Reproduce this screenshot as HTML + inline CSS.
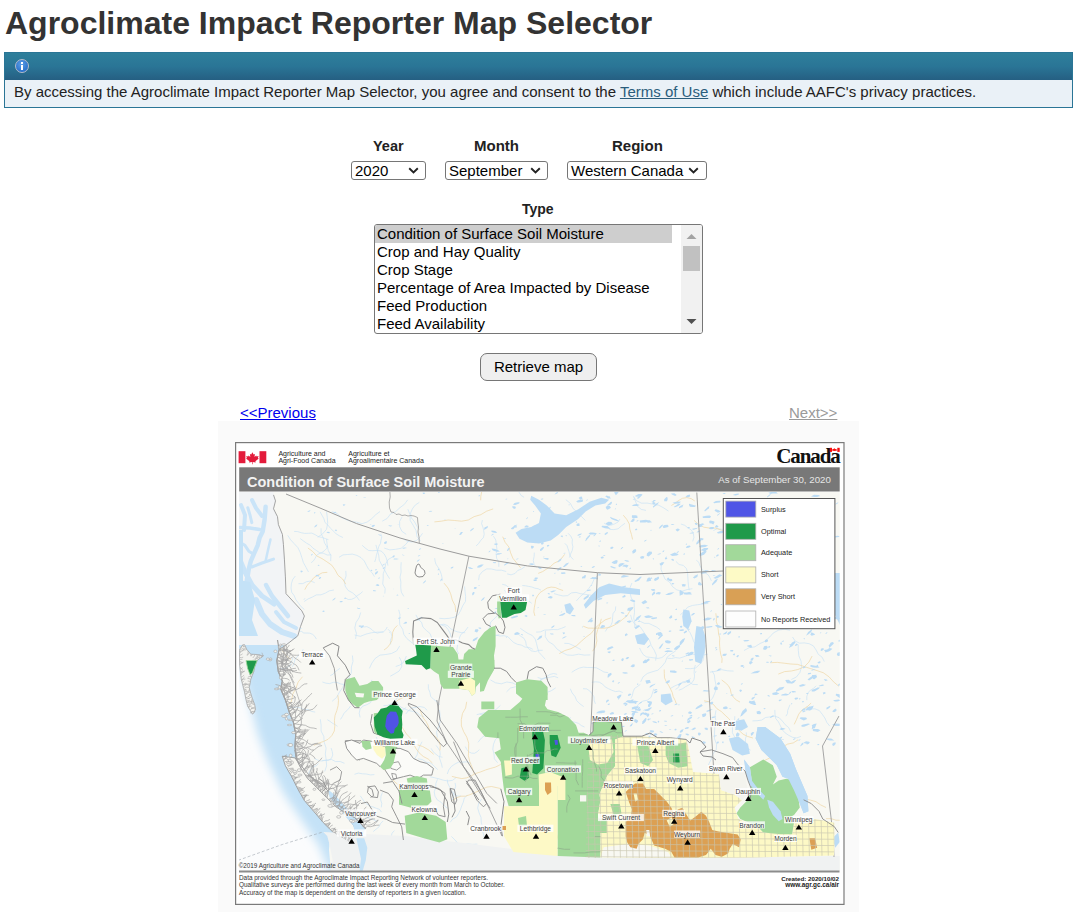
<!DOCTYPE html>
<html lang="en">
<head>
<meta charset="utf-8">
<title>Agroclimate Impact Reporter Map Selector</title>
<style>
*{box-sizing:border-box;margin:0;padding:0}
html,body{width:1079px;height:912px;overflow:hidden;background:#fff}
body{font-family:"Liberation Sans",Arial,sans-serif;color:#333;position:relative}
h1{position:absolute;left:5px;top:4px;font-size:32px;font-weight:bold;color:#333;white-space:nowrap;line-height:38px}
.alert{position:absolute;left:4px;top:52px;width:1069px;height:56px;border:1px solid #2a7596}
.alert .hd{position:absolute;left:0;top:0;right:0;height:27px;background:linear-gradient(#2e7f9b,#2a7596 50%,#255f82)}
.alert .bd{position:absolute;left:0;top:27px;right:0;bottom:0;background:#eaf1f7}
.alert .bd p{position:absolute;left:9px;top:2px;font-size:15px;color:#222;white-space:nowrap;line-height:20px}
.alert a{color:#2a5d7c;text-decoration:underline}
.info{position:absolute;left:10px;top:6px;width:14px;height:14px;border-radius:50%;background:radial-gradient(circle at 45% 35%,#5d9ee6,#2a72cc 70%);border:1px solid #b4bccb}
.info:after{content:"";position:absolute;left:5px;top:5px;width:2px;height:5px;background:#fff}
.info:before{content:"";position:absolute;left:5px;top:2px;width:2px;height:2px;background:#fff}
.lbl{position:absolute;font-size:15px;font-weight:bold;color:#222;white-space:nowrap;line-height:16px}
.sel{position:absolute;height:19px;border:1px solid #767676;border-radius:3px;background:#fff;font-size:15px;color:#000;line-height:17px;padding-left:3px;white-space:nowrap}
.sel svg{position:absolute;top:5px}
.list{position:absolute;left:374px;top:224px;width:329px;height:110px;border:1px solid #767676;border-radius:3px;background:#fff;overflow:hidden}
.list .it{position:absolute;left:0;font-size:15px;color:#000;line-height:18px;white-space:nowrap;padding-left:2px}
.list .it.s{background:#cecece;width:297px}
.sb{position:absolute;right:0;top:0;width:21px;height:108px;background:#f1f1f1}
.btn{position:absolute;left:480px;top:353px;width:117px;height:28px;border:1px solid #767676;border-radius:7px;background:#efefef;font-size:15px;color:#000;text-align:center;line-height:26px}
.lnk{position:absolute;top:404px;font-size:15px;line-height:18px;text-decoration:underline;white-space:nowrap}
.mapwrap{position:absolute;left:218px;top:421px;width:641px;height:491px;background:#fafafa}
#map{position:absolute;left:235px;top:442px;width:610px;height:463px}
</style>
</head>
<body>
<h1>Agroclimate Impact Reporter Map Selector</h1>
<div class="alert">
  <div class="hd"><span class="info"></span></div>
  <div class="bd"><p>By accessing the Agroclimate Impact Reporter Map Selector, you agree and consent to the <a>Terms of Use</a> which include AAFC's privacy practices.</p></div>
</div>

<div class="lbl" style="left:373px;top:138px;font-size:14.5px">Year</div>
<div class="lbl" style="left:474px;top:138px">Month</div>
<div class="lbl" style="left:612px;top:138px">Region</div>

<div class="sel" style="left:351px;top:161px;width:75px">2020<svg style="left:56px" width="11" height="8" viewBox="0 0 11 8"><path d="M1.2 1.3 L5.5 5.4 L9.8 1.3" fill="none" stroke="#222" stroke-width="1.9"/></svg></div>
<div class="sel" style="left:445px;top:161px;width:103px">September<svg style="left:84px" width="11" height="8" viewBox="0 0 11 8"><path d="M1.2 1.3 L5.5 5.4 L9.8 1.3" fill="none" stroke="#222" stroke-width="1.9"/></svg></div>
<div class="sel" style="left:567px;top:161px;width:140px">Western Canada<svg style="left:120px" width="11" height="8" viewBox="0 0 11 8"><path d="M1.2 1.3 L5.5 5.4 L9.8 1.3" fill="none" stroke="#222" stroke-width="1.9"/></svg></div>

<div class="lbl" style="left:522px;top:201px;font-size:14px">Type</div>
<div class="list">
  <div class="it s" style="top:0">Condition of Surface Soil Moisture</div>
  <div class="it" style="top:18px">Crop and Hay Quality</div>
  <div class="it" style="top:36px">Crop Stage</div>
  <div class="it" style="top:54px">Percentage of Area Impacted by Disease</div>
  <div class="it" style="top:72px">Feed Production</div>
  <div class="it" style="top:90px">Feed Availability</div>
  <div class="sb"><svg width="21" height="108" viewBox="0 0 21 108"><path d="M5.5 14 L10.5 9 L15.5 14Z" fill="#a3a3a3"/><rect x="2" y="21" width="17" height="25" fill="#c1c1c1"/><path d="M5.5 94 L10.5 99 L15.5 94Z" fill="#505050"/></svg></div>
</div>
<div class="btn">Retrieve map</div>

<a class="lnk" style="left:240px;color:#0000ee">&lt;&lt;Previous</a>
<a class="lnk" style="left:789px;color:#9a9a9a">Next&gt;&gt;</a>

<div class="mapwrap"></div>
<svg id="map" width="610" height="463" viewBox="235 442 610 463"><defs>
<clipPath id="ocn"><polygon points="239,636 297.8,635.8 286,645 279.1,649.5 276.8,660.5 278.3,671.5 282.3,681 280.7,688.8 285.4,699.9 289.4,712.5 293.3,721.9 295.7,734.5 294.9,747.1 296.4,759.5 301.2,768.9 307.5,778.4 316.9,787.8 326.4,797.3 335.8,806.7 345.3,813 354.7,817.7 361,824 365.8,828.8 362,835 345,838 330,836 329,850 331,872 239,872"/></clipPath>
<clipPath id="mc"><rect x="239" y="492" width="600.7" height="379"/></clipPath>
<clipPath id="skclip"><polygon points="615.1,739.4 623,736.2 641.9,736.2 657.7,737.8 670.3,737.8 686,739.4 688,745.6 690,756 693,772 719,774 721,790 735,795 742,800 734.5,807.5 738.4,819 757.6,826.7 763.3,832.4 792.1,834.3 794,822.8 807.5,822.8 815.1,819 834.3,822.8 834.3,845.8 834,855.5 750,857.5 650,858 600.5,857.5 600.5,830 598,815 600.5,800 599.4,794.5 607.3,775.6 615.1,766.2"/><polygon points="588.6,735.3 593,731.5 593.1,722.1 621.4,722.1 623,736.2 615.1,739.4 615.1,766.2 607.3,775.6 599.4,794.5 600.5,800 598,815 600.5,830 600.5,858 585.5,858"/></clipPath>
<clipPath id="abclip"><polygon points="516.3,683.4 524.1,680.8 534.5,682.1 542.3,684.7 544.9,689.8 547.5,693.7 546.2,698.9 544.9,705.4 547.5,709.3 557.9,711.9 568.2,717.1 576,724.9 578.6,732.7 583.8,732.7 589,735.3 593,731.5 593.1,722.1 621.4,722.1 623,736.2 615.1,739.4 615.1,766.2 607.3,775.6 599.4,794.5 600.5,800 598,815 600.5,830 600.5,857.5 557.5,856 557.5,786 539,786 539,806 508.7,806.2 504,790.3 502.4,777.7 500.8,761.9 494.5,752.5 500.8,749.3 499.3,738.3 485.1,736.7 477.2,727.3 478.8,717.8 488.2,709.9 510.3,709.9 519.7,702.1 526,694.2 516.6,692.6"/></clipPath>
<filter id="blur3" x="-20%" y="-20%" width="140%" height="140%"><feGaussianBlur stdDeviation="5"/></filter>
<filter id="blur6" x="-20%" y="-20%" width="140%" height="140%"><feGaussianBlur stdDeviation="8"/></filter>
</defs><rect x="235" y="442" width="610" height="463" fill="#fff"/><g clip-path="url(#mc)">
<rect x="239" y="492" width="601" height="380" fill="#f8f8f3"/>
<g fill="none" stroke="#c8e2f6" stroke-width="0.65" stroke-linejoin="round">
<polyline points="536.1,632.1 540.4,631.9 544.4,630.1 548.7,629.9 553.1,629.5 557.4,629.7 561.5,628.3 565.6,626.6"/>
<polyline points="363.7,627.0 366.8,626.6 369.6,628.0 372.2,629.8 374.4,632.0 377.3,633.1 380.4,632.4 383.4,631.8 385.8,629.7 387.2,627.0"/>
<polyline points="419.3,502.4 415.3,505.0 412.4,508.8 410.5,513.2 411.4,517.9 414.4,521.6 416.7,525.8 419.4,529.7"/>
<polyline points="591.0,723.3 594.8,724.0 598.8,723.8 602.1,721.7 605.9,720.7 609.6,719.3 613.5,719.5"/>
<polyline points="499.5,729.7 502.8,728.1 504.8,725.1 506.3,721.8 508.6,719.0"/>
<polyline points="518.0,633.7 520.8,636.3 524.0,638.3 525.7,641.7 526.3,645.5 528.5,648.6 531.5,650.9 535.3,651.6 538.8,650.3 542.7,650.3"/>
<polyline points="383.6,632.0 377.7,632.1 371.7,632.7 366.0,634.1 360.4,636.3 354.6,635.0"/>
<polyline points="285.3,706.8 289.0,707.9 292.9,707.7 296.8,707.1 300.5,708.0 304.1,709.6 308.0,709.4 311.4,711.4 315.2,712.1"/>
<polyline points="428.3,684.3 428.4,688.5 429.9,692.4 430.7,696.4 433.7,699.4 437.0,701.8 440.0,704.7"/>
<polyline points="355.6,638.9 356.4,633.3 354.8,628.0 356.0,622.5 359.1,617.8 360.7,612.5"/>
<polyline points="390.3,676.2 394.8,673.7 399.1,671.1 401.7,666.8 401.6,661.7 399.3,657.2"/>
<polyline points="569.4,557.5 570.6,553.9 572.2,550.5 572.9,546.8 572.1,543.1 572.4,539.4 570.7,536.0 568.1,533.3"/>
<polyline points="595.4,703.8 594.2,700.4 594.0,696.8 592.0,693.7 589.7,690.9 586.7,688.9 583.0,688.7"/>
<polyline points="441.5,625.1 445.4,626.3 448.0,629.4 450.0,633.0 451.1,636.9"/>
<polyline points="609.4,529.4 613.8,529.6 618.1,528.8 621.4,525.9 625.0,523.3"/>
<polyline points="326.5,511.5 327.3,517.4 327.7,523.4 326.5,529.3 322.6,533.9 317.7,537.2"/>
<polyline points="675.5,689.4 678.3,687.6 679.8,684.7 682.4,682.8 685.7,682.4 688.2,680.4 690.7,678.3"/>
<polyline points="293.1,657.3 291.6,661.9 289.4,666.2 285.2,668.5 280.4,668.7"/>
<polyline points="689.2,590.2 688.5,585.8 688.1,581.5 687.8,577.1 687.6,572.8 686.4,568.5 683.3,565.4 679.1,564.5 675.9,561.4"/>
<polyline points="347.7,686.1 344.2,684.6 340.5,683.9 337.0,682.4 333.3,682.3 329.7,683.6 326.0,683.2 322.4,682.0"/>
<polyline points="530.3,713.5 528.0,716.5 524.8,718.5 521.2,719.4 518.2,721.6 516.0,724.7 515.0,728.3 512.4,731.0 510.8,734.4 510.8,738.1"/>
<polyline points="479.7,714.4 485.5,714.4 490.9,712.0 496.1,709.4 500.4,705.4"/>
<polyline points="403.8,596.4 401.3,592.1 400.7,587.1 400.9,582.1 400.0,577.1 401.1,572.2 400.9,567.2 401.2,562.2"/>
<polyline points="661.4,563.9 661.0,569.2 662.9,574.3 665.1,579.2 669.6,582.1 672.5,586.6 676.8,589.9 682.0,591.2 687.1,589.6 692.4,588.7"/>
<polyline points="532.8,649.3 529.1,647.5 525.0,647.1 521.4,645.1 517.4,644.3 513.7,642.5 510.7,639.7 507.9,636.7 503.9,635.7 499.8,636.0 495.8,635.0"/>
<polyline points="584.5,727.0 581.4,725.6 578.6,723.4 575.3,722.3 571.9,721.5 569.2,719.3 566.3,717.5 563.2,715.8 559.8,715.4 556.9,713.4 553.4,713.4"/>
<polyline points="590.3,654.9 584.4,655.1 578.7,654.2 572.9,655.3 567.1,655.0 561.9,652.4 557.1,649.1 553.4,644.6 548.4,641.6 545.3,636.7 545.4,630.8"/>
<polyline points="790.0,704.7 788.8,707.5 787.7,710.4 787.5,713.5 785.9,716.2"/>
<polyline points="406.2,707.5 403.3,709.7 400.0,710.7 397.4,713.1 395.9,716.3"/>
<polyline points="571.7,672.3 575.3,670.0 579.2,668.1 583.4,667.1 587.7,667.5 592.1,667.5 596.4,667.8 600.2,669.8 603.9,672.0 608.2,672.7"/>
<polyline points="570.4,717.3 568.6,721.0 565.2,723.5 562.9,726.9 559.4,729.1 555.3,729.1 551.2,729.0 547.0,728.6 543.0,729.6 539.0,730.4"/>
<polyline points="564.3,643.3 568.8,643.5 573.0,645.4 577.0,647.5 581.0,649.6"/>
<polyline points="668.5,511.1 663.7,507.9 658.7,505.2 653.0,504.1 647.3,503.1 641.6,503.2 636.4,500.7 633.2,495.9"/>
<polyline points="345.3,597.8 348.2,599.5 351.6,599.3 354.7,597.9 357.2,595.6 360.1,593.9 362.6,591.6"/>
<polyline points="482.2,646.8 484.5,651.0 486.0,655.5 486.4,660.2 485.7,664.9 482.9,668.8 482.7,673.5 481.8,678.2 479.1,682.1 475.9,685.7"/>
<polyline points="583.7,706.6 580.0,703.9 576.7,700.7 575.0,696.5 572.1,692.9 570.3,688.7"/>
<polyline points="734.8,716.2 734.6,721.8 732.5,727.1 732.4,732.8 735.0,737.8 735.0,743.5 737.4,748.6"/>
<polyline points="333.9,590.0 329.4,590.8 325.3,593.1 321.0,594.8 316.4,594.9 312.3,597.1 308.1,598.9 304.2,601.5"/>
<polyline points="676.1,650.5 671.6,653.7 667.2,657.0 665.3,662.1 661.9,666.4 657.9,670.2 652.6,671.7 647.4,673.4 643.1,676.8 640.7,681.8"/>
<polyline points="380.7,533.7 381.8,536.8 381.0,540.0 380.5,543.3 378.9,546.2 378.0,549.3 377.2,552.5 376.3,555.7 375.7,558.9 374.7,562.0"/>
<polyline points="292.4,666.8 294.1,662.9 295.2,658.8 298.1,655.8 301.4,653.2 303.1,649.3"/>
<polyline points="332.1,701.3 336.5,697.5 339.3,692.4 342.6,687.6 344.9,682.3 348.8,677.9 351.4,672.7 351.4,666.9 353.0,661.3 352.4,655.5"/>
<polyline points="468.1,627.0 464.9,631.3 460.8,634.5 458.8,639.4 457.7,644.6 456.8,649.9 459.0,654.7 462.0,659.1"/>
<polyline points="639.5,647.9 641.2,651.4 643.3,654.7 646.5,656.9 650.3,657.4 654.2,657.9 658.0,658.4 661.9,657.6 664.9,655.2 667.6,652.4"/>
<polyline points="604.1,523.1 607.3,525.1 611.0,525.2 614.6,523.9 617.9,522.1 620.0,519.0"/>
<polyline points="424.2,716.9 420.2,715.5 417.1,712.6 413.0,711.4 408.9,710.6 404.9,709.0 401.1,707.2 397.7,704.6 396.1,700.7"/>
<polyline points="499.5,725.0 495.1,728.4 490.4,731.3 485.9,734.6 481.4,738.0 478.0,742.3"/>
<polyline points="506.2,571.5 501.4,570.2 496.4,570.2 491.6,569.0 486.7,568.9 482.5,571.5 479.3,575.3 478.6,580.2"/>
<polyline points="371.9,679.9 370.2,684.8 366.0,688.0 360.8,688.6 356.5,691.6 351.3,692.4 346.2,693.5"/>
<polyline points="550.1,733.4 549.0,736.5 546.6,738.8 545.3,741.8 542.6,743.7 540.7,746.4 538.1,748.5 537.0,751.5 536.1,754.7"/>
<polyline points="350.5,706.0 348.6,708.8 346.1,711.1 343.8,713.6 342.3,716.6 340.5,719.4"/>
<polyline points="517.8,685.6 512.6,682.9 506.8,682.0 501.3,683.8 495.5,682.8 490.4,679.9"/>
<polyline points="631.9,583.0 630.0,587.8 630.0,593.0 631.3,598.0 634.1,602.3 634.3,607.5 634.5,612.7 633.7,617.8 634.8,622.8 634.8,628.0"/>
<polyline points="633.8,497.3 635.7,501.8 637.5,506.3 641.3,509.4 646.0,510.4"/>
<polyline points="660.3,629.9 656.8,627.2 652.8,625.3 648.8,623.4 644.3,623.3 640.3,621.4 637.2,618.2"/>
<polyline points="533.3,696.4 534.9,693.1 535.5,689.6 537.4,686.4 538.7,683.1 540.7,680.0 544.0,678.5 547.0,676.4 550.0,674.4 553.5,673.5 557.1,674.3"/>
<polyline points="522.3,585.5 525.6,585.8 528.7,586.4 531.9,587.0 534.9,588.2 538.1,588.7 541.0,590.2"/>
<polyline points="327.2,547.2 324.5,542.9 323.3,538.0 321.1,533.4 321.1,528.3"/>
<polyline points="406.4,656.0 404.8,659.7 402.8,663.1 399.5,665.2 395.7,666.5"/>
<polyline points="440.0,624.9 443.9,624.2 447.6,625.6 450.3,628.5 453.7,630.5 457.4,631.8 461.3,632.6 465.2,632.7"/>
<polyline points="504.6,590.0 506.5,593.6 509.6,596.2 512.5,599.1 516.3,600.7 520.4,600.3 524.5,599.7 528.4,600.8 531.7,603.3"/>
<polyline points="407.8,509.1 410.0,514.6 410.2,520.5 413.3,525.5 416.1,530.7 417.0,536.5 420.5,541.2"/>
<polyline points="330.3,675.6 333.1,674.2 334.9,671.8 337.5,670.1 340.0,668.3"/>
<polyline points="680.3,614.8 684.3,611.4 687.6,607.2 692.6,605.4 697.8,604.7 703.0,604.0 708.3,603.4"/>
<polyline points="685.1,668.5 690.4,668.7 695.6,668.0 699.5,664.5 702.9,660.5 704.0,655.3 704.8,650.1 705.9,644.9"/>
<polyline points="298.5,583.7 302.8,583.6 306.6,581.7 310.8,581.0 314.7,582.7"/>
<polyline points="493.4,536.1 495.8,540.0 496.3,544.5 496.9,549.1 496.2,553.6 496.6,558.2 498.8,562.2 498.8,566.8"/>
<polyline points="791.3,679.5 796.4,677.0 799.9,672.5 801.5,667.0 801.1,661.3 798.9,655.9 798.3,650.3 798.2,644.5"/>
<polyline points="409.3,540.3 405.5,544.6 401.1,548.3 395.5,549.3 389.8,549.9 384.3,548.1"/>
<polyline points="554.0,593.6 558.5,594.9 563.0,596.0 567.6,595.6 571.4,592.9 576.0,592.4 580.5,593.7 585.1,594.3 589.7,595.0 594.2,595.9"/>
<polyline points="437.4,737.6 436.6,732.0 438.6,726.7 440.2,721.2 440.1,715.5 439.5,709.9"/>
<polyline points="713.4,530.5 717.6,528.6 722.1,529.4 726.6,528.9 731.1,528.7 735.2,526.6 739.6,525.8 743.0,522.7 747.2,521.1 751.7,521.3 755.9,523.2"/>
<polyline points="330.7,561.1 330.9,555.5 328.2,550.4 327.2,544.9 326.5,539.2"/>
<polyline points="565.8,499.7 570.3,503.3 573.0,508.4 577.2,512.2 581.3,516.3 585.3,520.4"/>
<polyline points="372.4,698.8 370.6,702.6 366.9,704.7 362.9,706.1 360.1,709.2 359.2,713.3 360.1,717.4"/>
<polyline points="655.6,660.6 656.4,655.2 654.2,650.2 651.2,645.5 649.5,640.3 646.2,635.9 643.3,631.3 640.2,626.8 635.1,624.7 632.0,620.2 630.6,614.9"/>
<polyline points="399.7,645.9 396.7,650.9 391.5,653.5 385.8,654.5 380.0,655.1 375.2,658.4 371.9,663.1 369.4,668.4"/>
<polyline points="345.8,570.9 346.1,576.0 344.4,580.9 345.1,586.0 348.0,590.4 352.5,592.8 356.4,596.2 359.4,600.5"/>
<polyline points="384.8,593.6 385.2,588.5 382.7,584.0 383.2,578.9 383.2,573.8 384.9,568.9 385.6,563.9 388.2,559.5 392.6,556.9"/>
<polyline points="362.2,545.3 365.3,548.1 368.7,550.5 372.8,550.7 377.0,550.4 381.1,551.0 384.1,553.8 386.1,557.5 387.3,561.5 387.9,565.6"/>
<polyline points="295.3,576.1 292.7,579.5 291.4,583.7 291.0,588.0 291.7,592.3 294.3,595.8 295.9,599.8 298.5,603.2 301.1,606.7 304.4,609.5"/>
<polyline points="414.8,644.9 410.8,641.8 406.8,638.5 403.8,634.3 402.7,629.3 399.8,625.0 399.5,619.9 400.0,614.8 398.7,609.8"/>
<polyline points="331.2,554.9 327.2,555.0 323.6,553.3 319.6,552.7 316.3,550.4 313.0,548.2 310.3,545.3 306.8,543.3 303.5,541.0 300.3,538.6"/>
<polyline points="320.3,719.2 321.1,725.1 321.1,731.1 323.8,736.4 324.2,742.4 326.1,748.1 325.3,754.0 326.2,759.9 326.6,765.8 324.7,771.5"/>
<polyline points="388.0,629.2 390.9,632.3 391.9,636.4 390.4,640.3 390.7,644.5"/>
<polyline points="704.6,702.6 709.3,701.5 712.6,698.1 714.5,693.7 716.2,689.2 715.9,684.5 714.9,679.8 714.4,675.0 712.1,670.9"/>
<polyline points="573.5,559.6 571.2,557.4 569.6,554.7 569.0,551.6 568.0,548.6 567.0,545.6 564.8,543.3"/>
<polyline points="476.7,714.7 481.8,713.4 486.9,712.0 491.9,713.7 495.8,717.3 497.9,722.1 500.5,726.7 503.5,731.0 506.1,735.6"/>
<polyline points="576.4,600.9 580.2,596.6 584.5,592.9 588.5,588.8 591.9,584.2 594.2,579.0 598.2,574.8"/>
<polyline points="774.8,709.9 775.0,714.2 775.7,718.5 778.4,721.8 780.4,725.7 782.2,729.7 785.1,732.9 788.7,735.3 792.6,737.3 796.9,737.9 800.9,736.4"/>
<polyline points="790.8,731.8 788.7,727.6 785.2,724.6 782.3,721.0 779.1,717.7 774.7,716.1 770.1,716.9 765.5,717.5 761.7,720.1 757.1,720.7 752.5,720.9"/>
<polyline points="536.5,567.5 534.1,564.4 533.3,560.5 534.1,556.6 534.3,552.6"/>
<polyline points="482.9,638.4 487.2,638.7 491.5,638.1 495.2,635.7 499.4,634.7"/>
<polyline points="716.0,710.3 715.0,716.0 716.0,721.6 714.8,727.3 714.5,733.0 714.5,738.8 716.6,744.1 716.2,749.9 712.6,754.4 710.9,759.9 708.3,765.1"/>
<polyline points="391.3,710.6 394.3,713.2 395.5,716.9 397.7,720.1 400.2,723.1"/>
<polyline points="816.1,685.8 813.5,688.4 810.3,690.2 807.9,693.0 806.8,696.5 806.8,700.2"/>
<polyline points="653.8,688.7 652.5,693.0 651.0,697.4 647.4,700.2 642.9,701.1 639.1,703.6 636.3,707.2 635.3,711.7 633.4,715.9 631.7,720.1"/>
<polyline points="327.3,719.7 329.9,721.3 332.3,723.1 335.0,724.6 337.5,726.3"/>
<polyline points="376.3,737.1 377.5,740.8 380.0,743.7 380.8,747.5 379.5,751.1 380.2,754.8"/>
<polyline points="541.2,678.9 540.2,681.9 538.3,684.4 535.4,685.7 532.8,687.6 530.3,689.6 529.2,692.6 528.9,695.8"/>
<polyline points="744.0,650.5 749.2,647.7 754.9,646.8 759.9,643.6 765.2,641.2 769.5,637.2 773.4,632.9 778.6,630.1 784.4,629.2 790.1,630.3"/>
<polyline points="415.9,614.8 418.1,619.1 421.6,622.4 422.9,627.0 426.3,630.4 430.0,633.5 431.8,638.0 434.6,641.9 436.8,646.2"/>
<polyline points="622.7,692.5 619.2,691.1 615.5,691.6 611.9,690.3 608.5,688.7 605.1,686.9 602.6,684.1 599.3,682.2 595.6,681.8 591.8,682.3"/>
<polyline points="308.5,572.0 306.0,567.3 303.4,562.6 301.8,557.5 300.2,552.4 297.9,547.6 294.2,543.7 290.6,539.8 287.7,535.3"/>
<polyline points="615.7,606.4 615.4,610.4 613.0,613.7 612.6,617.8 612.3,621.9 610.8,625.7 607.4,628.0 605.3,631.5"/>
<polyline points="537.7,677.5 541.8,678.7 545.9,677.8 550.1,677.2 554.3,676.4 558.2,677.8"/>
<polyline points="824.3,661.6 822.1,657.2 818.3,654.3 816.1,650.0 813.4,645.9 809.1,643.7 804.3,642.9 799.5,643.2 795.2,641.0 792.5,637.0"/>
<polyline points="406.2,534.3 401.9,531.3 399.6,526.6 399.6,521.4 402.1,516.9"/>
<polyline points="383.4,705.7 387.5,705.4 391.3,703.7 394.7,701.4 397.1,698.0 399.6,694.7"/>
<polyline points="375.9,544.9 377.3,550.0 378.7,555.1 379.3,560.3 381.8,565.0 384.4,569.6 386.8,574.3 389.6,578.7"/>
<polyline points="311.2,562.7 313.5,560.8 315.2,558.2 316.5,555.4 319.0,553.7 321.9,552.6 324.3,550.8 326.5,548.6 327.5,545.8"/>
<polyline points="710.0,672.2 715.9,671.2 721.7,669.7 727.6,670.8 733.6,671.1"/>
<polyline points="427.2,710.3 424.2,707.4 420.1,706.6 416.0,707.5 411.8,708.0 408.5,710.6 405.9,713.9"/>
<polyline points="520.3,628.3 524.1,631.0 528.0,633.5 532.2,635.4 535.2,639.0 536.5,643.5 537.6,648.0 539.0,652.4 542.2,655.8 545.3,659.3"/>
<polyline points="482.4,520.1 481.6,523.7 482.9,527.1 483.7,530.7 484.2,534.3 483.3,537.8 480.7,540.4 478.7,543.4 476.1,546.0"/>
<polyline points="667.5,658.3 671.6,658.5 675.6,657.6 679.7,658.1 683.6,656.8 687.5,655.4 691.4,654.0 695.5,654.7 699.6,654.3 703.6,654.9 707.7,654.2"/>
<polyline points="711.4,580.9 710.0,577.9 708.4,575.1 705.8,573.2 703.3,571.0 701.5,568.3 699.8,565.5 698.8,562.3 696.3,560.2"/>
<polyline points="502.2,584.3 505.9,585.2 508.9,587.5 512.4,589.1 515.3,591.5 516.9,595.0 520.0,597.3 523.8,597.6"/>
<polyline points="464.6,586.5 465.0,591.4 465.6,596.4 465.5,601.4 462.8,605.6 460.8,610.2 458.4,614.6 454.2,617.3 449.3,618.3 444.3,618.7 439.3,618.3"/>
<polyline points="513.1,596.8 512.6,601.2 509.9,604.6 507.7,608.4 504.3,611.2 500.4,613.2 497.1,616.1 493.9,619.1 490.7,622.1 489.8,626.4 488.3,630.5"/>
<polyline points="434.7,558.2 435.1,561.2 435.9,564.1 437.6,566.6 439.2,569.1 440.4,571.9 441.4,574.7 442.0,577.7 442.4,580.7"/>
<polyline points="746.3,732.4 746.4,735.7 745.4,738.8 745.5,742.1 746.1,745.4 747.9,748.2 750.5,750.1"/>
<polyline points="374.4,576.6 372.0,572.6 368.6,569.3 366.4,565.2 364.3,561.0 361.0,557.6 356.9,555.4 352.4,554.1 347.7,554.5 343.0,554.9 339.0,557.3"/>
<polyline points="320.1,511.8 322.0,515.3 323.9,518.7 325.0,522.5 327.9,525.1 330.4,528.2 333.2,530.9 336.0,533.7 339.3,535.8 342.9,537.5"/>
<polyline points="695.4,665.0 694.4,668.6 694.1,672.3 694.6,676.1 693.9,679.8 691.8,682.9 688.7,685.0 685.4,686.8 682.3,688.9 678.8,690.2"/>
<polyline points="630.8,698.6 632.4,695.4 633.1,691.9 634.5,688.5 637.5,686.5 640.4,684.3"/>
<polyline points="670.1,688.7 674.4,686.1 679.0,684.1 683.4,681.6 688.5,681.6 692.7,684.4 697.8,684.6"/>
<polyline points="680.9,524.0 684.7,525.3 687.9,527.8 691.4,530.0 693.4,533.5 693.9,537.5 692.7,541.4"/>
<polyline points="380.0,511.5 375.6,514.8 371.7,518.7 367.2,522.0 362.0,523.7 356.7,522.2 351.2,521.5 346.0,519.6 341.0,517.4 337.1,513.5 331.9,511.6"/>
<polyline points="382.2,521.2 387.1,518.5 390.5,514.0 395.6,511.6 399.8,507.8 404.3,504.4 407.7,499.9"/>
<polyline points="507.1,573.9 511.1,574.8 515.0,573.5 517.7,570.5 521.5,569.0 524.9,566.7"/>
<polyline points="328.5,539.7 325.1,538.5 321.7,537.4 318.2,536.6 315.2,534.7 311.9,533.1 308.3,533.3 304.7,533.4 301.2,532.7 297.7,531.6 294.1,531.4"/>
<polyline points="806.1,706.8 810.2,709.0 814.9,708.8 819.3,710.5 822.2,714.2 824.9,718.1 826.8,722.4 829.8,726.1"/>
<polyline points="298.3,631.2 301.3,631.3 303.8,633.0 306.9,633.0 309.9,633.2 312.7,634.4 314.9,636.5 316.4,639.1"/>
<polyline points="506.6,691.8 510.5,688.0 515.8,686.7 521.0,685.3 526.3,686.1 531.7,686.3 536.4,689.0 540.7,692.3 546.1,692.7 551.2,690.8 555.7,687.9"/>
<polyline points="687.0,619.0 686.5,623.9 687.1,628.7 690.0,632.6 692.1,637.0 693.7,641.6 696.6,645.6"/>
<polyline points="403.6,539.1 407.6,541.4 412.2,542.0 416.6,540.4 419.9,537.1 422.5,533.3"/>
<polyline points="524.1,497.3 521.3,495.6 519.4,492.9 518.4,489.7 515.9,487.6 512.8,486.6 509.6,487.3 506.3,487.6"/>
<polyline points="415.8,775.4 411.8,774.7 408.6,772.3 406.5,769.0 402.9,767.1 399.2,765.7"/>
<polyline points="484.2,837.0 482.9,832.1 482.5,827.2 481.3,822.3 481.0,817.4 479.1,812.8 477.7,808.0 478.7,803.1 481.6,799.1"/>
<polyline points="425.7,795.5 423.3,793.4 421.5,790.7 419.6,788.1 417.5,785.6"/>
<polyline points="467.3,795.2 464.3,798.0 463.3,802.1 461.7,805.9 460.4,809.8 458.6,813.5 456.4,817.1 452.7,819.0 450.2,822.3"/>
<polyline points="393.7,849.2 393.3,845.9 393.2,842.5 391.3,839.7 391.2,836.3 392.1,833.1 394.4,830.6"/>
<polyline points="322.2,760.6 326.8,760.0 331.5,759.5 335.6,761.6 340.2,761.5 344.5,763.3"/>
<polyline points="442.3,767.6 441.6,764.3 440.5,761.0 439.4,757.8 440.2,754.4 439.9,751.0 438.1,748.1 436.1,745.4"/>
<polyline points="451.4,836.4 454.8,839.8 457.9,843.3 459.1,847.8 458.6,852.5 460.0,857.0 462.1,861.2 465.9,863.9"/>
<polyline points="307.4,778.0 308.4,775.0 309.1,771.8 311.0,769.2 313.2,766.8 316.3,765.8 318.4,763.4"/>
<polyline points="497.6,762.7 494.4,758.9 494.0,754.0 492.8,749.2 493.5,744.3 495.3,739.7 498.8,736.3 503.6,735.1 508.5,734.8 513.1,732.9"/>
<polyline points="341.9,824.3 345.1,826.6 349.0,827.3 352.0,829.8 354.6,832.7 357.7,835.2 361.5,836.3 364.0,839.4 365.7,842.9"/>
<polyline points="447.3,779.6 447.7,783.0 449.1,786.1 450.9,789.0 452.3,792.1 454.5,794.7 457.6,796.1 461.0,796.0"/>
<polyline points="319.0,796.5 316.0,799.4 312.1,800.8 308.6,803.1 304.5,803.7 300.4,803.5 296.2,803.5 292.6,801.5"/>
<polyline points="377.5,821.8 373.7,819.8 369.6,818.6 365.6,817.1 362.0,814.8 357.9,813.6 354.1,811.6 349.9,812.0"/>
<polyline points="422.1,741.7 419.9,745.9 418.1,750.3 417.1,755.0 414.5,759.0 410.4,761.6 406.1,763.7 401.7,765.6 398.7,769.3"/>
<polyline points="479.3,749.7 477.1,751.8 474.4,753.3 471.3,753.1 468.6,751.7 466.7,749.3 465.3,746.6"/>
<polyline points="331.1,748.0 332.2,751.5 332.8,755.0 331.4,758.4 328.4,760.4 324.8,760.5 321.2,761.0 317.7,760.1 314.4,758.5"/>
<polyline points="440.2,849.7 443.3,852.7 444.5,856.9 445.7,861.0 446.4,865.3 447.1,869.5 446.1,873.7 445.0,877.9"/>
<polyline points="319.2,827.4 323.3,829.0 326.2,832.3 328.4,836.1 328.2,840.5 328.1,844.9 326.1,848.8 324.4,852.9 324.5,857.2 325.3,861.6"/>
<polyline points="373.2,831.6 376.1,829.2 379.0,826.9 380.6,823.5 383.2,820.9"/>
<polyline points="360.3,795.8 362.3,798.7 364.2,801.6 366.7,804.0 369.6,805.9 372.9,806.9 376.1,808.2 379.4,809.3 381.5,812.1"/>
<polyline points="417.8,758.7 422.4,759.6 426.3,762.2 430.9,763.1 434.3,766.3 437.7,769.6"/>
<polyline points="381.3,807.3 381.8,803.5 380.7,799.9 381.0,796.1 382.4,792.5"/>
<polyline points="442.5,757.2 438.8,756.5 435.8,754.1 433.0,751.6 431.1,748.3"/>
<polyline points="455.1,782.9 455.7,786.4 454.5,789.7 454.0,793.2 453.5,796.6 452.4,800.0"/>
<polyline points="477.3,844.1 472.5,844.4 467.7,843.9 462.9,844.8 458.0,845.2 453.6,847.1 450.6,850.9 446.4,853.4 442.7,856.5"/>
<polyline points="429.7,776.7 434.3,777.7 438.9,778.8 443.3,780.2 447.9,781.0 452.5,780.3 456.3,777.5"/>
<polyline points="374.4,774.6 370.4,774.9 366.4,774.0 362.4,773.8 358.4,773.1 354.5,774.3"/>
<polyline points="437.5,779.3 435.9,783.4 435.7,787.7 434.2,791.9 435.0,796.2 437.3,799.9 441.1,802.2 443.9,805.5 447.4,808.3"/>
<polyline points="471.2,763.5 467.2,761.8 462.9,762.1 458.6,762.1 454.8,764.1 451.3,766.5 448.7,770.0 447.3,774.0"/>
</g>
<g fill="none" stroke="#efd7a6" stroke-width="0.7" stroke-linejoin="round">
<polyline points="307.9,548.0 312.7,551.5 316.7,555.9 322.0,558.6 326.9,561.8 331.8,565.2 335.2,570.1 338.0,575.3 342.6,579.0 345.7,584.1"/>
<polyline points="704.0,700.8 709.2,701.8 713.6,704.6 716.9,708.7 721.3,711.5 725.1,715.2 728.9,718.7 732.1,723.0 735.6,726.9 739.2,730.6 743.1,734.2 747.8,736.5 752.9,738.0"/>
<polyline points="694.1,520.4 698.4,524.5 703.8,527.2 709.7,528.1 715.7,528.1 721.3,530.2 726.8,532.6 731.2,536.7 736.4,539.6 741.8,542.2 747.2,545.0"/>
<polyline points="770.5,662.7 777.3,662.4 784.1,663.2 790.8,664.0 797.6,664.4 804.1,666.5 810.5,668.6 817.0,670.6 823.4,672.8 829.0,676.8 833.5,681.8 838.7,686.2"/>
<polyline points="298.1,787.3 294.8,782.5 291.1,778.1 287.7,773.4 285.7,768.0 283.0,762.9 280.7,757.6 278.3,752.3 278.1,746.6 277.1,740.9 277.0,735.1 275.7,729.5"/>
<polyline points="433.7,754.3 428.6,749.9 422.7,746.5 416.2,744.5 409.5,743.9 403.3,741.3 396.5,740.9 389.9,742.2 383.4,744.0 376.8,745.6"/>
<polyline points="502.7,536.7 505.1,542.3 508.9,547.0 510.6,552.8 512.9,558.3 516.7,563.0 520.5,567.7"/>
<polyline points="559.3,653.6 564.9,650.5 571.0,648.7 576.7,645.6 581.4,641.2 586.2,637.0 591.4,633.2 595.2,628.0 600.0,623.8 605.1,619.9 611.1,617.8"/>
<polyline points="798.2,739.7 793.3,742.9 787.6,744.1 782.6,747.0 777.9,750.4 774.2,755.0 769.3,758.2 764.1,760.7 759.3,764.1 754.4,767.2"/>
<polyline points="434.4,521.9 441.2,521.2 448.0,520.0 454.8,520.5 461.6,521.2 468.3,520.0 474.2,516.6 480.8,514.7 486.6,511.2 493.1,508.9"/>
<polyline points="676.5,704.2 675.1,700.3 673.2,696.6 672.2,692.5 670.4,688.7 668.5,685.1 666.2,681.6 664.5,677.8 664.3,673.6 664.2,669.5"/>
<polyline points="601.3,618.8 600.0,624.4 597.7,629.6 596.2,635.1 596.9,640.8 595.7,646.4 592.6,651.2"/>
<polyline points="397.4,625.4 394.5,628.4 392.7,632.2 392.4,636.4 391.9,640.5 389.9,644.2 387.4,647.5 384.0,650.0"/>
<polyline points="721.7,680.0 725.1,682.6 728.2,685.4 730.3,689.1 731.1,693.3 733.2,697.0 736.3,700.0 740.0,702.1"/>
<polyline points="671.4,505.5 675.2,503.2 678.6,500.5 682.5,498.3 686.8,497.6 691.1,498.6 694.8,501.0"/>
<polyline points="798.9,799.8 804.7,798.8 810.4,800.1 816.0,801.7 820.8,805.0 826.0,807.5"/>
<polyline points="383.2,768.1 386.2,771.3 389.6,773.9 391.7,777.7 394.1,781.3 397.4,784.1"/>
<polyline points="392.5,709.7 393.5,705.8 395.4,702.3 398.5,699.7 402.1,698.0 405.6,696.1 408.9,693.7"/>
<polyline points="480.7,500.3 480.8,496.2 481.6,492.1 482.5,488.1 482.9,483.9 483.8,479.9 486.0,476.4 488.0,472.7 489.0,468.7 489.1,464.6"/>
<polyline points="538.2,573.4 542.6,571.6 546.5,569.1 550.5,566.5 554.0,563.3 558.2,561.2 561.8,558.1 564.6,554.4"/>
<polyline points="455.8,612.0 455.1,605.7 452.3,600.0 450.7,593.8 448.0,588.0 444.0,583.1"/>
<polyline points="517.9,846.4 516.2,850.2 513.5,853.5 509.8,855.5 506.2,857.7 502.4,859.4 499.0,861.8 494.9,862.8 491.1,864.7 487.0,865.3 482.8,865.7"/>
<polyline points="825.9,818.7 831.0,818.6 835.9,820.2 841.1,820.3 846.1,819.2 851.2,819.7"/>
<polyline points="818.3,825.7 815.3,828.9 811.3,830.9 808.0,833.8 805.6,837.5 802.7,840.9 798.9,843.2 794.8,844.8"/>
<polyline points="812.1,656.1 808.9,662.1 804.2,666.9 797.9,669.5 791.3,671.0 784.6,671.6 778.3,674.1"/>
<polyline points="466.7,701.8 465.6,708.0 462.5,713.4 461.3,719.6 461.4,725.9 463.7,731.7 466.8,737.2 468.7,743.2 468.6,749.4 468.4,755.7 469.8,761.8 472.2,767.7 474.1,773.7"/>
<polyline points="451.9,776.4 456.9,777.6 461.8,778.6 466.8,777.8 471.4,775.7 475.9,773.4 480.7,771.9 485.4,770.0 490.2,768.5 495.1,767.2 499.7,765.1 503.2,761.4 506.4,757.5"/>
<polyline points="742.4,836.2 748.8,837.2 754.9,838.9 761.1,840.5 767.5,840.4 773.4,838.0 778.9,834.6 782.7,829.5 785.6,823.8 789.0,818.3 791.7,812.6 794.4,806.8"/>
<polyline points="633.2,607.6 629.6,611.5 626.9,616.0 622.7,619.3 618.6,622.6 614.0,625.3 609.2,627.5 604.0,628.2 598.7,628.1 593.4,628.2 588.1,628.1 583.2,626.2"/>
<polyline points="710.9,826.5 707.8,829.8 705.3,833.5 704.2,837.8 702.4,841.9 701.1,846.2 699.7,850.4 698.2,854.7 695.4,858.2 692.6,861.6 690.1,865.4 689.3,869.8"/>
<polyline points="563.1,590.5 559.1,589.2 555.3,587.5 551.2,587.1 547.1,588.0 543.6,590.3 540.1,592.5 537.5,595.8 535.6,599.5 535.1,603.6 534.3,607.7 533.8,611.8 534.9,615.9"/>
<polyline points="397.2,719.8 400.3,724.5 403.4,729.3 406.5,734.0 410.4,738.1 413.1,743.1 415.7,748.1 419.0,752.7 423.3,756.5 428.3,759.1 432.4,763.0"/>
<polyline points="731.9,842.4 737.9,840.2 744.3,839.5 750.6,840.4 756.9,839.6 763.3,840.4 769.7,840.2 775.9,838.7 782.3,839.4"/>
<polyline points="302.6,676.7 298.2,681.9 295.9,688.3 292.7,694.3 291.5,701.0 287.9,706.8 282.8,711.2 278.4,716.4 275.4,722.5 271.5,728.1 266.6,732.8 260.3,735.2"/>
<polyline points="632.6,539.5 631.4,534.3 629.8,529.2 629.3,524.0 626.7,519.3 623.3,515.2"/>
<polyline points="561.6,823.2 560.9,827.2 560.3,831.3 558.2,834.9 557.0,838.8 555.3,842.5 554.9,846.6 555.6,850.7 556.5,854.7 557.5,858.7 558.0,862.8"/>
<polyline points="304.8,589.7 307.1,585.3 310.7,581.8 313.7,577.8 317.9,575.1 322.3,572.8 327.3,572.3"/>
<polyline points="715.8,613.3 716.4,617.5 716.3,621.7 717.6,625.6 718.2,629.8 718.6,634.0 719.8,638.0 719.5,642.2 719.7,646.4 720.1,650.6 720.8,654.7 722.1,658.7 721.8,662.9"/>
<polyline points="452.6,800.3 456.5,797.8 460.9,796.2 465.5,796.2 469.9,794.7 474.2,792.9 478.5,791.0 482.6,788.9 486.9,787.1 491.5,786.5 496.0,787.5 500.6,788.5"/>
<polyline points="811.1,703.1 807.0,706.9 802.2,709.8 798.7,714.2 796.6,719.3 794.2,724.4"/>
<polyline points="439.9,750.5 440.3,745.7 439.0,741.1 436.2,737.2 432.2,734.5 429.5,730.6 428.3,725.9 426.1,721.6 423.1,717.9 421.4,713.4 419.9,708.9"/>
<polyline points="291.2,660.0 285.9,655.4 281.8,649.7 276.7,645.0 272.9,639.2 267.9,634.2 264.6,628.1 260.9,622.2"/>
<polyline points="337.8,695.2 338.5,700.4 338.1,705.6 336.8,710.6 335.0,715.5 334.4,720.7 334.8,725.9 334.3,731.0 331.8,735.6 328.1,739.3 323.4,741.5 318.5,743.2 313.8,745.4"/>
</g>
<g clip-path="url(#ocn)">
<polygon points="239,636 297.8,635.8 286,645 279.1,649.5 276.8,660.5 278.3,671.5 282.3,681 280.7,688.8 285.4,699.9 289.4,712.5 293.3,721.9 295.7,734.5 294.9,747.1 296.4,759.5 301.2,768.9 307.5,778.4 316.9,787.8 326.4,797.3 335.8,806.7 345.3,813 354.7,817.7 361,824 365.8,828.8 362,835 345,838 330,836 329,850 331,872 239,872" fill="#fbfcfd" stroke="none" stroke-width="0" />
<g filter="url(#blur3)">
<polyline points="239,600 250,640 262,690 272,730 282,756 296,785 314,812 332,838 346,872" fill="none" stroke="#c4e2f7" stroke-width="30"/>
<polyline points="280,640 290,700 300,760 330,800 365,830 340,872" fill="none" stroke="#c4e2f7" stroke-width="30"/>
</g>
<polygon points="250,640 281,640 278,660 280,690 287,712 293,735 290,752 282,756 268,735 262,700 258,670" fill="#c4e2f7" stroke="none" stroke-width="0" />
<polygon points="239,636 290,636 286,648 239,648" fill="#c4e2f7" stroke="none" stroke-width="0" />
</g>
<polygon points="239,492 273.5,492 273.5,494.9 275.5,500.9 273.5,508.8 277.5,516.7 278.4,524.6 282.4,534.4 283.4,544.3 284.4,559.1 285.4,576.9 286,593.7 301.8,610.8 304.4,616 300.5,626.6 297.8,635.8 286,645 239,645" fill="#f2f4f6" stroke="none" stroke-width="0" />
<g fill="none" stroke="#cae4f8" stroke-linecap="round" stroke-linejoin="round">
<polyline stroke-width="4.5" points="265.6,506.8 264.6,519.6 262.7,531.5 259.7,537.4 257.7,545.3 253.8,554.2 250.8,561.1 248.8,569 246.9,580 245,600 243,620"/>
<polyline stroke-width="3.5" points="240,527.5 250,528 259.7,529.5"/>
<polyline stroke-width="3" points="247.8,507.8 250,515 251.8,522.6"/>
<polyline stroke-width="3" points="241,543 244.9,545.3 248.8,551.2 253.8,554.2"/>
<polyline stroke-width="3" points="251.8,567 262,563 273.5,559.1"/>
<polyline stroke-width="2.5" points="265.6,561 268,550 270.5,539.4"/>
<polyline stroke-width="5" points="240,560 245,572 252,585 262,596 274,604"/>
<polyline stroke-width="4.5" points="266,585 272,596 280,606 288,616"/>
<polyline stroke-width="6" points="256,600 262,614 270,624 282,632 294,636"/>
<polyline stroke-width="4" points="252,500 256,508 262,516"/>
<polyline stroke-width="4" points="241,505 245,515 244,530"/>
<polyline stroke-width="4" points="276,612 284,622 296,628"/>
<polyline stroke-width="4" points="241,600 249,612 250,630"/>
</g>
<polygon points="239,530 243,530 243,636 239,636" fill="#c4e2f7" stroke="none" stroke-width="0" />
<polygon points="239,580 250,582 255,600 252,620 258,636 239,636" fill="#c4e2f7" stroke="none" stroke-width="0" />
<polyline points="273.5,494.9 275.5,500.9 273.5,508.8 277.5,516.7 278.4,524.6 282.4,534.4 283.4,544.3 284.4,559.1 285.4,576.9 286,593.7 301.8,610.8 304.4,616 300.5,626.6 297.8,635.8 286,645" fill="none" stroke="#9a9a9a" stroke-width="0.9"/>
<polygon points="239.7,649.5 242.1,645.5 244.5,644.7 246.8,649.5 250.8,654.2 257.1,654.5 263.4,655.8 260.2,658.1 257.1,660.5 254.7,666.8 253.9,671.5 252.0,676.2 250.8,679.4 250.0,684.1 249.2,687.3 250.8,693.6 252.3,698.3 254.7,704.6 255.5,709.3 253.6,713.3 252.3,714.1 250.0,710.1 247.6,706.2 246.0,699.9 244.5,692.0 242.9,685.7 241.3,679.4 240.5,673.1 239.7,665.2 239.4,657.3" fill="#f4f4f0" stroke="#a0a0a0" stroke-width="0.7" />
<g fill="none" stroke="#a8a8a8" stroke-width="0.6">
<polyline points="239.7,649.5 241.7,650.0 243.6,650.6"/>
<polyline points="240.9,647.5 242.8,648.6 244.7,649.7"/>
<polyline points="242.1,645.5 243.1,646.4 244.2,647.2"/>
<polyline points="244.5,644.7 243.4,644.8 242.3,645.1"/>
<polyline points="245.3,646.3 244.2,646.6 243.2,646.6"/>
<polyline points="246.0,647.9 244.3,648.8 242.8,649.9"/>
<polyline points="246.8,649.5 245.7,649.8 244.6,650.2"/>
<polyline points="248.1,651.1 248.0,653.3 246.9,655.2"/>
<polyline points="249.5,652.6 248.4,654.1 247.3,655.6"/>
<polyline points="250.8,654.2 250.8,655.3 251.0,656.3"/>
<polyline points="252.9,654.3 251.9,655.2 250.7,655.6"/>
<polyline points="255.0,654.4 254.1,656.3 252.8,658.0"/>
<polyline points="257.1,654.5 257.0,656.2 257.3,657.9"/>
<polyline points="258.7,654.8 257.3,656.7 256.2,658.8"/>
<polyline points="260.2,655.1 259.3,656.4 258.5,657.8"/>
<polyline points="261.8,655.5 262.0,656.6 261.6,657.7"/>
<polyline points="263.4,655.8 262.5,654.3 261.9,652.7"/>
<polyline points="261.8,657.0 260.3,655.8 259.0,654.4"/>
<polyline points="260.2,658.1 259.0,657.6 258.2,656.7"/>
<polyline points="258.6,659.3 257.0,658.3 255.1,658.1"/>
<polyline points="257.1,660.5 254.9,660.2 252.7,660.2"/>
<polyline points="256.5,662.1 255.4,660.4 255.1,658.4"/>
<polyline points="255.9,663.6 254.0,662.0 252.3,660.2"/>
<polyline points="255.3,665.2 254.0,664.1 252.4,663.4"/>
<polyline points="254.7,666.8 253.5,666.6 252.4,666.0"/>
<polyline points="254.3,669.1 253.1,667.9 251.5,667.2"/>
<polyline points="253.9,671.5 252.5,671.5 251.1,671.9"/>
<polyline points="253.3,673.1 251.8,672.7 250.7,671.6"/>
<polyline points="252.6,674.6 251.1,673.9 250.0,672.6"/>
<polyline points="252.0,676.2 249.9,676.4 248.0,677.1"/>
<polyline points="251.4,677.8 250.5,675.8 249.8,673.7"/>
<polyline points="250.8,679.4 249.1,678.6 247.3,678.2"/>
<polyline points="250.4,681.8 249.1,681.1 247.7,681.1"/>
<polyline points="250.0,684.1 247.6,684.1 245.1,683.9"/>
<polyline points="249.6,685.7 247.6,684.6 245.4,684.0"/>
<polyline points="249.2,687.3 246.8,687.2 244.5,688.0"/>
<polyline points="249.6,688.9 249.2,689.9 248.9,691.0"/>
<polyline points="250.0,690.5 248.0,691.6 246.6,693.4"/>
<polyline points="250.4,692.0 248.9,692.3 247.6,693.0"/>
<polyline points="250.8,693.6 249.9,694.5 248.9,695.3"/>
<polyline points="251.3,695.2 250.2,695.2 249.2,694.9"/>
<polyline points="251.8,696.7 249.9,697.7 247.9,698.8"/>
<polyline points="252.3,698.3 251.5,700.3 250.4,702.1"/>
<polyline points="252.9,699.9 251.5,701.4 251.0,703.4"/>
<polyline points="253.5,701.5 252.0,701.6 250.6,702.0"/>
<polyline points="254.1,703.0 252.3,702.9 250.5,703.4"/>
<polyline points="254.7,704.6 253.0,704.3 251.6,703.2"/>
<polyline points="255.1,707.0 253.2,707.7 251.2,708.3"/>
<polyline points="255.5,709.3 253.5,708.4 251.3,707.9"/>
<polyline points="254.6,711.3 252.1,711.7 250.0,713.1"/>
<polyline points="252.3,714.1 253.9,712.5 255.4,710.9"/>
<polyline points="251.2,712.1 252.2,711.9 253.1,711.6"/>
<polyline points="250.0,710.1 251.3,709.2 252.3,707.9"/>
<polyline points="248.8,708.2 249.2,706.5 249.9,705.0"/>
<polyline points="247.6,706.2 249.7,706.4 251.7,706.0"/>
<polyline points="247.2,704.6 248.9,704.2 250.6,704.5"/>
<polyline points="246.8,703.0 248.1,701.9 249.5,701.0"/>
<polyline points="246.4,701.5 248.4,702.2 250.2,703.4"/>
<polyline points="246.0,699.9 248.2,700.4 250.3,701.3"/>
<polyline points="245.7,698.3 247.7,697.0 249.7,695.8"/>
<polyline points="245.4,696.7 247.3,698.3 249.7,698.8"/>
<polyline points="245.1,695.2 246.4,694.4 247.3,693.3"/>
<polyline points="244.8,693.6 245.9,693.2 247.0,693.4"/>
<polyline points="244.5,692.0 246.1,691.4 247.8,691.6"/>
<polyline points="244.1,690.4 245.4,690.2 246.7,690.2"/>
<polyline points="243.7,688.9 245.0,689.4 246.3,689.8"/>
<polyline points="243.3,687.3 244.7,685.5 246.4,684.0"/>
<polyline points="242.9,685.7 244.2,684.3 245.3,682.8"/>
<polyline points="242.5,684.1 244.2,684.5 245.8,685.0"/>
<polyline points="242.1,682.5 243.1,681.8 243.9,680.9"/>
<polyline points="241.7,681.0 242.8,678.8 244.6,677.1"/>
<polyline points="241.3,679.4 243.3,679.2 245.4,679.1"/>
<polyline points="241.0,677.3 242.7,676.4 244.1,675.1"/>
<polyline points="240.8,675.2 241.6,673.6 242.0,671.8"/>
<polyline points="240.5,673.1 242.7,672.4 244.6,671.0"/>
<polyline points="240.3,671.1 242.4,671.7 244.6,671.4"/>
<polyline points="240.1,669.2 241.6,668.5 242.8,667.5"/>
<polyline points="239.9,667.2 241.7,668.6 242.7,670.6"/>
<polyline points="239.7,665.2 240.7,663.6 242.2,662.5"/>
<polyline points="239.6,663.2 241.8,663.1 243.6,662.1"/>
<polyline points="239.6,661.2 241.3,662.1 243.0,662.9"/>
<polyline points="239.5,659.3 241.0,659.4 242.5,659.3"/>
<polyline points="239.4,657.3 241.3,657.7 243.2,657.2"/>
<polyline points="239.5,655.3 241.2,654.8 242.6,653.8"/>
<polyline points="239.6,653.4 240.4,652.7 241.2,652.0"/>
<polyline points="239.6,651.5 241.6,651.3 243.4,650.4"/>
</g>
<polygon points="246.0,660.5 257.1,660.5 252.3,673.1 250.0,674.7 247.6,668.4" fill="#1f9a4a" stroke="#a2d99a" stroke-width="0.8" />
<polyline points="277.5,640.0 279.1,649.5 276.8,660.5 278.3,671.5 282.3,681.0 280.7,688.8 285.4,699.9 289.4,712.5 293.3,721.9 295.7,734.5 294.9,747.1 297.2,760.1" fill="none" stroke="#a0a0a0" stroke-width="1.2" stroke-linejoin="round" />
<polyline points="282.3,649.5 287.0,658.9 285.4,666.8 290.1,676.2 294.9,687.3 298.0,696.7 301.2,706.2" fill="none" stroke="#b0b0b0" stroke-width="0.8" stroke-linejoin="round" />
<polyline points="294.9,750.0 296.4,759.5 301.2,768.9 307.5,778.4 316.9,787.8 326.4,797.3 335.8,806.7 345.3,813.0 354.7,817.7 361.0,824.1 365.8,828.8" fill="none" stroke="#a0a0a0" stroke-width="1.2" stroke-linejoin="round" />
<polygon points="282.3,756.3 294.9,757.9 301.2,765.8 310.6,776.8 323.2,786.2 332.7,795.7 342.1,808.3 348.4,817.7 354.7,827.2 356.3,838.2 351.6,843.0 345.3,839.8 332.7,831.9 323.2,822.5 313.8,811.4 304.3,800.4 298.0,789.4 291.7,776.8 285.4,765.8" fill="#f8f8f3" stroke="#9a9a9a" stroke-width="0.9" />
<polygon points="328.0,789.4 335.8,795.7 345.3,806.7 354.7,816.2 361.0,824.1 364.2,831.9 361.0,838.2 356.3,838.2 353.2,825.6 345.3,816.2 335.8,805.1 329.5,797.3" fill="#c4e2f7" stroke="none" stroke-width="0" />
<polygon points="323.2,831.9 405.0,835.9 405.0,876.0 329.5,876.0 332.7,860.3 329.5,844.5 327.2,835.9" fill="#f0f2f2" stroke="none" stroke-width="0" />
<polygon points="405,836 480,845 570,856 700,858 840,856 840,872 405,872" fill="#f0f2f2" stroke="none" stroke-width="0" />
<polygon points="356.3,838.2 364.2,838.2 367.3,847.7 365.8,860.3 362.6,871.3 359.5,871.3 361.0,858.7" fill="#c4e2f7" stroke="none" stroke-width="0" />
<polyline points="238.2,860.3 282.3,844.5 323.2,831.9" fill="none" stroke="#a0a8b0" stroke-width="0.6" stroke-linejoin="round" stroke-dasharray="3 2"/>
<polygon points="531.2,495.8 539.0,499.7 546.8,505.6 554.6,513.4 566.2,515.3 577.9,509.5 589.6,501.7 601.3,497.8 609.1,499.7 605.2,503.6 595.4,505.6 585.7,511.4 577.9,519.2 566.2,527.0 558.5,534.8 550.7,540.6 539.0,543.5 527.3,542.5 519.5,538.7 515.6,532.8 521.5,528.9 531.2,527.0 539.0,523.1 540.9,513.4 535.1,505.6 530.2,499.7" fill="#bcdcf5" stroke="none" stroke-width="0" />
<polygon points="583.8,604.8 591.5,595.1 599.3,587.3 609.1,583.4 624.6,587.3 640.0,589.3 640.0,595.1 620.7,593.2 605.2,595.1 593.5,600.9 585.7,608.7" fill="#bcdcf5" stroke="none" stroke-width="0" />
<polygon points="564.3,604.8 570.1,602.9 574.0,608.7 570.1,614.6 566.2,612.6" fill="#bcdcf5" stroke="none" stroke-width="0" />
<polygon points="696.4,626.0 702.3,627.2 705.8,637.8 704.6,652.0 701.1,663.8 695.2,661.5 694.0,647.3 695.2,635.5" fill="#bcdcf5" stroke="none" stroke-width="0" />
<polygon points="683.4,609.5 689.3,610.6 691.6,621.3 688.1,629.5 683.4,626.0 682.2,616.5" fill="#bcdcf5" stroke="none" stroke-width="0" />
<polygon points="634.9,635.5 644.4,633.1 649.1,639.0 644.4,644.9 637.3,643.7" fill="#bcdcf5" stroke="none" stroke-width="0" />
<polygon points="660.9,694.5 670.4,693.4 672.7,701.6 665.6,705.2 660.9,701.6" fill="#bcdcf5" stroke="none" stroke-width="0" />
<polygon points="757.6,726.9 765.2,726.9 780.6,738.4 790.2,753.7 795.9,769.1 801.7,782.5 807.5,795.9 808.4,811.3 803.6,813.2 799.8,803.6 794.0,790.2 788.3,778.7 782.5,776.8 776.8,765.2 769.1,757.6 761.4,749.9 755.6,738.4" fill="#bcdcf5" stroke="none" stroke-width="0" />
<polygon points="767.2,799.8 772.9,801.7 780.6,811.3 782.5,819.0 778.7,821.3 772.9,815.1 769.1,807.5" fill="#bcdcf5" stroke="none" stroke-width="0" />
<polygon points="744.1,759.5 749.9,767.2 751.8,780.6 757.6,788.3 765.2,795.9 763.3,799.8 757.6,794.0 749.9,784.4 746.1,774.8" fill="#bcdcf5" stroke="none" stroke-width="0" />
<polygon points="728.8,738.4 738.4,736.5 748.0,744.1 749.9,753.7 742.2,755.6 732.6,749.9" fill="#bcdcf5" stroke="none" stroke-width="0" />
<polygon points="734.5,721.1 744.1,719.2 748.0,726.9 741.3,730.7 735.5,728.8" fill="#bcdcf5" stroke="none" stroke-width="0" />
<polygon points="832.4,838.2 838.2,832.4 839.7,842.0 835.3,847.8" fill="#bcdcf5" stroke="none" stroke-width="0" />
<polygon points="834,573 840,573 840,625 835,615" fill="#bcdcf5" stroke="none" stroke-width="0" />
<polygon points="680.0,529.7 678.8,530.6 677.8,531.4 676.7,530.9 675.5,529.8 677.0,528.7 678.1,528.5" fill="#bcdcf5"/>
<polygon points="613.6,547.3 612.5,548.7 611.1,548.9 609.9,548.1 612.0,546.4" fill="#bcdcf5"/>
<polygon points="722.9,627.1 720.3,627.8 718.0,627.7 715.5,626.1 715.3,625.1 718.1,625.1 721.0,626.2" fill="#bcdcf5"/>
<polygon points="720.5,501.1 720.3,502.4 717.6,502.7 714.1,503.3 713.2,502.6 715.9,501.1 719.6,500.7" fill="#bcdcf5"/>
<polygon points="774.0,715.4 773.5,716.4 769.8,718.2 770.3,716.9 772.3,715.6" fill="#bcdcf5"/>
<polygon points="634.9,601.7 634.7,601.9 633.1,602.0 630.9,600.9 630.1,600.4 630.7,599.6 634.1,600.1 635.4,600.9" fill="#bcdcf5"/>
<polygon points="819.9,687.4 818.6,688.9 815.3,691.0 814.1,691.5 811.8,691.6 811.6,689.9 815.7,688.4 817.6,687.4" fill="#bcdcf5"/>
<polygon points="754.3,732.2 753.6,733.2 753.4,734.1 751.6,735.9 751.1,735.1 750.6,733.9 751.0,733.3 752.5,732.1" fill="#bcdcf5"/>
<polygon points="836.5,709.5 836.4,711.0 834.1,712.2 832.2,711.4 833.3,710.2 835.3,708.5" fill="#bcdcf5"/>
<polygon points="653.1,616.7 650.1,617.7 646.3,618.0 644.4,617.0 644.4,616.6 645.1,616.0 648.5,615.3 651.7,616.3" fill="#bcdcf5"/>
<polygon points="757.7,694.5 757.0,694.8 755.5,694.5 755.5,694.1 756.4,693.7 757.1,694.1" fill="#bcdcf5"/>
<polygon points="638.3,721.3 637.4,721.9 637.0,723.2 634.4,721.9 634.2,720.3 634.9,719.0 636.1,719.5 637.5,719.9" fill="#bcdcf5"/>
<polygon points="704.5,524.2 702.7,525.1 701.3,527.1 698.3,527.1 698.2,525.8 697.5,525.3 699.7,524.3 702.6,523.3" fill="#bcdcf5"/>
<polygon points="717.7,687.3 717.7,689.7 714.7,690.2 713.7,688.5 715.1,686.3" fill="#bcdcf5"/>
<polygon points="712.7,626.9 711.0,627.3 708.1,627.7 705.4,627.6 706.1,626.8 707.7,626.4 711.7,626.0" fill="#bcdcf5"/>
<polygon points="662.8,524.4 663.0,525.2 660.8,527.8 659.9,528.4 659.1,528.6 658.8,527.9 660.4,525.9 661.6,525.1" fill="#bcdcf5"/>
<polygon points="667.1,721.3 666.3,721.7 665.0,721.6 663.9,721.2 664.1,720.8 664.7,720.8 666.3,720.8" fill="#bcdcf5"/>
<polygon points="653.9,559.2 653.9,559.5 653.3,559.4 653.0,559.2 652.7,558.8 652.9,558.2 653.5,558.2 653.9,558.5" fill="#bcdcf5"/>
<polygon points="605.3,555.1 605.1,555.5 603.7,555.9 602.9,555.7 604.1,555.1 604.6,555.0" fill="#bcdcf5"/>
<polygon points="648.9,715.7 647.7,717.2 646.4,715.4 646.5,713.8 649.1,713.5" fill="#bcdcf5"/>
<polygon points="744.5,666.6 744.0,667.7 743.4,668.0 743.1,667.4 743.5,666.8" fill="#bcdcf5"/>
<polygon points="714.7,618.4 714.8,618.9 714.3,619.8 713.4,620.8 713.1,619.7 713.3,618.7 714.2,617.9" fill="#bcdcf5"/>
<polygon points="670.3,648.5 669.7,648.7 668.2,649.1 666.4,649.0 666.0,648.6 666.9,648.1 668.0,648.2 669.0,648.1" fill="#bcdcf5"/>
<polygon points="627.1,703.2 626.5,704.4 623.8,704.6 623.2,703.7 624.2,702.8 625.7,702.5" fill="#bcdcf5"/>
<polygon points="779.8,738.3 778.6,739.2 777.8,739.7 775.9,739.7 776.3,739.0 776.5,738.4 778.9,737.5" fill="#bcdcf5"/>
<polygon points="714.5,522.2 713.3,524.4 711.6,523.4 709.5,523.3 709.2,521.5 710.0,520.4 712.8,520.9 714.3,521.6" fill="#bcdcf5"/>
<polygon points="815.5,668.9 813.4,670.3 811.2,670.8 811.5,670.2 813.1,669.3" fill="#bcdcf5"/>
<polygon points="682.2,591.2 684.0,592.0 683.1,594.2 679.6,595.7 679.7,593.9 679.4,591.8 680.5,590.1" fill="#bcdcf5"/>
<polygon points="708.9,570.4 705.6,573.2 701.4,574.1 700.4,573.1 705.4,570.1" fill="#bcdcf5"/>
<polygon points="613.0,725.7 612.5,726.5 611.9,727.0 611.0,727.0 611.0,726.7 611.1,726.1 612.3,725.7" fill="#bcdcf5"/>
<polygon points="681.2,683.1 681.2,683.9 679.1,685.8 678.0,685.2 678.4,684.2 680.2,683.0" fill="#bcdcf5"/>
<polygon points="617.8,560.7 616.9,563.5 614.3,564.0 611.5,562.7 612.9,561.4 616.2,559.9" fill="#bcdcf5"/>
<polygon points="620.1,726.3 620.9,727.1 617.7,729.4 614.7,729.4 614.0,728.4 615.6,727.2 617.6,726.0 620.7,725.3" fill="#bcdcf5"/>
<polygon points="674.5,524.1 673.0,524.9 671.3,525.0 671.1,524.3 673.8,523.9" fill="#bcdcf5"/>
<polygon points="677.8,704.1 676.5,704.7 674.5,705.2 674.7,704.4 676.6,703.4" fill="#bcdcf5"/>
<polygon points="655.9,500.3 654.9,501.1 653.8,501.3 653.0,500.6 653.6,500.1 655.3,500.1" fill="#bcdcf5"/>
<polygon points="752.2,647.2 750.5,647.7 747.1,646.2 747.4,645.5 751.2,644.7" fill="#bcdcf5"/>
<polygon points="817.0,674.8 814.7,677.1 809.1,680.6 807.5,679.5 809.4,678.0 812.7,675.6" fill="#bcdcf5"/>
<polygon points="815.1,634.3 814.7,634.8 811.8,635.8 810.3,634.7 811.0,633.3 811.5,632.3 813.9,633.4" fill="#bcdcf5"/>
<polygon points="610.9,507.7 609.1,508.9 607.2,509.7 605.9,508.1 605.8,506.8 608.2,505.5 609.8,505.9" fill="#bcdcf5"/>
<polygon points="627.9,673.3 627.1,673.5 625.1,673.7 624.0,673.4 622.1,673.0 623.2,672.2 626.0,672.2 627.2,672.6" fill="#bcdcf5"/>
<polygon points="700.5,654.4 699.2,655.7 698.9,656.7 696.8,658.0 696.2,657.9 695.9,656.9 697.4,655.1 698.6,655.1" fill="#bcdcf5"/>
<polygon points="660.8,553.7 660.8,554.1 659.0,554.5 658.3,554.4 657.1,554.5 658.6,553.8 660.6,553.3" fill="#bcdcf5"/>
<polygon points="659.3,501.9 657.2,504.7 653.0,507.8 652.9,506.6 656.3,503.5" fill="#bcdcf5"/>
<polygon points="689.9,527.7 689.2,528.2 688.1,528.3 687.4,528.2 687.8,527.3 689.2,527.0" fill="#bcdcf5"/>
<polygon points="639.2,625.9 639.7,626.5 636.8,628.6 635.7,629.2 634.7,627.7 635.9,626.5 638.4,625.4" fill="#bcdcf5"/>
<polygon points="638.3,520.3 638.7,520.6 637.2,521.4 636.2,521.2 636.8,520.8 637.7,520.3" fill="#bcdcf5"/>
<polygon points="621.3,589.1 617.5,590.3 616.2,590.6 611.5,589.5 611.8,588.1 614.2,587.7 618.0,588.2" fill="#bcdcf5"/>
<polygon points="803.8,701.4 804.1,702.0 802.8,702.3 801.9,702.3 802.0,701.6 803.1,701.0" fill="#bcdcf5"/>
<polygon points="733.5,650.3 733.0,650.9 732.9,651.5 731.0,651.4 729.9,651.0 730.7,650.1 731.8,650.1 732.9,649.9" fill="#bcdcf5"/>
<polygon points="633.2,723.4 632.4,724.5 631.7,726.0 631.0,726.2 629.9,726.5 629.7,725.9 630.9,724.5 631.9,723.6" fill="#bcdcf5"/>
<polygon points="680.0,645.4 680.1,646.8 679.0,647.8 676.6,650.1 673.9,649.6 674.2,648.4 676.2,646.4 679.2,645.1" fill="#bcdcf5"/>
<polygon points="811.9,630.3 811.7,631.1 810.6,632.6 808.9,634.0 806.0,635.7 807.0,634.0 808.2,631.9 811.9,629.2" fill="#bcdcf5"/>
<polygon points="816.8,676.3 817.1,677.0 815.4,678.4 814.6,679.3 813.0,678.9 813.1,677.4 814.2,676.6 815.9,675.2" fill="#bcdcf5"/>
<polygon points="642.8,493.9 639.0,496.5 636.5,496.8 634.8,495.9 638.5,493.9" fill="#bcdcf5"/>
<polygon points="708.1,729.1 707.2,730.2 704.8,729.2 704.6,727.7 707.1,727.8" fill="#bcdcf5"/>
<polygon points="727.1,653.8 725.7,655.7 724.0,655.9 722.3,655.6 722.9,654.3 724.0,653.7 726.1,653.7" fill="#bcdcf5"/>
<polygon points="816.7,723.4 815.7,726.0 814.9,728.3 814.0,728.2 811.7,729.2 812.2,726.3 811.7,725.2 814.0,724.0" fill="#bcdcf5"/>
<polygon points="810.1,724.1 807.3,725.6 804.1,726.8 802.2,726.7 801.0,726.0 802.3,724.8 803.2,724.5 808.1,723.6" fill="#bcdcf5"/>
<polygon points="634.9,499.2 634.4,499.6 632.7,499.7 633.5,499.1 634.8,498.7" fill="#bcdcf5"/>
<polygon points="650.8,520.5 649.8,520.6 648.3,520.6 648.3,520.1 649.6,520.1" fill="#bcdcf5"/>
<polygon points="664.3,562.3 663.9,562.9 662.5,564.9 660.5,565.5 659.7,564.6 660.3,563.3 661.4,562.4 662.0,562.2" fill="#bcdcf5"/>
<polygon points="783.9,739.2 783.3,739.7 782.6,739.8 781.8,739.7 782.4,739.3 783.6,738.9" fill="#bcdcf5"/>
<polygon points="719.0,741.9 718.2,743.5 716.9,743.6 716.3,742.9 717.9,741.3" fill="#bcdcf5"/>
<polygon points="692.3,715.2 692.2,716.1 689.6,716.5 689.6,715.7 691.6,714.8" fill="#bcdcf5"/>
<polygon points="633.1,607.0 632.7,609.0 630.1,611.2 628.8,610.8 627.1,610.6 627.9,608.1 631.2,607.2" fill="#bcdcf5"/>
<polygon points="637.2,529.0 637.2,529.7 635.8,530.5 634.9,529.6 636.2,528.5" fill="#bcdcf5"/>
<polygon points="713.9,528.0 713.2,529.0 710.9,529.2 708.8,528.6 709.1,527.9 709.6,527.4 711.1,526.9 713.7,526.9" fill="#bcdcf5"/>
<polygon points="660.5,593.5 659.8,594.6 657.6,594.3 656.1,594.2 656.0,593.1 657.6,592.2 658.4,592.1 660.6,592.3" fill="#bcdcf5"/>
<polygon points="755.0,702.4 754.6,703.3 751.7,702.3 751.6,701.2 752.7,700.9 754.5,700.6" fill="#bcdcf5"/>
<polygon points="752.5,662.2 752.8,662.7 751.5,663.6 750.6,664.5 749.1,663.5 749.2,662.6 749.6,661.4 751.3,661.1" fill="#bcdcf5"/>
<polygon points="798.3,698.2 797.2,699.2 795.5,699.8 794.4,698.7 795.1,697.7 797.4,697.5" fill="#bcdcf5"/>
<polygon points="717.2,649.1 717.4,649.5 716.2,650.2 715.2,650.9 715.6,650.4 716.1,649.3 716.6,649.1" fill="#bcdcf5"/>
<polygon points="636.0,549.9 636.3,551.1 634.9,552.7 632.7,553.7 632.5,552.4 632.1,551.4 633.6,549.8 635.6,548.9" fill="#bcdcf5"/>
<polygon points="664.6,550.3 664.2,550.8 663.9,551.8 663.3,552.0 662.5,552.2 662.5,551.8 662.9,550.8 663.8,550.5" fill="#bcdcf5"/>
<polygon points="686.9,655.6 686.9,656.0 686.5,656.0 686.1,655.8 685.9,655.5 686.3,655.0 687.0,655.0" fill="#bcdcf5"/>
<polygon points="669.1,578.2 669.0,578.7 668.6,579.7 667.4,579.4 667.3,578.7 667.4,577.9 668.5,577.4" fill="#bcdcf5"/>
<polygon points="611.1,672.8 611.7,674.4 609.7,676.2 607.8,677.9 607.6,676.5 608.0,674.1 610.5,672.9" fill="#bcdcf5"/>
<polygon points="610.9,652.1 609.6,653.2 608.1,652.8 607.4,651.7 610.2,651.3" fill="#bcdcf5"/>
<polygon points="610.1,497.6 611.0,498.4 607.8,498.5 606.9,497.4 605.2,496.6 606.6,495.6 608.4,496.2 610.0,496.5" fill="#bcdcf5"/>
<polygon points="651.6,530.5 651.2,530.7 650.6,530.7 650.5,530.1 651.2,529.8" fill="#bcdcf5"/>
<polygon points="690.2,681.2 689.5,682.6 687.6,683.1 686.5,681.4 685.5,680.8 687.8,680.0 689.1,679.6" fill="#bcdcf5"/>
<polygon points="640.8,709.3 640.7,710.3 640.0,710.8 639.1,711.0 638.5,710.3 638.2,709.6 639.3,708.9 640.5,708.5" fill="#bcdcf5"/>
<polygon points="794.9,641.0 795.5,642.4 792.2,646.3 788.9,647.9 790.9,644.0 792.1,642.5" fill="#bcdcf5"/>
<polygon points="705.4,636.3 703.3,639.7 699.8,644.0 697.4,644.7 699.6,641.4 702.4,637.4" fill="#bcdcf5"/>
<polygon points="650.3,681.4 651.0,682.6 647.9,683.6 646.7,683.9 645.8,682.0 645.4,680.6 648.5,679.9 650.0,680.1" fill="#bcdcf5"/>
<polygon points="646.9,539.8 646.3,540.5 644.9,541.4 644.3,541.7 644.3,540.9 644.9,540.3 645.9,540.1" fill="#bcdcf5"/>
<polygon points="610.9,742.3 610.9,742.8 607.4,744.3 605.0,744.4 603.6,742.9 607.2,741.8 609.0,741.1" fill="#bcdcf5"/>
<polygon points="807.0,719.0 803.8,720.4 799.7,718.4 800.6,717.3 806.2,717.5" fill="#bcdcf5"/>
<polygon points="654.2,502.1 653.3,502.7 651.4,502.0 652.2,501.4 654.2,501.1" fill="#bcdcf5"/>
<polygon points="742.7,683.2 742.7,684.0 741.1,684.7 740.8,684.0 742.1,683.2" fill="#bcdcf5"/>
<polygon points="784.5,686.8 782.8,689.2 776.0,691.7 776.1,690.2 779.4,687.4" fill="#bcdcf5"/>
<polygon points="700.2,530.6 700.1,531.3 698.5,532.3 696.4,532.6 698.0,531.1 699.6,530.6" fill="#bcdcf5"/>
<polygon points="782.2,736.6 781.8,738.0 780.8,738.7 780.1,738.1 780.2,737.2 781.1,736.9" fill="#bcdcf5"/>
<polygon points="647.4,601.9 646.1,602.9 643.1,604.3 641.4,602.3 643.6,601.0 645.1,600.1" fill="#bcdcf5"/>
<polygon points="676.7,494.9 675.2,495.9 671.9,494.6 671.0,493.4 674.4,493.2" fill="#bcdcf5"/>
<polygon points="662.6,634.1 659.7,635.9 658.2,635.7 657.5,632.6 660.8,632.0" fill="#bcdcf5"/>
<polygon points="739.5,719.2 738.9,719.6 738.1,719.9 737.9,719.8 736.9,719.4 737.6,718.9 738.4,718.5 738.9,718.3" fill="#bcdcf5"/>
<polygon points="809.1,673.2 809.1,673.8 808.8,673.8 808.1,673.8 807.8,673.4 808.2,673.1 809.1,672.9" fill="#bcdcf5"/>
<polygon points="692.2,594.3 690.5,594.5 684.4,594.6 683.9,593.7 684.0,592.4 686.7,592.4 689.7,592.6" fill="#bcdcf5"/>
<polygon points="610.8,528.9 605.0,528.3 601.5,527.1 602.2,525.8 607.4,526.0" fill="#bcdcf5"/>
<polygon points="674.7,656.0 673.7,656.4 672.7,656.3 671.9,655.6 671.8,655.3 673.3,655.4 674.3,655.6" fill="#bcdcf5"/>
<polygon points="655.4,590.3 654.4,590.7 652.9,590.9 651.0,590.1 651.2,589.3 653.3,588.9 654.8,589.2" fill="#bcdcf5"/>
<polygon points="669.9,740.6 669.2,742.0 667.1,743.2 666.8,742.5 669.1,740.4" fill="#bcdcf5"/>
<polygon points="650.3,644.7 650.2,645.7 649.0,646.8 647.8,648.0 647.2,648.1 647.7,646.8 648.5,645.9 649.3,645.4" fill="#bcdcf5"/>
<polygon points="805.3,666.8 805.9,667.4 804.8,667.8 803.5,668.5 803.1,667.9 802.8,667.4 803.7,666.4 805.1,666.4" fill="#bcdcf5"/>
<polygon points="681.5,734.1 680.9,736.9 678.4,740.3 675.6,741.9 675.1,740.6 676.1,738.4 679.5,734.2" fill="#bcdcf5"/>
<polygon points="625.9,586.5 625.2,587.2 622.4,587.5 621.0,587.3 622.4,586.4 625.6,585.6" fill="#bcdcf5"/>
<polygon points="819.6,667.5 816.7,667.7 813.4,667.4 812.0,667.2 809.7,666.0 811.2,664.9 815.2,665.8 817.5,665.8" fill="#bcdcf5"/>
<polygon points="733.4,722.8 733.6,724.3 732.4,725.3 731.4,724.1 732.3,723.3" fill="#bcdcf5"/>
<polygon points="638.4,683.7 638.1,684.2 638.3,684.5 637.5,685.0 637.2,684.6 637.1,684.2 637.4,683.5 637.7,683.5" fill="#bcdcf5"/>
<polygon points="695.6,506.3 694.7,507.1 692.1,506.9 689.9,506.8 689.0,505.0 689.0,503.8 693.5,505.1 696.1,505.7" fill="#bcdcf5"/>
<polygon points="696.4,671.3 696.1,672.1 695.5,672.6 694.8,672.9 695.2,672.3 695.7,671.4" fill="#bcdcf5"/>
<polygon points="684.9,553.5 684.7,554.4 684.0,554.7 683.1,554.2 684.3,553.2" fill="#bcdcf5"/>
<polygon points="690.6,546.5 690.1,547.0 688.5,547.7 685.9,547.9 686.4,546.8 687.2,546.1 689.5,545.6" fill="#bcdcf5"/>
<polygon points="631.8,621.5 630.6,622.3 629.1,623.1 628.1,622.3 626.9,622.0 627.2,621.0 629.9,620.4 630.8,620.7" fill="#bcdcf5"/>
<polygon points="624.7,563.5 622.6,565.3 621.8,565.8 619.2,567.2 618.6,566.4 618.5,564.9 619.8,563.6 622.5,562.9" fill="#bcdcf5"/>
<polygon points="648.4,520.9 645.5,522.6 640.1,522.5 639.7,520.4 646.1,519.8" fill="#bcdcf5"/>
<polygon points="657.1,617.9 656.6,618.6 652.8,619.2 651.1,618.7 651.7,617.6 653.1,617.4 656.9,617.2" fill="#bcdcf5"/>
<polygon points="780.5,744.3 779.8,745.6 778.1,746.3 776.8,745.5 776.2,744.9 777.7,743.4 779.6,743.6" fill="#bcdcf5"/>
<polygon points="770.1,696.2 769.6,696.6 767.9,696.2 767.4,695.6 768.1,695.0 769.3,695.5" fill="#bcdcf5"/>
<polygon points="673.3,715.0 672.8,715.9 671.0,716.6 670.5,716.0 671.7,715.4" fill="#bcdcf5"/>
<polygon points="687.0,543.8 687.2,544.1 686.7,544.6 686.3,544.7 685.7,544.4 685.8,544.1 686.9,543.5" fill="#bcdcf5"/>
<polygon points="627.2,615.3 627.1,616.5 624.7,616.7 625.2,615.4 626.4,614.9" fill="#bcdcf5"/>
<polygon points="697.9,527.7 696.8,528.8 693.7,529.8 692.6,529.4 692.3,528.7 696.3,527.9" fill="#bcdcf5"/>
<polygon points="619.4,521.2 616.7,520.9 614.3,520.3 611.4,519.0 610.5,518.0 609.9,516.8 613.4,518.2 616.4,519.2" fill="#bcdcf5"/>
<polygon points="776.6,492.7 778.1,493.6 772.7,493.5 770.6,494.1 768.3,492.8 771.3,492.1 774.5,491.4 776.8,492.0" fill="#bcdcf5"/>
<polygon points="704.1,626.9 703.8,628.5 701.8,628.8 701.3,626.8 703.0,626.0" fill="#bcdcf5"/>
<polygon points="683.0,715.9 683.0,716.3 682.3,716.4 682.0,716.3 681.8,716.0 682.1,715.6 682.5,715.5 683.1,715.6" fill="#bcdcf5"/>
<polygon points="647.9,660.8 646.4,663.0 643.0,663.2 642.8,661.8 645.3,659.6" fill="#bcdcf5"/>
<polygon points="832.4,648.8 830.8,650.3 828.8,651.6 825.3,652.4 825.2,651.7 824.0,650.1 827.1,649.5 829.5,648.0" fill="#bcdcf5"/>
<polygon points="622.2,741.9 621.9,742.8 620.7,743.0 620.3,742.6 619.9,741.6 621.0,741.6 621.5,741.7" fill="#bcdcf5"/>
<polygon points="733.7,694.9 733.7,695.3 731.4,695.7 730.6,695.4 730.5,695.2 731.7,694.6 733.2,694.6" fill="#bcdcf5"/>
<polygon points="840.4,683.4 840.8,683.9 839.6,685.5 838.2,685.9 838.2,684.6 839.5,683.5" fill="#bcdcf5"/>
<polygon points="657.3,734.0 656.5,734.5 655.0,735.5 653.3,735.2 653.7,734.5 654.4,733.5 655.5,733.2" fill="#bcdcf5"/>
<polygon points="838.4,502.2 837.9,503.2 836.7,504.0 835.2,504.7 835.9,503.7 836.0,503.4 837.2,502.8" fill="#bcdcf5"/>
<polygon points="791.8,690.9 790.7,692.9 789.1,693.9 788.7,693.4 789.8,692.2" fill="#bcdcf5"/>
<polygon points="678.9,741.4 679.6,741.9 677.1,743.4 675.6,743.6 676.5,741.5 677.5,740.7" fill="#bcdcf5"/>
<polygon points="662.5,634.6 663.1,635.2 659.1,639.1 657.7,639.4 659.4,636.8 661.5,634.0" fill="#bcdcf5"/>
<polygon points="666.7,556.7 666.8,557.4 665.7,557.7 665.5,557.4 666.3,556.6" fill="#bcdcf5"/>
<polygon points="621.4,694.4 621.1,696.2 619.5,698.2 617.4,698.0 616.8,696.8 619.5,695.1" fill="#bcdcf5"/>
<polygon points="808.5,693.4 808.7,693.8 807.1,694.1 806.5,693.9 806.1,693.4 806.4,693.2 806.9,692.9 808.0,693.0" fill="#bcdcf5"/>
<polygon points="704.6,627.8 703.0,629.1 701.9,629.5 698.9,629.0 699.0,627.9 700.6,627.3 702.7,627.4" fill="#bcdcf5"/>
<polygon points="795.7,738.6 795.1,739.2 793.2,740.1 792.8,739.5 794.7,738.2" fill="#bcdcf5"/>
<polygon points="812.7,706.5 812.1,708.4 807.5,710.3 805.6,710.6 806.1,708.8 809.1,706.6" fill="#bcdcf5"/>
<polygon points="820.8,662.1 820.4,662.5 819.8,663.3 818.9,663.4 817.7,663.1 817.5,662.6 818.6,661.8 819.8,661.2" fill="#bcdcf5"/>
<polygon points="781.9,699.5 781.2,700.6 779.6,701.3 778.6,700.9 779.1,699.8 781.0,699.5" fill="#bcdcf5"/>
<polygon points="807.9,742.9 808.2,744.1 807.0,744.6 806.4,743.9 807.0,742.6" fill="#bcdcf5"/>
<polygon points="698.0,574.3 697.3,576.9 694.3,578.5 692.9,577.4 695.8,575.3" fill="#bcdcf5"/>
<polygon points="718.6,526.3 717.4,527.4 715.7,527.5 714.9,526.9 716.2,525.0 717.3,525.6" fill="#bcdcf5"/>
<polygon points="770.9,494.2 769.6,495.8 767.2,497.6 767.0,496.8 769.5,494.4" fill="#bcdcf5"/>
<polygon points="811.3,672.9 810.7,673.9 809.2,674.3 807.6,674.4 808.4,673.3 810.1,672.7" fill="#bcdcf5"/>
<polygon points="652.1,522.2 648.2,522.7 643.9,521.3 644.5,520.0 649.5,520.6" fill="#bcdcf5"/>
<polygon points="684.0,630.2 683.2,630.8 681.8,631.1 680.5,630.9 678.7,629.9 680.9,629.6 682.9,629.3 684.0,629.7" fill="#bcdcf5"/>
<polygon points="738.5,744.1 737.7,744.8 736.3,745.5 735.4,745.6 736.3,744.6 737.1,744.4" fill="#bcdcf5"/>
<polygon points="800.5,698.3 800.2,699.2 799.3,699.5 798.9,699.1 799.4,698.3" fill="#bcdcf5"/>
<polygon points="725.7,493.3 725.2,493.8 724.3,493.9 723.1,493.8 722.6,493.3 723.7,493.1 724.9,493.0" fill="#bcdcf5"/>
<polygon points="720.2,513.5 719.3,514.2 717.9,515.4 717.0,515.6 717.1,515.1 718.2,514.2 719.6,513.2" fill="#bcdcf5"/>
<polygon points="805.1,639.0 804.6,639.3 803.5,638.9 803.6,638.5 804.7,638.3" fill="#bcdcf5"/>
<polygon points="716.2,716.6 714.4,717.7 711.9,718.3 711.6,717.0 713.6,716.5" fill="#bcdcf5"/>
<polygon points="619.4,698.6 619.0,699.3 618.7,699.5 618.0,699.3 617.6,698.6 618.2,698.4 618.4,698.2 619.0,698.1" fill="#bcdcf5"/>
<polygon points="667.3,558.6 667.0,558.9 665.4,559.4 664.9,558.6 664.9,558.4 665.1,557.7 666.0,557.5 667.0,558.0" fill="#bcdcf5"/>
<polygon points="821.7,632.6 821.3,632.7 820.8,633.1 820.1,633.4 819.8,632.9 820.2,632.5 820.4,632.4 821.1,632.4" fill="#bcdcf5"/>
<polygon points="635.3,711.7 634.5,714.4 633.2,716.8 630.4,718.2 631.3,715.3 632.3,712.7" fill="#bcdcf5"/>
<polygon points="818.2,665.3 817.6,666.4 816.6,666.0 816.9,665.1 817.5,664.8" fill="#bcdcf5"/>
<polygon points="653.9,731.8 652.9,732.6 651.2,732.6 649.4,731.1 650.3,730.3 651.7,730.2 654.1,730.8" fill="#bcdcf5"/>
<polygon points="672.4,580.4 670.9,581.6 667.5,580.0 666.9,578.5 671.9,578.9" fill="#bcdcf5"/>
<polygon points="601.0,540.6 600.9,541.2 600.3,541.8 599.9,542.1 599.3,541.8 599.8,540.7 600.5,540.6" fill="#bcdcf5"/>
<polygon points="691.0,659.8 690.2,660.4 689.8,660.3 689.3,659.9 689.0,659.3 689.8,659.2 690.4,659.5" fill="#bcdcf5"/>
<polygon points="663.3,732.8 662.2,732.8 661.0,732.5 659.5,731.5 660.3,731.2 662.0,731.8" fill="#bcdcf5"/>
<polygon points="803.5,742.6 803.3,744.3 800.3,746.6 800.3,745.7 802.0,742.9" fill="#bcdcf5"/>
<polygon points="612.6,647.0 613.8,647.4 609.8,649.3 608.0,650.0 607.3,649.8 607.1,648.7 608.4,647.6 612.6,646.1" fill="#bcdcf5"/>
<polygon points="618.5,492.6 617.3,493.7 615.9,495.2 614.7,493.5 614.3,492.2 614.3,490.8 617.3,490.7" fill="#bcdcf5"/>
<polygon points="638.7,701.5 634.6,703.2 629.7,703.2 625.6,701.6 627.7,700.3 635.1,700.7" fill="#bcdcf5"/>
<polygon points="649.5,608.2 647.6,608.6 645.6,607.8 646.6,607.4 648.5,607.2" fill="#bcdcf5"/>
<polygon points="685.2,638.1 683.8,641.4 682.5,643.0 680.8,645.1 679.3,645.7 679.7,643.8 679.8,641.9 682.4,639.2" fill="#bcdcf5"/>
<polygon points="698.7,628.1 699.2,628.6 698.0,628.8 696.7,628.8 696.7,628.2 696.5,627.6 697.6,627.1 698.5,627.2" fill="#bcdcf5"/>
<polygon points="639.6,625.6 639.3,625.9 638.6,625.8 638.3,625.5 638.2,625.3 638.5,625.0 639.0,625.0 639.3,625.2" fill="#bcdcf5"/>
<polygon points="677.3,672.0 675.3,672.9 670.0,672.2 670.1,670.5 674.7,670.4" fill="#bcdcf5"/>
<polygon points="815.6,674.7 815.2,676.9 813.3,678.1 812.5,676.7 811.9,675.1 814.1,675.0" fill="#bcdcf5"/>
<polygon points="622.5,733.1 622.2,733.7 618.5,733.2 618.4,732.3 617.3,730.8 619.2,730.8 621.6,731.8" fill="#bcdcf5"/>
<polygon points="616.5,568.1 614.3,568.4 610.8,567.3 610.3,566.6 611.0,566.1 614.0,567.1" fill="#bcdcf5"/>
<polygon points="823.4,648.2 824.0,649.3 822.1,650.8 821.4,651.1 820.5,650.3 821.3,648.6 822.3,648.2" fill="#bcdcf5"/>
<polygon points="604.8,626.1 605.0,627.1 602.0,628.3 600.3,627.9 600.7,626.8 602.0,624.9 604.5,625.2" fill="#bcdcf5"/>
<polygon points="827.7,680.2 827.2,680.6 825.2,680.9 824.5,680.1 823.8,679.1 825.2,679.3 826.7,679.4" fill="#bcdcf5"/>
<polygon points="708.1,545.5 705.3,547.1 700.4,547.5 699.0,546.3 701.6,545.0 705.0,544.7" fill="#bcdcf5"/>
<polygon points="770.3,646.8 769.7,647.4 768.7,648.1 768.4,647.4 768.2,646.8 768.8,646.2 769.5,645.9" fill="#bcdcf5"/>
<polygon points="712.1,617.9 709.2,620.1 704.2,620.7 703.3,619.3 707.6,617.4" fill="#bcdcf5"/>
<polygon points="652.1,701.6 651.6,703.9 649.7,707.0 648.0,706.8 648.0,704.9 649.9,702.1" fill="#bcdcf5"/>
<polygon points="842.2,696.6 839.8,698.0 835.6,695.2 836.1,693.8 839.5,694.2" fill="#bcdcf5"/>
<polygon points="820.2,495.9 817.0,497.1 814.3,496.9 811.1,496.6 811.7,496.0 814.0,494.7 818.7,495.1" fill="#bcdcf5"/>
<polygon points="730.8,632.0 731.2,632.7 728.3,635.0 727.6,634.4 727.0,634.1 728.4,632.2 731.4,630.8" fill="#bcdcf5"/>
<polygon points="627.4,634.0 627.7,635.1 625.1,636.2 624.9,634.6 626.3,633.2" fill="#bcdcf5"/>
<polygon points="634.6,518.4 634.4,520.8 632.7,522.0 630.4,521.8 632.9,518.4" fill="#bcdcf5"/>
<polygon points="651.8,551.7 652.1,553.5 648.7,556.6 646.7,555.8 646.9,553.4 649.0,551.6" fill="#bcdcf5"/>
<polygon points="809.8,742.6 808.6,744.0 804.2,743.3 803.8,742.4 806.1,741.3 809.1,741.7" fill="#bcdcf5"/>
<polygon points="659.2,721.2 659.1,722.0 658.3,722.7 657.8,722.3 657.7,722.0 657.7,721.4 658.2,720.7 658.5,720.7" fill="#bcdcf5"/>
<polygon points="640.1,621.7 639.3,621.9 637.7,621.6 638.0,621.0 639.9,621.2" fill="#bcdcf5"/>
<polygon points="762.1,633.1 761.9,634.1 760.9,634.5 760.6,634.5 760.2,633.8 759.7,633.4 761.0,633.1 761.4,633.0" fill="#bcdcf5"/>
<polygon points="672.1,615.8 672.1,617.7 670.0,618.7 668.9,617.8 671.0,615.2" fill="#bcdcf5"/>
<polygon points="779.4,693.5 776.3,695.1 772.6,694.8 772.3,693.1 776.3,691.9" fill="#bcdcf5"/>
<polygon points="694.2,532.8 692.9,533.4 692.0,533.4 690.9,533.4 689.3,533.4 690.8,532.7 692.1,532.4 693.7,532.5" fill="#bcdcf5"/>
<polygon points="730.3,736.3 729.5,736.9 728.2,736.7 727.8,736.5 728.6,736.0 729.5,735.6" fill="#bcdcf5"/>
<polygon points="839.7,536.6 838.8,536.9 836.9,537.3 834.7,537.4 835.1,536.3 837.1,535.7 839.1,536.0" fill="#bcdcf5"/>
<polygon points="616.1,508.4 615.9,509.1 614.9,509.5 614.8,509.0 615.2,508.4" fill="#bcdcf5"/>
<polygon points="644.6,741.4 643.5,742.6 639.8,744.5 638.1,743.9 638.1,743.4 641.3,741.3 644.5,740.2" fill="#bcdcf5"/>
<polygon points="637.3,515.8 637.5,518.0 632.4,517.9 631.8,516.9 632.0,515.2 635.5,515.3" fill="#bcdcf5"/>
<polygon points="761.2,712.5 760.3,714.2 757.0,714.0 756.5,711.4 759.3,710.7" fill="#bcdcf5"/>
<polygon points="608.3,602.8 607.2,603.6 606.4,603.2 606.1,602.8 607.3,602.5" fill="#bcdcf5"/>
<polygon points="683.6,504.4 682.7,506.1 682.5,507.2 680.8,507.6 678.8,508.5 679.1,507.1 680.2,506.1 681.8,505.3" fill="#bcdcf5"/>
<polygon points="630.0,739.6 630.2,740.9 628.1,742.7 627.5,741.8 627.9,739.7" fill="#bcdcf5"/>
<polygon points="681.0,501.7 678.9,503.6 675.1,503.7 672.5,502.7 675.1,501.9 678.1,501.6" fill="#bcdcf5"/>
<polygon points="607.8,531.9 607.8,533.2 606.2,534.6 605.1,535.0 604.6,534.4 604.6,533.8 606.2,532.6" fill="#bcdcf5"/>
<polygon points="683.1,660.4 682.8,661.3 682.0,661.8 681.6,661.5 682.2,660.8" fill="#bcdcf5"/>
<polygon points="819.3,744.5 819.0,745.1 817.8,745.3 817.1,744.5 818.3,744.1 819.2,744.2" fill="#bcdcf5"/>
<polygon points="612.9,723.2 612.9,723.5 612.6,724.0 611.9,724.1 611.7,723.5 611.9,722.9 612.5,722.8" fill="#bcdcf5"/>
<polygon points="727.4,631.6 726.8,632.7 725.9,633.9 724.4,634.3 723.0,634.6 723.2,633.8 725.2,632.6 726.4,631.6" fill="#bcdcf5"/>
<polygon points="771.6,656.0 770.7,656.4 769.5,656.1 768.3,655.7 769.5,655.4 771.1,655.5" fill="#bcdcf5"/>
<polygon points="842.0,653.3 841.4,654.6 840.2,655.6 838.2,656.0 836.8,654.9 837.4,652.8 839.3,652.2 840.3,651.8" fill="#bcdcf5"/>
<polygon points="671.6,630.9 670.6,631.6 670.0,631.9 668.7,631.4 668.9,630.8 670.6,630.5" fill="#bcdcf5"/>
<polygon points="792.4,703.0 791.9,704.0 791.8,704.5 791.0,704.1 790.9,703.8 791.6,703.2" fill="#bcdcf5"/>
<polygon points="715.2,557.0 715.2,557.7 714.6,557.9 714.4,557.5 714.7,556.6" fill="#bcdcf5"/>
<polygon points="796.4,679.8 794.0,682.8 791.8,683.7 790.1,682.5 793.7,680.5" fill="#bcdcf5"/>
<polygon points="623.7,658.4 623.7,659.9 622.5,661.3 621.4,660.5 621.4,659.4 622.2,658.3" fill="#bcdcf5"/>
<polygon points="767.3,646.4 767.8,647.8 765.9,649.7 763.5,649.7 763.3,648.2 764.0,646.3 766.3,645.8" fill="#bcdcf5"/>
<polygon points="678.9,551.1 678.7,552.0 677.1,553.0 676.5,552.3 677.9,551.4" fill="#bcdcf5"/>
<polygon points="695.0,613.0 694.4,613.9 692.9,615.3 691.7,615.4 691.0,615.6 691.5,614.4 693.3,613.1" fill="#bcdcf5"/>
<polygon points="827.4,632.1 827.1,632.9 826.0,634.0 825.4,633.7 826.0,632.7" fill="#bcdcf5"/>
<polygon points="797.8,644.2 797.6,645.1 796.7,645.4 795.0,646.1 795.0,645.3 795.3,644.8 796.3,643.5 797.0,643.8" fill="#bcdcf5"/>
<polygon points="791.3,682.0 791.5,683.4 787.1,683.2 786.0,681.6 785.3,679.9 788.7,679.7 790.0,680.7" fill="#bcdcf5"/>
<polygon points="657.3,577.6 657.3,580.0 655.2,580.9 653.8,580.0 655.1,577.9" fill="#bcdcf5"/>
<polygon points="657.1,722.7 656.6,723.2 653.8,722.6 652.1,721.8 653.3,721.2 655.4,721.6" fill="#bcdcf5"/>
<polygon points="772.0,661.1 772.0,661.6 771.0,662.4 770.3,662.9 770.1,662.4 770.5,661.7 772.0,660.6" fill="#bcdcf5"/>
<polygon points="652.1,577.9 652.2,578.7 651.0,578.7 650.4,577.9 651.2,577.3" fill="#bcdcf5"/>
<polygon points="693.7,652.1 693.0,653.9 691.6,654.9 687.6,655.8 687.6,654.7 690.0,652.2 691.6,651.7" fill="#bcdcf5"/>
<polygon points="689.3,734.9 687.8,735.6 685.6,734.6 685.6,733.5 688.0,733.7" fill="#bcdcf5"/>
<polygon points="791.6,644.9 791.2,645.2 790.5,645.4 789.5,645.0 789.4,644.5 789.6,644.2 790.7,644.3 791.6,644.7" fill="#bcdcf5"/>
<polygon points="641.1,494.5 642.3,495.1 638.8,498.5 637.4,498.7 637.2,498.1 638.1,496.7 640.1,495.0" fill="#bcdcf5"/>
<polygon points="634.4,664.2 634.8,666.1 634.0,666.9 632.1,667.3 631.2,666.8 630.4,666.5 632.4,664.4 632.9,664.4" fill="#bcdcf5"/>
<polygon points="604.8,710.6 604.8,712.2 601.3,713.3 598.4,713.2 596.1,713.2 597.6,711.7 599.4,711.1 602.1,710.6" fill="#bcdcf5"/>
<polygon points="676.9,619.2 676.9,619.7 676.0,620.2 675.2,620.3 674.9,620.0 674.3,619.8 675.4,619.1 676.9,618.8" fill="#bcdcf5"/>
<polygon points="713.3,703.1 712.4,704.3 711.7,704.4 710.4,704.2 709.7,702.8 710.5,702.4 712.1,701.5 713.0,702.2" fill="#bcdcf5"/>
<polygon points="683.7,728.9 682.4,731.9 680.3,732.7 679.6,732.0 680.9,730.1" fill="#bcdcf5"/>
<polygon points="663.5,642.9 662.4,645.4 661.3,647.3 659.7,649.3 659.6,648.2 658.5,648.4 660.1,646.2 661.7,644.3" fill="#bcdcf5"/>
<polygon points="630.8,736.7 630.3,738.5 628.5,740.2 626.9,738.3 629.0,736.2" fill="#bcdcf5"/>
<polygon points="631.0,567.7 630.8,568.1 630.8,568.8 629.8,569.3 629.4,568.9 629.8,568.1 630.2,567.8" fill="#bcdcf5"/>
<polygon points="835.9,742.4 835.4,744.2 833.7,746.0 832.0,744.9 833.0,743.2 833.9,742.6" fill="#bcdcf5"/>
<polygon points="753.3,657.6 753.6,658.8 752.3,660.8 750.4,660.6 750.9,658.7 752.0,657.9" fill="#bcdcf5"/>
<polygon points="693.0,659.2 693.0,660.2 690.0,660.7 688.8,660.0 690.5,659.2 692.2,658.9" fill="#bcdcf5"/>
<polygon points="667.2,725.5 666.8,725.8 665.1,725.9 664.4,725.6 665.0,725.2 667.2,725.2" fill="#bcdcf5"/>
<polygon points="706.3,714.2 705.7,716.1 704.5,716.8 702.7,717.2 701.9,714.6 703.3,713.8 705.8,713.3" fill="#bcdcf5"/>
<polygon points="712.8,709.1 710.0,711.0 706.6,712.0 706.6,710.8 710.0,709.4" fill="#bcdcf5"/>
<polygon points="722.2,604.5 721.6,604.9 720.9,605.0 720.9,604.1 721.8,604.0" fill="#bcdcf5"/>
<polygon points="756.2,704.4 755.6,705.1 754.1,705.0 753.3,703.7 754.5,703.2 755.8,703.4" fill="#bcdcf5"/>
<polygon points="711.0,516.3 710.1,518.1 705.6,518.0 702.7,518.1 702.9,517.2 702.5,516.5 706.3,515.7 709.5,515.5" fill="#bcdcf5"/>
<polygon points="784.1,640.6 783.7,641.4 781.7,642.1 781.8,641.5 782.9,640.7" fill="#bcdcf5"/>
<polygon points="673.0,650.9 672.0,651.8 667.4,652.0 665.9,651.9 664.2,651.2 667.8,650.3 669.9,650.5" fill="#bcdcf5"/>
<polygon points="620.9,619.7 617.8,623.2 615.5,623.7 614.2,623.8 618.0,620.6" fill="#bcdcf5"/>
<polygon points="738.6,493.6 738.9,494.5 735.6,495.4 732.8,495.1 735.1,493.9 738.3,493.4" fill="#bcdcf5"/>
<polygon points="800.9,739.2 800.0,740.0 799.2,740.8 798.1,741.0 798.5,740.4 799.5,739.4" fill="#bcdcf5"/>
<polygon points="689.4,628.7 689.5,629.8 688.6,630.4 688.2,629.8 688.6,629.0" fill="#bcdcf5"/>
<polygon points="624.5,613.2 623.9,613.7 621.8,613.4 620.9,612.6 620.9,611.9 623.2,612.2" fill="#bcdcf5"/>
<polygon points="620.1,682.3 619.3,683.1 618.2,683.7 617.6,683.4 618.4,682.6 619.8,682.1" fill="#bcdcf5"/>
<polygon points="612.0,501.8 611.9,503.1 611.0,504.4 609.0,505.3 607.7,505.6 606.8,505.5 609.6,503.0 610.6,502.1" fill="#bcdcf5"/>
<polygon points="654.9,591.8 655.3,593.5 652.2,595.7 651.8,594.2 653.9,591.5" fill="#bcdcf5"/>
<polygon points="709.5,506.2 708.8,508.3 705.0,511.4 704.3,510.5 708.0,506.7" fill="#bcdcf5"/>
<polygon points="680.8,503.7 679.7,505.1 677.6,506.3 675.0,507.3 673.6,507.1 676.6,505.0 678.3,503.8" fill="#bcdcf5"/>
<polygon points="623.2,546.9 623.1,547.6 621.8,548.8 620.7,549.4 620.8,548.7 621.2,548.1 622.5,546.9" fill="#bcdcf5"/>
<polygon points="691.3,620.1 690.7,621.6 689.4,622.4 687.6,622.2 688.4,620.5 689.7,619.3" fill="#bcdcf5"/>
<polygon points="674.4,592.3 671.4,594.2 669.1,594.9 665.1,595.1 668.5,593.0 671.4,592.4" fill="#bcdcf5"/>
<polygon points="690.1,495.7 690.1,496.6 688.0,497.2 687.3,497.2 685.5,497.0 686.3,496.1 687.2,495.3 689.7,494.5" fill="#bcdcf5"/>
<polygon points="805.4,710.7 805.6,711.3 803.6,712.3 802.6,712.3 802.7,711.4 804.5,710.2" fill="#bcdcf5"/>
<polygon points="629.4,561.5 627.0,561.8 624.6,560.7 624.7,559.9 628.1,560.5" fill="#bcdcf5"/>
<polygon points="740.1,636.7 739.5,637.5 738.9,637.6 737.9,636.9 738.7,636.4 739.3,636.2" fill="#bcdcf5"/>
<polygon points="702.1,584.7 700.7,585.4 698.2,585.0 698.0,583.3 699.1,581.7 701.0,583.1" fill="#bcdcf5"/>
<polygon points="834.4,740.6 829.8,740.6 826.6,739.4 826.2,738.5 831.2,738.5" fill="#bcdcf5"/>
<polygon points="685.9,584.4 685.1,586.6 682.4,586.5 681.7,584.6 683.4,584.1" fill="#bcdcf5"/>
<polygon points="629.2,657.0 628.0,659.0 626.6,659.2 625.5,658.2 627.4,656.9" fill="#bcdcf5"/>
<polygon points="657.9,690.7 656.4,692.7 653.7,693.4 653.9,692.4 655.8,690.9" fill="#bcdcf5"/>
<polygon points="717.3,648.0 716.5,648.3 715.3,648.5 715.2,648.1 714.9,647.5 716.3,647.3" fill="#bcdcf5"/>
<polygon points="744.1,666.1 742.3,667.1 740.5,666.6 740.8,665.2 742.9,664.9" fill="#bcdcf5"/>
<polygon points="649.5,719.1 649.2,719.9 648.0,720.4 647.4,719.4 648.4,718.6" fill="#bcdcf5"/>
<polygon points="833.0,642.1 833.9,643.4 829.3,648.0 828.8,645.6 830.8,642.4" fill="#bcdcf5"/>
<polygon points="649.0,734.0 648.3,734.4 645.9,734.5 645.3,733.8 646.1,733.2 648.9,733.5" fill="#bcdcf5"/>
<polygon points="641.4,614.9 639.8,617.7 636.0,621.0 634.5,621.2 636.8,617.5 639.0,615.9" fill="#bcdcf5"/>
<polygon points="671.2,642.1 669.4,643.6 666.9,643.2 665.2,642.3 665.0,640.7 667.4,640.2 669.7,640.8" fill="#bcdcf5"/>
<polygon points="625.2,595.4 625.8,595.9 625.1,597.0 623.7,597.6 622.5,597.5 622.1,596.8 623.5,595.7 624.9,594.8" fill="#bcdcf5"/>
<polygon points="738.6,654.9 738.9,655.8 737.8,657.2 736.5,656.9 736.5,656.3 737.4,655.2" fill="#bcdcf5"/>
<polygon points="718.6,554.6 718.8,555.0 718.2,555.9 716.0,556.7 716.4,555.9 716.3,555.2 717.5,554.5 718.0,554.6" fill="#bcdcf5"/>
<polygon points="710.9,601.1 707.1,603.1 705.3,603.7 700.7,603.9 704.5,601.8 706.7,600.9" fill="#bcdcf5"/>
<polygon points="603.5,556.7 603.7,558.0 602.4,558.6 601.2,558.6 600.6,557.3 602.2,556.4" fill="#bcdcf5"/>
<polygon points="616.9,503.7 617.1,504.4 616.5,505.0 615.9,504.6 615.7,504.0 616.3,503.8" fill="#bcdcf5"/>
<polygon points="708.3,549.1 706.4,550.2 705.5,551.2 702.4,550.7 700.6,550.3 702.4,549.1 704.3,548.0 707.9,548.1" fill="#bcdcf5"/>
<polygon points="658.3,633.7 657.8,634.4 657.1,635.0 656.0,635.0 656.0,633.6 656.8,633.1 657.2,632.7" fill="#bcdcf5"/>
<polygon points="755.1,696.4 754.8,697.4 753.1,699.2 752.0,699.8 751.4,699.3 751.9,697.8 753.3,697.2" fill="#bcdcf5"/>
<polygon points="768.0,640.2 767.9,641.4 765.5,642.4 764.7,641.2 765.1,639.9 767.0,639.3" fill="#bcdcf5"/>
<polygon points="678.7,554.3 677.0,555.5 672.5,555.9 669.9,554.8 672.4,553.4 674.8,552.5" fill="#bcdcf5"/>
<polygon points="644.4,556.5 643.6,558.4 640.9,558.8 640.0,556.9 642.1,556.0" fill="#bcdcf5"/>
<polygon points="649.5,659.1 649.6,660.2 646.9,662.1 644.7,663.0 643.4,663.1 643.9,661.4 647.2,659.2 648.8,658.5" fill="#bcdcf5"/>
<polygon points="716.0,571.2 715.0,571.7 713.3,571.5 711.2,570.9 712.1,570.1 715.5,570.4" fill="#bcdcf5"/>
<polygon points="673.7,559.2 673.9,560.3 673.5,560.9 672.3,560.6 671.5,560.0 671.4,559.2 672.0,558.8 672.8,558.9" fill="#bcdcf5"/>
<polygon points="805.9,684.8 805.0,685.5 802.9,686.3 800.6,686.8 798.7,686.1 800.1,685.0 803.0,684.0 804.1,684.4" fill="#bcdcf5"/>
<polygon points="629.4,576.0 627.3,576.8 623.3,577.4 621.0,577.5 621.6,576.1 623.7,575.0 625.8,575.4" fill="#bcdcf5"/>
<polygon points="722.3,575.2 718.8,577.5 715.5,578.7 713.4,578.0 719.5,574.3" fill="#bcdcf5"/>
<polygon points="702.1,705.1 702.8,705.7 699.9,707.6 696.8,709.1 695.2,709.2 696.7,707.1 701.5,704.1" fill="#bcdcf5"/>
<polygon points="718.5,616.0 718.9,617.0 718.1,617.7 716.8,617.7 716.7,616.9 716.9,615.6 717.9,615.9" fill="#bcdcf5"/>
<polygon points="746.6,709.4 747.0,711.1 744.1,713.8 742.3,715.4 740.2,716.8 741.2,713.8 742.5,711.0 745.9,708.1" fill="#bcdcf5"/>
<polygon points="736.8,742.8 736.4,743.3 735.2,743.6 735.1,743.3 735.6,742.8 736.2,742.7" fill="#bcdcf5"/>
<polygon points="756.5,693.9 756.7,694.6 756.0,695.0 754.1,695.8 754.4,695.2 755.0,693.7 755.8,693.6" fill="#bcdcf5"/>
<polygon points="727.4,693.5 726.7,693.8 726.3,693.6 726.1,693.2 727.1,692.9" fill="#bcdcf5"/>
<polygon points="631.4,694.7 629.3,695.8 627.9,695.9 628.5,694.1 630.3,693.5" fill="#bcdcf5"/>
<polygon points="755.8,702.8 753.6,704.8 750.5,703.7 748.7,702.6 749.5,700.7 754.1,701.8" fill="#bcdcf5"/>
<polygon points="769.2,662.3 768.1,662.8 766.7,662.8 766.3,662.5 766.2,662.2 766.5,661.7 768.1,661.8" fill="#bcdcf5"/>
<polygon points="697.6,523.8 697.3,524.8 696.1,524.9 695.3,524.4 694.7,523.1 695.3,523.0 696.4,522.9 697.4,523.2" fill="#bcdcf5"/>
<polygon points="647.6,713.5 646.2,715.2 643.5,714.6 642.4,713.3 645.8,712.4" fill="#bcdcf5"/>
<polygon points="705.4,742.7 705.1,743.8 702.6,743.5 701.9,743.0 701.9,742.1 703.3,741.3 706.1,742.0" fill="#bcdcf5"/>
<polygon points="717.2,735.6 716.1,736.3 713.2,736.4 713.7,735.8 715.5,735.5" fill="#bcdcf5"/>
<polygon points="700.8,539.4 701.3,540.7 697.7,544.1 696.1,544.4 696.5,542.7 698.6,539.7" fill="#bcdcf5"/>
<polygon points="785.6,728.7 784.0,729.6 781.6,729.9 779.4,729.3 781.5,727.8 783.0,728.0" fill="#bcdcf5"/>
<polygon points="641.9,576.8 640.1,578.9 639.1,580.5 635.3,582.0 634.3,581.1 636.9,579.5 640.2,576.8" fill="#bcdcf5"/>
<polygon points="655.7,502.9 654.9,504.0 653.8,504.6 652.1,503.4 653.0,502.6 653.7,501.5 654.6,502.5" fill="#bcdcf5"/>
<polygon points="674.3,583.8 673.5,584.2 672.4,584.5 671.7,583.9 671.6,583.3 672.5,583.1 673.9,583.2" fill="#bcdcf5"/>
<polygon points="718.1,578.6 716.3,582.0 712.3,585.4 712.0,584.0 715.1,580.1" fill="#bcdcf5"/>
<polygon points="652.6,739.4 651.0,740.9 647.5,742.7 647.3,741.5 650.4,739.6" fill="#bcdcf5"/>
<polygon points="646.6,718.4 646.0,721.1 644.4,723.1 642.8,723.9 642.0,723.7 642.6,721.3 645.4,718.0" fill="#bcdcf5"/>
<polygon points="670.0,680.2 669.3,682.6 666.7,683.5 665.4,682.4 667.8,680.4" fill="#bcdcf5"/>
<polygon points="689.4,652.7 688.7,653.8 685.9,654.6 685.4,653.7 688.3,652.3" fill="#bcdcf5"/>
<polygon points="715.5,575.1 714.8,575.6 713.1,575.8 712.8,575.3 714.9,574.9" fill="#bcdcf5"/>
<polygon points="614.9,660.0 614.5,660.5 613.0,661.1 612.1,660.5 613.8,659.5" fill="#bcdcf5"/>
<polygon points="655.5,683.6 654.9,684.5 652.5,686.1 649.9,687.7 649.4,686.9 650.8,685.6 652.2,684.7 653.2,684.4" fill="#bcdcf5"/>
<polygon points="735.0,653.4 734.9,655.1 734.0,655.5 732.7,654.6 733.6,653.8" fill="#bcdcf5"/>
<polygon points="650.4,579.3 649.5,580.6 647.9,579.6 647.8,578.2 649.8,577.6" fill="#bcdcf5"/>
<polygon points="667.6,497.6 667.6,499.7 666.9,501.2 664.3,501.2 664.1,499.5 666.4,497.1" fill="#bcdcf5"/>
<polygon points="840.2,618.7 838.5,618.9 836.5,619.3 834.2,618.8 833.8,617.7 834.1,617.1 837.2,617.1 839.8,618.0" fill="#bcdcf5"/>
<polygon points="723.5,741.8 723.6,742.3 723.3,743.2 722.3,743.0 722.2,742.4 722.5,741.4 723.0,741.2" fill="#bcdcf5"/>
<polygon points="712.0,610.6 711.9,610.8 711.2,611.6 710.4,611.9 710.4,611.4 711.0,610.6 711.8,610.2" fill="#bcdcf5"/>
<polygon points="719.7,682.7 720.1,683.9 719.2,684.4 717.9,685.0 717.1,684.1 716.9,683.4 717.9,682.7 718.9,682.0" fill="#bcdcf5"/>
<polygon points="639.6,504.9 637.2,506.0 631.7,506.0 633.7,504.4 636.5,504.1" fill="#bcdcf5"/>
<polygon points="796.1,692.3 794.9,692.3 793.6,692.6 792.3,692.4 791.9,691.3 792.3,691.1 793.5,690.9 795.4,691.2" fill="#bcdcf5"/>
<polygon points="841.9,641.0 840.6,641.9 838.1,641.3 839.1,639.8 840.5,640.0" fill="#bcdcf5"/>
<polygon points="699.7,648.1 699.7,650.4 698.0,652.2 696.1,651.3 698.3,648.2" fill="#bcdcf5"/>
<polygon points="749.5,640.5 747.6,641.2 744.4,641.5 743.2,640.5 745.3,640.0 748.2,640.0" fill="#bcdcf5"/>
<polygon points="668.6,526.0 668.2,527.0 664.2,528.1 663.1,527.8 662.7,526.2 664.0,525.3 664.5,524.9 667.5,524.8" fill="#bcdcf5"/>
<polygon points="841.4,700.5 837.2,701.5 834.8,701.5 833.1,700.3 838.5,699.4" fill="#bcdcf5"/>
<polygon points="706.8,551.6 704.0,554.7 699.7,556.3 699.5,553.9 704.5,550.8" fill="#bcdcf5"/>
<polygon points="830.4,706.4 829.5,707.8 828.2,708.8 826.6,709.4 826.4,708.1 826.7,707.4 830.1,705.8" fill="#bcdcf5"/>
<polygon points="644.0,712.4 643.9,713.1 643.6,713.5 643.0,713.9 642.6,713.4 642.5,713.3 642.6,712.6 643.7,712.2" fill="#bcdcf5"/>
<polygon points="724.5,531.1 724.6,532.0 721.9,533.2 717.9,533.5 716.9,532.5 719.7,531.3 725.3,529.9" fill="#bcdcf5"/>
<polygon points="824.4,684.9 822.5,686.0 819.1,686.3 818.7,685.8 822.4,684.5" fill="#bcdcf5"/>
<polygon points="614.4,681.0 613.8,681.6 613.3,682.4 612.5,681.9 612.1,681.1 613.5,680.2" fill="#bcdcf5"/>
<polygon points="687.2,630.8 686.8,632.0 684.4,633.4 683.5,632.7 685.4,630.7" fill="#bcdcf5"/>
<polygon points="699.6,632.0 699.4,632.7 698.5,633.4 697.2,634.4 697.6,633.2 698.8,632.0" fill="#bcdcf5"/>
<polygon points="638.6,707.1 637.9,708.0 636.6,708.8 631.5,709.5 632.0,708.7 631.7,707.6 634.5,706.4 638.6,706.2" fill="#bcdcf5"/>
<polygon points="760.4,670.7 757.9,673.0 754.9,673.3 750.5,673.5 754.4,671.6 757.6,670.7" fill="#bcdcf5"/>
<polygon points="759.6,656.2 758.7,656.7 756.4,657.0 755.8,656.4 754.8,655.6 755.8,654.9 757.9,654.9 758.3,655.3" fill="#bcdcf5"/>
<polygon points="658.8,576.8 659.1,577.9 658.7,578.9 657.2,580.0 656.6,579.7 656.8,578.8 656.8,577.7 657.7,576.7" fill="#bcdcf5"/>
<polygon points="813.7,705.6 812.9,707.7 811.2,710.1 808.8,710.8 807.7,709.1 809.0,707.5 812.0,706.2" fill="#bcdcf5"/>
<polygon points="805.5,708.5 806.1,709.0 801.9,711.4 801.6,710.7 802.5,709.3 804.5,708.2" fill="#bcdcf5"/>
<polygon points="741.4,726.3 740.2,728.1 737.2,730.1 734.7,729.8 739.1,726.2" fill="#bcdcf5"/>
<polygon points="682.1,626.9 682.1,627.5 680.7,627.7 680.2,627.3 679.9,626.4 680.4,625.9 681.5,625.7 682.2,625.9" fill="#bcdcf5"/>
<polygon points="731.5,708.9 730.9,709.2 730.3,709.1 729.2,708.8 728.6,708.5 730.3,708.3 730.7,708.6" fill="#bcdcf5"/>
<polygon points="781.7,643.1 782.2,644.4 780.8,644.4 780.3,643.9 780.4,643.0 781.2,642.0" fill="#bcdcf5"/>
<polygon points="825.3,692.6 825.6,693.5 824.4,694.1 823.3,694.5 823.2,693.8 822.7,692.8 823.8,692.2 825.2,691.9" fill="#bcdcf5"/>
<polygon points="703.5,539.3 702.6,540.3 700.4,539.9 699.5,538.5 701.2,538.1 703.5,538.4" fill="#bcdcf5"/>
<polygon points="650.6,577.9 651.2,580.7 649.8,581.1 648.0,581.6 646.3,581.5 647.4,578.7 648.2,577.7 649.2,577.7" fill="#bcdcf5"/>
<polygon points="820.5,730.3 817.8,732.0 812.9,731.1 812.7,729.0 818.0,729.0" fill="#bcdcf5"/>
<polygon points="841.1,724.4 839.5,725.9 835.5,725.9 832.1,724.6 835.7,723.6 839.7,723.7" fill="#bcdcf5"/>
<polygon points="710.0,691.2 707.4,691.4 706.7,691.4 702.6,691.2 703.3,690.6 704.7,690.1 705.8,690.2 708.8,690.5" fill="#bcdcf5"/>
<polygon points="789.5,694.6 786.6,695.6 781.2,695.5 781.6,694.4 785.6,693.6" fill="#bcdcf5"/>
<polygon points="721.6,668.0 720.5,669.6 720.1,669.9 717.9,670.9 716.5,670.7 717.2,670.2 718.7,668.7 720.5,668.4" fill="#bcdcf5"/>
<polygon points="611.9,523.1 612.9,524.1 608.7,525.6 607.3,524.9 606.3,524.1 605.7,523.2 608.5,521.8 611.6,522.1" fill="#bcdcf5"/>
<polygon points="742.0,690.7 740.6,691.9 739.7,691.2 739.3,690.6 740.0,689.4 741.4,689.7" fill="#bcdcf5"/>
<polygon points="765.5,707.9 765.2,709.0 764.6,709.2 763.6,709.0 763.5,708.5 764.9,708.1" fill="#bcdcf5"/>
<polygon points="721.4,633.9 720.7,634.3 720.1,634.7 718.9,634.0 719.3,633.7 720.5,633.5" fill="#bcdcf5"/>
<polygon points="652.2,707.4 649.8,709.8 647.2,710.9 644.9,710.9 645.5,710.0 650.1,707.4" fill="#bcdcf5"/>
<polygon points="727.6,707.3 727.5,708.8 725.0,709.3 722.8,708.6 723.4,707.1 726.1,706.2" fill="#bcdcf5"/>
<polygon points="739.6,733.8 739.3,735.3 738.7,736.0 736.3,736.7 735.9,735.3 736.0,733.9 737.6,732.3 738.8,733.3" fill="#bcdcf5"/>
<polygon points="657.0,689.2 657.5,689.6 655.8,690.4 653.9,690.7 654.3,690.1 654.1,689.7 655.5,689.2 656.7,689.0" fill="#bcdcf5"/>
<polygon points="720.8,511.9 719.1,512.2 718.0,512.7 714.9,510.9 714.6,510.3 715.8,509.2 718.1,510.1 719.1,510.3" fill="#bcdcf5"/>
<polygon points="691.5,592.0 689.1,593.5 686.6,594.6 686.0,593.5 688.4,592.2" fill="#bcdcf5"/>
<polygon points="691.5,653.8 690.9,654.5 689.1,655.6 687.6,655.8 687.1,655.3 688.8,654.3 690.3,654.0" fill="#bcdcf5"/>
<polygon points="719.2,548.4 718.8,548.9 717.8,549.4 717.0,549.3 717.5,548.9 718.7,548.0" fill="#bcdcf5"/>
<polygon points="628.5,565.5 626.8,567.7 625.1,566.8 622.3,566.5 624.0,564.8 626.7,564.7" fill="#bcdcf5"/>
<polygon points="677.0,608.4 676.8,610.0 675.8,610.1 675.1,609.7 676.2,608.7" fill="#bcdcf5"/>
<polygon points="507.1,636.9 506.9,637.6 506.1,638.1 505.9,638.1 506.2,637.2" fill="#bcdcf5"/>
<polygon points="517.1,597.8 516.3,598.3 515.7,598.4 515.5,598.1 516.2,597.7" fill="#bcdcf5"/>
<polygon points="543.3,498.9 543.1,499.2 542.3,499.4 541.6,499.7 540.5,499.1 541.4,498.8 542.3,498.4 543.1,498.6" fill="#bcdcf5"/>
<polygon points="517.4,524.5 515.2,527.0 513.3,529.2 511.7,529.3 510.8,528.4 514.6,525.6" fill="#bcdcf5"/>
<polygon points="596.6,578.2 596.2,578.5 595.1,578.3 593.9,577.9 594.3,577.8 595.3,577.6 596.2,577.7" fill="#bcdcf5"/>
<polygon points="582.9,626.6 582.9,627.3 582.4,627.4 581.8,627.0 582.5,626.5" fill="#bcdcf5"/>
<polygon points="480.2,585.4 480.0,585.6 479.2,585.7 478.1,585.7 478.2,585.5 479.2,585.2 480.0,585.2" fill="#bcdcf5"/>
<polygon points="534.2,595.2 533.5,596.2 532.7,596.5 532.1,595.6 532.8,594.6" fill="#bcdcf5"/>
<polygon points="570.0,504.7 569.3,505.2 568.7,505.2 568.4,504.8 569.2,504.5" fill="#bcdcf5"/>
<polygon points="592.2,618.3 591.5,619.4 590.7,620.6 589.5,622.1 587.7,622.3 587.8,621.5 589.8,619.4 591.9,617.5" fill="#bcdcf5"/>
<polygon points="589.0,595.8 588.4,597.3 585.2,599.3 583.8,599.9 583.6,598.3 588.2,594.8" fill="#bcdcf5"/>
<polygon points="536.2,539.7 535.4,540.4 534.1,541.1 531.6,541.7 532.4,540.7 533.7,539.4 534.6,539.5" fill="#bcdcf5"/>
<polygon points="491.7,640.3 490.4,640.2 489.1,640.0 487.6,639.8 487.3,639.1 488.2,639.0 489.3,639.1 490.4,639.5" fill="#bcdcf5"/>
<polygon points="478.0,636.7 476.9,639.2 474.3,641.0 472.5,641.3 473.2,639.3 475.3,637.9" fill="#bcdcf5"/>
<polygon points="519.6,502.3 519.2,503.6 517.3,504.2 515.3,505.0 513.0,504.8 514.5,502.9 516.3,502.5 518.2,502.2" fill="#bcdcf5"/>
<polygon points="483.8,564.5 481.9,566.2 480.0,567.5 477.4,567.7 477.3,566.7 478.0,565.7 481.1,564.4" fill="#bcdcf5"/>
<polygon points="500.4,607.6 499.4,608.6 497.1,609.1 496.3,609.1 494.7,609.0 495.0,608.5 498.1,607.4 500.0,607.4" fill="#bcdcf5"/>
<polygon points="565.5,572.8 565.3,573.7 562.2,574.1 560.9,573.4 561.0,572.4 564.5,572.2" fill="#bcdcf5"/>
<polygon points="599.7,546.3 599.4,546.5 598.8,546.4 598.6,546.2 598.6,546.0 598.4,545.6 599.3,545.6 599.7,546.0" fill="#bcdcf5"/>
<polygon points="582.1,566.3 582.1,566.7 581.1,566.7 580.3,566.6 580.6,566.2 581.0,566.0 581.8,566.1" fill="#bcdcf5"/>
<polygon points="527.7,538.9 527.7,539.4 526.5,540.0 525.0,539.5 524.7,539.2 524.9,538.5 526.6,537.9 527.4,538.0" fill="#bcdcf5"/>
<polygon points="575.4,615.4 575.7,616.2 573.1,616.2 571.4,615.8 571.4,615.1 573.3,615.1 574.8,615.1" fill="#bcdcf5"/>
<polygon points="590.7,533.7 589.7,536.6 586.1,540.8 585.1,541.3 586.3,538.3 588.0,536.3" fill="#bcdcf5"/>
<polygon points="505.8,538.3 505.7,538.7 504.8,538.8 504.3,538.7 504.1,538.4 504.2,538.1 504.9,538.1 505.8,538.0" fill="#bcdcf5"/>
<polygon points="577.1,522.0 577.0,522.7 575.9,522.5 575.5,522.0 576.1,521.4 576.7,521.5" fill="#bcdcf5"/>
<polygon points="544.1,546.7 543.4,548.8 541.8,550.5 540.1,550.9 540.0,549.4 542.1,547.6" fill="#bcdcf5"/>
<polygon points="579.6,524.7 579.5,526.0 578.3,526.0 576.9,526.1 576.6,525.6 576.4,524.6 577.6,523.4 579.2,523.3" fill="#bcdcf5"/>
<polygon points="552.7,597.0 552.0,598.2 550.8,598.6 549.5,598.3 547.9,597.8 548.1,596.9 550.4,595.9 552.0,596.6" fill="#bcdcf5"/>
<polygon points="527.3,616.4 526.4,616.9 525.2,616.5 524.3,615.9 525.8,615.1 527.3,615.5" fill="#bcdcf5"/>
<polygon points="595.1,566.5 593.8,567.5 592.2,568.1 591.7,567.2 593.9,565.9" fill="#bcdcf5"/>
<polygon points="548.9,544.8 549.4,545.5 548.6,546.2 547.6,546.7 547.3,546.4 546.8,545.9 547.3,545.0 548.3,544.9" fill="#bcdcf5"/>
<polygon points="597.0,533.0 595.5,535.0 593.8,536.4 593.6,535.2 595.5,533.7" fill="#bcdcf5"/>
<polygon points="601.0,574.6 600.3,575.8 598.2,575.6 598.5,573.7 599.8,573.6" fill="#bcdcf5"/>
<polygon points="562.2,611.5 561.8,612.0 561.6,612.2 561.1,612.4 560.8,612.5 560.8,612.1 561.4,611.7 562.0,611.3" fill="#bcdcf5"/>
<polygon points="554.5,624.9 554.1,626.6 551.9,628.2 551.1,628.0 552.5,626.2" fill="#bcdcf5"/>
<polygon points="569.2,562.6 567.2,565.0 564.6,566.9 562.8,567.0 565.9,563.4" fill="#bcdcf5"/>
<polygon points="546.1,614.1 545.4,614.6 544.2,614.8 543.0,614.8 543.4,614.4 544.8,614.1" fill="#bcdcf5"/>
<polygon points="473.4,568.8 471.9,568.9 469.5,568.7 467.7,567.3 470.3,567.3 471.8,568.0" fill="#bcdcf5"/>
<polygon points="592.3,585.1 591.8,585.5 591.2,585.7 590.7,585.7 590.6,585.5 591.1,585.1 591.5,584.9" fill="#bcdcf5"/>
<polygon points="499.9,551.6 497.1,551.7 494.2,551.1 492.6,550.2 491.7,548.6 495.2,549.1 498.1,550.2" fill="#bcdcf5"/>
<polygon points="558.2,491.7 557.9,492.5 557.3,493.4 555.9,494.1 554.7,494.5 554.8,493.9 556.8,492.3 557.1,492.3" fill="#bcdcf5"/>
<polygon points="565.6,552.9 564.8,553.5 563.8,553.5 563.3,553.5 563.9,553.0 565.1,552.7" fill="#bcdcf5"/>
<polygon points="528.0,517.1 527.8,518.0 526.4,519.3 526.1,518.8 527.1,517.8" fill="#bcdcf5"/>
<polygon points="541.8,568.7 540.4,569.0 539.8,568.9 538.0,567.8 537.8,566.8 538.6,566.8 540.1,567.0 540.8,567.6" fill="#bcdcf5"/>
<polygon points="585.9,575.2 585.9,576.1 585.1,578.4 584.2,578.3 581.9,578.5 582.2,576.7 583.7,576.2 584.8,574.9" fill="#bcdcf5"/>
<polygon points="474.1,527.7 473.4,529.3 470.3,531.5 470.3,530.3 472.0,528.8" fill="#bcdcf5"/>
<polygon points="550.9,506.8 550.2,508.2 550.0,508.9 548.8,509.7 548.4,508.9 548.9,508.1 550.2,507.0" fill="#bcdcf5"/>
<polygon points="561.0,584.0 560.3,584.3 559.4,584.3 559.1,584.0 559.1,583.6 560.4,583.8" fill="#bcdcf5"/>
<polygon points="538.0,578.0 537.6,578.7 536.6,578.9 535.2,579.3 534.4,578.8 534.8,577.8 535.6,577.4 537.3,577.6" fill="#bcdcf5"/>
<polygon points="553.9,634.1 553.0,634.4 551.4,634.6 550.0,634.0 550.1,633.6 551.8,633.5 552.6,633.5" fill="#bcdcf5"/>
<polygon points="591.4,590.1 589.8,590.8 587.2,591.3 587.0,590.5 587.2,590.0 589.7,589.5" fill="#bcdcf5"/>
<polygon points="555.7,572.9 555.2,573.4 554.5,573.8 554.4,573.4 554.2,573.1 555.1,572.8" fill="#bcdcf5"/>
<polygon points="581.7,496.5 582.6,498.4 580.6,499.7 578.6,498.0 580.3,496.7" fill="#bcdcf5"/>
<polygon points="485.2,597.3 483.9,598.8 483.4,599.7 481.0,600.9 480.9,600.4 482.6,598.6 483.4,597.8" fill="#bcdcf5"/>
<polygon points="518.9,558.7 517.7,559.3 516.2,559.6 515.7,559.5 516.3,558.9 517.5,558.6" fill="#bcdcf5"/>
<polygon points="512.6,602.6 512.8,603.9 508.8,603.7 507.9,602.1 508.4,601.3 511.1,601.7" fill="#bcdcf5"/>
<polygon points="580.8,536.9 580.4,537.2 579.4,537.4 578.6,537.2 579.2,536.6 580.6,536.6" fill="#bcdcf5"/>
<polygon points="522.7,634.9 522.6,635.5 521.7,635.1 521.1,634.9 521.1,634.2 522.3,634.1 522.5,634.3" fill="#bcdcf5"/>
<polygon points="502.1,553.1 501.3,553.7 499.4,554.4 496.7,554.8 495.3,554.9 496.9,554.0 497.5,553.3 500.0,553.2" fill="#bcdcf5"/>
<polygon points="533.7,546.0 533.7,547.5 531.9,548.9 530.8,546.9 531.2,545.8" fill="#bcdcf5"/>
<polygon points="562.6,535.8 562.9,536.9 562.4,537.2 561.8,537.1 560.9,536.6 560.6,536.1 561.8,535.4 562.4,535.6" fill="#bcdcf5"/>
<polygon points="584.9,636.7 584.1,636.7 583.2,636.4 583.7,636.0 584.3,635.9" fill="#bcdcf5"/>
<polygon points="549.9,593.9 549.5,594.4 547.9,594.1 547.9,593.6 547.6,593.1 549.0,593.3 549.7,593.6" fill="#bcdcf5"/>
<polygon points="565.4,613.8 562.8,615.4 559.7,616.1 559.0,615.2 564.7,612.8" fill="#bcdcf5"/>
<polygon points="519.9,633.3 518.7,634.4 515.5,634.9 514.2,634.5 514.7,632.9 517.2,632.0" fill="#bcdcf5"/>
<polygon points="592.8,597.8 592.5,599.2 591.0,599.2 588.7,598.0 589.5,597.3 590.3,596.5 592.8,596.6" fill="#bcdcf5"/>
<polygon points="518.2,616.2 517.3,617.0 514.2,617.9 511.9,618.6 510.9,618.0 510.9,617.6 513.6,616.3 517.1,615.4" fill="#bcdcf5"/>
<polygon points="528.2,532.4 527.4,532.8 526.5,533.4 525.7,532.9 525.5,531.7 526.7,531.9 527.3,532.0" fill="#bcdcf5"/>
<polygon points="487.9,525.8 487.5,527.9 486.4,528.4 484.3,530.1 484.2,528.7 484.4,527.6 486.7,526.5" fill="#bcdcf5"/>
<polygon points="478.5,630.5 477.0,632.6 474.5,631.4 475.4,629.3 477.9,629.2" fill="#bcdcf5"/>
<polygon points="516.1,508.0 514.1,509.1 512.6,507.7 512.2,506.3 514.5,506.3" fill="#bcdcf5"/>
<polygon points="544.7,530.8 544.0,531.3 543.2,531.6 541.1,531.8 541.3,531.5 541.6,531.2 542.6,530.9 544.2,530.6" fill="#bcdcf5"/>
<polygon points="564.7,633.6 564.3,634.0 563.4,634.2 563.0,633.4 562.7,632.8 562.7,632.3 563.9,632.5 565.0,632.5" fill="#bcdcf5"/>
<polygon points="533.7,564.3 533.4,564.9 531.4,565.1 529.6,564.6 529.2,564.2 529.6,563.4 532.2,563.2 533.2,563.8" fill="#bcdcf5"/>
<polygon points="539.1,607.6 538.7,607.9 537.9,608.1 537.3,608.2 537.1,607.9 538.0,607.5 538.6,607.4" fill="#bcdcf5"/>
<polygon points="515.3,526.2 515.2,526.7 514.3,526.5 514.1,526.3 514.0,525.8 514.4,525.6 515.1,525.8" fill="#bcdcf5"/>
<polygon points="561.1,566.9 561.6,567.5 560.7,568.7 558.5,570.6 557.6,570.8 557.1,569.5 558.4,568.4 559.9,567.2" fill="#bcdcf5"/>
<polygon points="510.0,547.8 508.7,550.3 507.7,551.0 506.8,550.7 508.1,548.3" fill="#bcdcf5"/>
<polygon points="479.8,495.3 480.0,495.8 479.8,496.1 478.9,496.5 478.9,496.3 478.4,496.2 478.7,495.6 479.3,495.1" fill="#bcdcf5"/>
<polygon points="567.1,535.8 566.4,536.2 566.0,536.0 565.1,535.5 565.6,535.4 566.4,535.3 566.7,535.5" fill="#bcdcf5"/>
<polygon points="567.0,636.3 565.9,637.1 564.1,638.0 562.1,638.8 562.5,638.0 562.6,637.7 564.3,636.8 565.0,636.4" fill="#bcdcf5"/>
<polygon points="508.7,596.6 508.4,598.1 507.3,598.0 506.3,596.8 506.4,595.9 507.6,594.9 508.7,595.2" fill="#bcdcf5"/>
<polygon points="520.8,592.1 519.5,592.5 517.4,591.8 518.0,591.2 520.1,591.5" fill="#bcdcf5"/>
<polygon points="602.4,597.7 601.8,599.2 597.6,600.4 597.4,599.0 600.6,597.8" fill="#bcdcf5"/>
<polygon points="536.0,525.2 534.6,527.4 531.5,529.2 530.3,528.6 533.6,525.8" fill="#bcdcf5"/>
<polygon points="600.8,533.2 600.4,533.6 599.1,533.9 598.6,533.7 599.0,533.4 599.9,533.1" fill="#bcdcf5"/>
<polygon points="582.9,500.6 582.7,501.7 578.8,502.6 577.4,502.4 576.2,501.3 579.2,499.7 583.2,499.4" fill="#bcdcf5"/>
<polygon points="507.3,499.0 507.0,499.2 506.4,499.4 505.6,499.4 505.5,499.1 506.2,498.8 507.1,498.7" fill="#bcdcf5"/>
<polygon points="517.1,527.1 516.0,527.7 515.1,527.5 515.0,527.1 515.2,526.5 516.7,526.2" fill="#bcdcf5"/>
<polygon points="493.8,533.9 493.1,534.8 491.6,535.6 491.0,535.5 491.4,534.9 492.9,533.8" fill="#bcdcf5"/>
<polygon points="592.8,621.2 591.9,622.1 590.9,622.6 590.0,621.6 589.1,620.1 590.2,619.6 591.4,619.6 592.7,619.7" fill="#bcdcf5"/>
<polygon points="496.1,562.8 495.2,563.2 493.0,562.9 492.9,562.2 495.5,562.1" fill="#bcdcf5"/>
<polygon points="595.8,533.0 596.3,534.0 593.1,534.4 590.8,534.5 588.5,533.5 590.2,532.4 592.3,532.5 594.5,532.8" fill="#bcdcf5"/>
<polygon points="592.5,597.7 592.6,599.0 591.1,599.9 590.3,599.0 591.4,597.8" fill="#bcdcf5"/>
<polygon points="548.4,558.8 548.3,559.9 546.1,559.4 544.1,558.7 543.1,558.2 545.3,557.9 548.7,558.1" fill="#bcdcf5"/>
<polygon points="481.5,627.9 480.5,629.0 478.8,628.5 478.5,627.5 480.0,627.4" fill="#bcdcf5"/>
<polygon points="490.7,550.4 490.1,551.4 489.5,552.0 488.6,552.4 488.7,551.8 489.0,551.3 489.9,550.8" fill="#bcdcf5"/>
<polygon points="534.0,511.5 534.2,511.7 533.7,512.0 533.1,512.0 533.0,511.5 533.5,511.0" fill="#bcdcf5"/>
<polygon points="537.0,580.2 536.1,581.1 534.1,581.1 533.1,580.1 534.2,579.4 536.6,579.3" fill="#bcdcf5"/>
<polygon points="474.5,592.1 474.2,594.1 472.7,595.6 472.0,594.0 473.0,592.0" fill="#bcdcf5"/>
<polygon points="543.6,543.7 542.7,544.6 541.5,544.4 540.8,543.8 541.7,542.6 542.1,542.0 543.5,542.2" fill="#bcdcf5"/>
<polygon points="509.3,562.2 508.0,563.7 506.5,564.3 505.1,565.3 503.9,565.5 504.4,564.5 506.4,562.9 507.8,562.5" fill="#bcdcf5"/>
<polygon points="542.3,635.4 541.6,637.7 538.8,639.5 536.6,640.2 539.8,636.0" fill="#bcdcf5"/>
<polygon points="582.0,533.6 580.9,534.7 577.6,536.1 577.8,534.7 580.0,533.8" fill="#bcdcf5"/>
<polygon points="527.5,599.3 527.8,599.5 526.9,600.2 526.3,600.8 526.0,600.6 526.0,600.1 526.4,599.8 527.3,599.1" fill="#bcdcf5"/>
<polygon points="508.4,558.8 508.3,559.1 507.7,559.3 507.3,559.0 507.5,558.5 507.8,558.5 508.2,558.6" fill="#bcdcf5"/>
<polygon points="587.9,499.5 587.9,499.9 586.5,500.6 586.1,500.6 586.1,500.2 586.4,499.9 587.5,499.6" fill="#bcdcf5"/>
<polygon points="561.9,558.1 561.3,559.6 560.9,560.4 558.7,562.1 557.4,562.6 557.8,561.6 559.7,559.6 561.0,558.7" fill="#bcdcf5"/>
<polygon points="597.8,578.2 598.0,579.3 594.2,579.0 589.8,578.7 592.0,577.5 591.9,577.0 597.4,577.6" fill="#bcdcf5"/>
<polygon points="556.4,590.4 554.4,591.6 551.8,592.4 550.1,591.8 553.3,590.4" fill="#bcdcf5"/>
<polygon points="498.0,544.0 496.9,544.9 495.6,544.9 494.2,544.6 494.2,543.7 495.9,543.6 496.8,543.2" fill="#bcdcf5"/>
<polygon points="496.1,611.1 496.2,611.9 496.1,612.9 494.8,613.6 494.4,613.6 494.0,613.1 494.4,611.9 495.4,611.6" fill="#bcdcf5"/>
<polygon points="562.7,518.3 563.2,518.1 562.5,519.1 561.6,520.2 561.1,519.9 561.3,519.4 561.8,518.5 562.3,518.4" fill="#bcdcf5"/>
<polygon points="600.4,589.2 600.3,589.7 598.3,590.0 598.2,589.5 598.6,588.9 599.9,588.7" fill="#bcdcf5"/>
<polygon points="496.8,532.4 496.8,532.9 494.2,532.7 491.0,531.8 491.7,531.6 491.4,530.5 495.1,531.1 496.2,531.7" fill="#bcdcf5"/>
<polygon points="544.3,556.5 544.2,557.1 544.0,557.5 543.6,557.3 543.1,557.3 543.5,557.0 543.9,556.3" fill="#bcdcf5"/>
<polygon points="516.3,506.8 515.0,507.5 514.1,507.6 513.9,507.2 515.0,506.8" fill="#bcdcf5"/>
<polygon points="476.6,587.1 476.6,588.3 475.5,589.0 473.8,588.8 474.1,587.6 474.5,587.1 476.0,586.9" fill="#bcdcf5"/>
<polygon points="559.6,518.4 559.1,518.9 558.2,519.3 557.3,518.4 557.4,517.7 557.8,517.1 559.2,517.9" fill="#bcdcf5"/>
<polygon points="528.8,526.1 527.8,527.4 524.5,527.6 524.6,526.5 526.2,525.2" fill="#bcdcf5"/>
<polygon points="442.4,578.9 442.1,579.5 441.5,580.4 441.1,580.7 440.1,581.4 440.4,580.6 441.1,579.2 441.8,578.6" fill="#bcdcf5"/>
<polygon points="384.3,596.1 383.8,596.2 383.3,596.3 382.9,596.2 382.8,595.9 383.2,595.7 383.7,595.9" fill="#bcdcf5"/>
<polygon points="401.2,617.4 400.5,618.3 398.6,619.0 398.2,618.0 399.5,617.4" fill="#bcdcf5"/>
<polygon points="432.2,510.7 432.0,511.4 430.5,511.8 428.8,512.0 428.8,511.7 430.2,510.7 431.0,510.9" fill="#bcdcf5"/>
<polygon points="317.4,524.6 316.6,526.2 314.9,527.2 314.0,527.3 315.8,525.0" fill="#bcdcf5"/>
<polygon points="335.6,597.5 335.1,599.0 333.4,600.2 331.9,600.4 334.4,598.2" fill="#bcdcf5"/>
<polygon points="399.0,558.9 396.7,559.5 393.5,559.6 394.0,558.6 396.5,558.6" fill="#bcdcf5"/>
<polygon points="384.9,563.6 384.5,564.5 383.0,565.4 382.1,565.8 382.7,564.8 384.0,563.9" fill="#bcdcf5"/>
<polygon points="376.4,591.0 375.4,591.2 373.5,591.3 373.0,590.7 373.4,590.1 375.5,590.6" fill="#bcdcf5"/>
<polygon points="375.0,525.2 374.0,526.4 372.7,527.0 371.6,526.7 371.9,525.5 374.1,524.7" fill="#bcdcf5"/>
<polygon points="398.2,594.9 398.4,595.4 397.6,595.6 396.8,595.8 396.5,595.3 397.0,594.8 397.6,594.6" fill="#bcdcf5"/>
<polygon points="372.4,570.4 371.8,570.9 370.8,570.8 370.7,569.9 371.8,569.8" fill="#bcdcf5"/>
<polygon points="319.6,575.9 318.7,576.5 317.1,576.3 316.0,576.3 315.6,575.2 316.9,574.7 318.3,575.1" fill="#bcdcf5"/>
<polygon points="443.5,543.5 443.0,543.9 442.5,543.8 442.2,543.5 442.6,543.2 443.1,543.2" fill="#bcdcf5"/>
<polygon points="407.1,547.9 405.4,548.3 403.7,548.7 402.2,548.2 403.1,547.7 405.0,547.6" fill="#bcdcf5"/>
<polygon points="420.0,555.3 420.5,555.4 419.2,556.0 418.1,556.4 418.0,556.2 417.7,556.1 419.1,555.3 419.8,555.3" fill="#bcdcf5"/>
<polygon points="310.6,510.3 309.6,511.5 307.9,512.0 307.4,511.4 309.1,510.5" fill="#bcdcf5"/>
<polygon points="336.3,512.5 336.1,512.8 334.7,513.2 333.6,513.1 333.0,512.8 334.5,512.1 335.5,511.7" fill="#bcdcf5"/>
<polygon points="394.7,555.2 394.4,556.9 393.4,557.4 392.1,557.3 392.4,556.7 393.4,555.5" fill="#bcdcf5"/>
<polygon points="336.9,530.3 336.6,530.9 336.0,531.3 335.1,530.6 334.7,530.0 336.1,529.6 336.6,529.9" fill="#bcdcf5"/>
<polygon points="380.2,577.8 379.4,578.4 377.9,578.6 378.1,578.0 379.5,577.4" fill="#bcdcf5"/>
<polygon points="320.9,577.1 321.2,577.7 319.8,578.9 318.7,579.1 319.1,578.1 319.2,577.4 320.5,577.0" fill="#bcdcf5"/>
<polygon points="305.5,598.6 304.7,599.3 303.8,599.3 302.9,599.3 303.7,598.9 305.1,598.5" fill="#bcdcf5"/>
<polygon points="360.6,608.8 359.4,609.1 357.8,608.8 357.4,608.5 357.0,607.6 358.3,607.9 359.8,608.3" fill="#bcdcf5"/>
<polygon points="394.0,589.1 393.7,589.2 393.3,589.1 393.5,588.8 393.8,588.7" fill="#bcdcf5"/>
<polygon points="377.2,569.5 376.2,570.2 375.3,570.4 375.1,569.5 376.2,569.2" fill="#bcdcf5"/>
<polygon points="329.8,532.9 329.0,533.3 326.4,532.8 327.7,531.8 329.4,532.0" fill="#bcdcf5"/>
<polygon points="363.9,625.6 363.5,627.0 360.9,628.3 360.6,626.8 362.9,625.3" fill="#bcdcf5"/>
<polygon points="405.0,622.8 405.1,623.1 404.2,624.0 403.5,624.1 403.6,623.7 403.8,623.1 404.4,622.9" fill="#bcdcf5"/>
<polygon points="378.2,571.0 377.8,572.3 377.1,573.4 376.4,574.0 375.3,574.7 374.9,573.4 375.8,572.1 376.9,571.4" fill="#bcdcf5"/>
<polygon points="312.6,553.7 312.6,554.4 311.4,555.7 311.0,555.0 311.8,553.9" fill="#bcdcf5"/>
<polygon points="439.0,568.7 439.4,569.1 438.6,570.3 437.5,570.2 437.8,569.4 438.8,568.6" fill="#bcdcf5"/>
<polygon points="407.0,622.1 406.8,623.3 405.3,623.7 404.6,623.1 404.5,622.3 405.7,621.8" fill="#bcdcf5"/>
<polygon points="428.5,525.3 428.7,525.7 427.1,525.8 426.9,525.6 426.8,525.1 427.9,524.9" fill="#bcdcf5"/>
<polygon points="439.9,492.2 439.7,492.6 438.8,492.9 438.3,492.8 438.0,492.5 438.3,492.1 439.2,491.9 439.9,491.7" fill="#bcdcf5"/>
<polygon points="439.0,573.7 439.1,574.3 439.0,574.6 437.9,574.7 437.9,574.2 438.0,574.0 438.3,573.7 438.7,573.2" fill="#bcdcf5"/>
<polygon points="324.7,610.9 324.3,611.7 323.4,611.9 322.5,611.8 322.3,611.4 322.9,610.8 323.8,610.6" fill="#bcdcf5"/>
<polygon points="392.4,526.1 391.1,526.3 390.4,526.4 388.5,525.7 388.8,525.2 390.3,525.5 391.4,525.6" fill="#bcdcf5"/>
<polygon points="371.8,524.0 371.0,524.3 370.8,524.4 370.1,524.3 369.6,524.1 370.4,523.9 371.5,523.9" fill="#bcdcf5"/>
<polygon points="453.4,567.0 453.1,567.8 451.9,568.5 451.3,568.4 450.6,568.2 450.9,567.5 451.9,567.1 453.4,566.6" fill="#bcdcf5"/>
<polygon points="385.1,566.8 385.1,567.6 383.7,568.8 383.2,568.9 382.6,568.7 383.3,568.0 384.5,567.2" fill="#bcdcf5"/>
<polygon points="342.5,601.4 342.4,602.0 341.2,602.3 340.2,602.3 339.4,601.9 340.5,601.1 342.7,601.0" fill="#bcdcf5"/>
<polygon points="421.0,617.9 420.3,619.2 418.5,620.3 416.4,620.6 417.5,618.9 420.4,617.2" fill="#bcdcf5"/>
<polygon points="419.7,559.8 419.3,560.3 418.2,561.3 416.6,561.9 417.2,561.1 417.3,560.4 419.4,559.3" fill="#bcdcf5"/>
<polygon points="357.5,495.6 356.5,495.9 355.8,495.5 355.8,495.1 357.0,495.3" fill="#bcdcf5"/>
<polygon points="361.9,625.7 360.8,626.8 359.2,626.8 358.6,626.1 359.2,625.4 361.1,625.4" fill="#bcdcf5"/>
<polygon points="379.6,534.3 379.5,534.7 379.0,534.8 378.5,534.7 378.3,534.5 378.4,534.3 379.0,534.1 379.4,534.0" fill="#bcdcf5"/>
<polygon points="345.6,504.5 344.8,505.2 343.8,505.9 343.3,505.6 342.9,505.0 342.8,504.5 344.0,504.2 344.8,504.4" fill="#bcdcf5"/>
<polygon points="381.0,535.5 380.7,535.9 380.2,536.0 379.2,535.8 379.1,535.7 379.5,535.5 379.9,535.3 380.6,535.3" fill="#bcdcf5"/>
<polygon points="302.5,571.1 302.9,571.2 302.2,572.0 301.1,572.5 300.7,572.0 300.5,571.2 300.9,570.6 302.1,570.7" fill="#bcdcf5"/>
<polygon points="421.2,548.1 420.8,548.9 420.1,549.5 419.1,549.9 419.1,549.2 419.5,548.7 420.3,548.4" fill="#bcdcf5"/>
<polygon points="425.3,493.1 424.4,493.9 423.0,493.9 422.6,492.7 423.9,492.4" fill="#bcdcf5"/>
<polygon points="408.8,608.5 408.5,608.9 408.3,609.0 407.4,608.8 407.4,608.6 407.7,608.4 408.2,608.0 408.5,608.3" fill="#bcdcf5"/>
<polygon points="445.3,519.3 445.6,519.5 445.2,519.8 444.9,520.0 444.6,519.6 444.8,519.3 445.0,519.1" fill="#bcdcf5"/>
<polygon points="301.5,628.4 301.2,628.9 300.3,629.1 300.1,628.5 300.9,628.0" fill="#bcdcf5"/>
<polygon points="346.0,598.2 346.1,598.8 344.5,598.8 344.0,598.3 345.2,597.5" fill="#bcdcf5"/>
<polygon points="404.6,555.5 403.7,555.4 403.0,555.3 402.1,555.0 402.1,554.6 403.0,554.7 404.3,555.2" fill="#bcdcf5"/>
<polygon points="425.7,580.3 426.0,580.9 424.9,582.3 424.1,583.0 422.8,583.5 422.9,583.1 424.2,581.5 425.0,580.7" fill="#bcdcf5"/>
<polygon points="315.5,512.2 315.2,512.9 314.7,513.4 314.2,513.6 314.1,512.8 314.2,512.3 314.8,512.2" fill="#bcdcf5"/>
<polygon points="389.9,632.5 389.7,633.0 389.1,633.0 389.1,632.7 389.5,632.2" fill="#bcdcf5"/>
<polygon points="410.2,633.7 409.4,634.0 408.8,633.7 408.5,633.4 408.7,633.2 409.6,633.3" fill="#bcdcf5"/>
<polygon points="379.4,585.3 378.7,586.0 377.3,585.9 375.5,585.3 377.2,584.1 379.0,584.8" fill="#bcdcf5"/>
<polygon points="372.3,638.9 372.2,639.3 371.9,639.7 371.4,639.7 371.5,639.4 371.8,639.1" fill="#bcdcf5"/>
<polygon points="398.5,524.1 398.6,524.3 398.0,524.6 397.5,524.6 397.9,524.2 398.1,524.1" fill="#bcdcf5"/>
<polygon points="455.6,528.0 455.3,528.6 454.9,528.7 454.6,528.2 455.1,528.1" fill="#bcdcf5"/>
<polygon points="463.0,532.1 461.9,533.5 461.1,534.7 459.1,535.0 460.1,533.2 460.9,532.1" fill="#bcdcf5"/>
<polygon points="319.5,565.2 319.2,565.7 318.2,565.7 317.6,565.3 318.4,564.8 319.0,564.9" fill="#bcdcf5"/>
<polygon points="422.5,617.2 422.5,617.4 421.8,617.9 421.1,617.8 421.0,617.5 421.1,616.9 422.0,616.7" fill="#bcdcf5"/>
<polygon points="366.0,497.8 365.5,498.0 364.7,498.1 363.6,497.7 362.9,497.4 363.7,497.4 364.6,497.5 365.5,497.6" fill="#bcdcf5"/>
<polygon points="386.9,541.8 386.5,543.6 384.9,544.1 384.0,543.2 384.2,542.3 386.3,541.1" fill="#bcdcf5"/>
<polygon points="605.3,711.2 604.8,712.0 604.4,712.5 603.6,712.9 603.1,713.0 603.4,712.3 604.1,711.8 605.2,711.0" fill="#bcdcf5"/>
<polygon points="692.6,729.1 692.1,729.6 690.9,730.2 690.6,730.1 691.1,729.6 691.7,729.4" fill="#bcdcf5"/>
<polygon points="626.8,713.3 626.1,714.8 625.4,714.8 623.9,715.3 624.0,714.2 624.8,713.5 626.2,712.9" fill="#bcdcf5"/>
<polygon points="633.1,701.2 631.4,701.8 628.3,701.8 626.4,701.2 630.2,700.6 632.6,700.5" fill="#bcdcf5"/>
<polygon points="651.2,736.8 650.0,737.6 648.9,737.8 648.3,737.9 647.8,737.0 648.7,736.4 649.2,735.6 650.2,736.5" fill="#bcdcf5"/>
<polygon points="689.2,727.6 688.1,728.7 684.8,729.0 685.0,727.9 687.2,727.0" fill="#bcdcf5"/>
<polygon points="623.0,726.0 622.9,727.1 621.8,727.6 621.3,726.7 621.8,726.0" fill="#bcdcf5"/>
<polygon points="610.1,704.0 609.1,704.8 608.4,705.0 607.9,705.0 607.8,704.5 607.7,703.9 609.7,703.6" fill="#bcdcf5"/>
<polygon points="609.1,700.1 608.6,701.0 606.3,702.7 606.0,701.9 606.2,700.7 607.9,699.6" fill="#bcdcf5"/>
<polygon points="627.5,703.5 627.4,704.3 626.1,705.7 625.3,705.9 624.5,705.9 625.4,704.8 627.0,703.6" fill="#bcdcf5"/>
<polygon points="695.6,727.7 696.0,728.3 694.4,729.4 692.6,730.3 692.2,729.4 692.0,728.9 693.4,728.1 694.6,727.6" fill="#bcdcf5"/>
<polygon points="626.8,730.4 626.4,730.9 624.8,731.7 624.5,731.4 626.3,729.9" fill="#bcdcf5"/>
<polygon points="699.6,717.1 699.1,718.0 697.7,718.7 697.4,718.6 697.6,718.2 699.0,717.2" fill="#bcdcf5"/>
<polygon points="650.8,702.5 650.1,703.1 648.2,703.1 647.2,702.0 647.4,701.1 650.9,701.2" fill="#bcdcf5"/>
<polygon points="690.3,721.8 688.6,723.3 687.2,722.7 687.6,720.7 689.0,721.0" fill="#bcdcf5"/>
<polygon points="661.1,710.3 661.0,710.8 660.2,711.5 659.6,711.4 658.9,711.2 659.2,710.7 659.8,710.1 660.7,710.0" fill="#bcdcf5"/>
<polygon points="638.7,712.4 636.2,712.7 635.2,712.7 632.6,712.2 630.8,711.0 633.5,711.0 634.4,711.0 637.4,711.8" fill="#bcdcf5"/>
<polygon points="694.9,737.8 694.9,738.2 692.7,737.7 691.8,737.2 691.7,736.3 693.5,736.8 694.7,737.2" fill="#bcdcf5"/>
<polygon points="642.5,712.4 643.2,713.1 642.9,714.1 640.4,716.0 640.1,715.0 640.5,714.1 640.6,713.2 642.2,712.5" fill="#bcdcf5"/>
<polygon points="690.6,720.9 690.3,721.9 689.6,722.0 687.5,722.5 688.0,721.5 688.4,720.7 689.6,720.0" fill="#bcdcf5"/>
<polygon points="624.6,726.1 624.3,726.7 623.7,727.1 622.8,727.1 623.1,726.1 624.1,725.8" fill="#bcdcf5"/>
<polygon points="653.5,713.3 653.4,713.7 652.5,714.3 651.6,714.6 651.6,714.2 651.3,714.1 652.2,713.5 652.7,713.4" fill="#bcdcf5"/>
<polygon points="692.2,716.6 691.9,717.9 687.9,720.4 686.9,720.7 687.9,718.6 689.8,717.3" fill="#bcdcf5"/>
<polygon points="640.1,707.1 639.7,708.3 638.5,709.4 636.7,709.7 637.7,708.5 639.0,707.1" fill="#bcdcf5"/>
<polygon points="676.5,729.5 676.5,730.1 675.3,730.6 674.4,730.1 674.6,729.2 676.0,728.6" fill="#bcdcf5"/>
<polygon points="640.3,710.5 639.2,710.8 636.5,710.4 634.5,709.3 635.8,708.8 638.8,709.5" fill="#bcdcf5"/>
<polygon points="642.3,701.7 641.4,702.8 640.2,703.4 639.2,704.1 638.7,703.8 639.2,703.4 640.6,701.9 641.5,701.7" fill="#bcdcf5"/>
<polygon points="701.0,733.8 699.8,735.5 698.3,735.2 697.9,733.8 698.5,732.6 700.1,732.8" fill="#bcdcf5"/>
<polygon points="671.4,729.1 670.7,729.5 670.0,729.7 669.0,729.6 669.1,729.3 670.2,729.1 670.8,729.1" fill="#bcdcf5"/>
<polygon points="614.1,712.8 613.7,713.9 611.8,714.5 610.3,714.8 609.7,713.5 612.2,711.9" fill="#bcdcf5"/>
<polygon points="649.5,714.8 649.0,715.4 648.0,715.6 648.1,714.7 648.8,713.9" fill="#bcdcf5"/>
<polygon points="630.7,739.2 630.7,739.6 629.8,739.6 629.5,739.1 629.7,738.5 630.5,738.9" fill="#bcdcf5"/>
<polygon points="636.5,702.4 636.3,703.6 635.6,704.0 634.6,703.6 634.5,702.4 635.4,701.7" fill="#bcdcf5"/>
<polygon points="633.6,699.0 633.0,700.6 631.9,701.7 629.8,702.5 630.5,701.4 631.4,699.8 632.7,699.5" fill="#bcdcf5"/>
<polygon points="679.4,704.5 679.3,704.9 679.3,705.3 678.6,705.2 678.2,705.1 678.2,704.7 678.7,704.5 679.3,704.1" fill="#bcdcf5"/>
<polygon points="656.9,733.9 657.4,734.6 655.7,735.9 655.1,736.1 654.4,735.7 654.6,735.3 654.9,734.4 655.7,734.1" fill="#bcdcf5"/>
<polygon points="650.6,718.8 650.6,719.0 650.2,719.4 649.4,719.5 649.3,718.9 649.7,718.4 650.4,718.2" fill="#bcdcf5"/>
<polygon points="649.7,710.3 647.4,710.9 645.6,710.6 642.8,710.2 644.8,709.4 647.8,709.2" fill="#bcdcf5"/>
<polygon points="651.8,733.5 652.0,733.8 651.1,734.4 649.9,735.3 649.8,734.7 649.9,734.2 650.4,733.7 651.4,733.1" fill="#bcdcf5"/>
<polygon points="692.2,712.7 690.6,713.9 688.4,713.5 688.1,712.7 689.1,711.4 690.6,711.6" fill="#bcdcf5"/>
<g fill="none" stroke="#a3a3a3" stroke-width="0.7" stroke-linejoin="round">
<polyline points="286.0,645.0 279.1,649.5 276.8,660.5 278.3,671.5 282.3,681.0 280.7,688.8 285.4,699.9 289.4,712.5 293.3,721.9 295.7,734.5 294.9,747.1 296.4,759.5 301.2,768.9 307.5,778.4 316.9,787.8 326.4,797.3 335.8,806.7 345.3,813.0 354.7,817.7 361.0,824.0 365.8,828.8" stroke-width="1"/>
<polyline points="286.0,645.0 286.8,647.9 287.4,650.8 287.1,653.8 285.9,656.6 285.5,659.6 286.4,662.4 288.2,664.8 290.3,666.9 291.5,669.7 293.0,672.3"/>
<polyline points="285.5,659.6 288.0,659.2 290.3,658.4 292.5,657.1"/>
<polyline points="284.9,645.8 284.5,648.7 284.3,651.7"/>
<polyline points="284.5,648.7 286.7,649.8 289.2,650.3 291.2,651.7"/>
<polyline points="283.7,646.5 283.5,649.5 284.2,652.4 283.6,655.3 283.8,658.3 282.7,661.1 281.9,664.0 282.6,666.9 283.4,669.8"/>
<polyline points="282.6,647.2 284.6,649.5 286.9,651.4 289.5,652.8 291.6,654.9 293.7,657.1 296.2,658.8 298.7,660.4 300.8,662.5"/>
<polyline points="291.6,654.9 294.1,655.2 296.6,655.3 299.1,655.1"/>
<polyline points="281.4,648.0 283.9,649.7 286.7,650.6 288.9,652.6 291.7,653.9"/>
<polyline points="280.2,648.8 280.9,651.7 281.7,654.6 282.2,657.5 281.9,660.5 282.0,663.5 282.6,666.4 283.5,669.3"/>
<polyline points="279.1,649.5 282.0,650.2 284.9,651.0 287.9,651.2 290.9,650.9"/>
<polyline points="284.9,651.0 286.3,648.8 288.0,647.0 289.4,644.9"/>
<polyline points="278.8,650.9 281.7,650.0 284.7,649.9 287.6,649.3"/>
<polyline points="284.7,649.9 286.4,651.7 287.4,654.0 288.1,656.4"/>
<polyline points="278.5,652.2 279.9,654.9 281.0,657.7 281.2,660.7 282.6,663.4 284.1,666.0 286.4,667.9 288.0,670.4 290.0,672.6 292.1,674.7 293.0,677.6"/>
<polyline points="278.2,653.6 280.6,655.4 283.1,657.2 284.7,659.7 287.1,661.5"/>
<polyline points="278.0,655.0 280.9,654.5 283.7,653.4"/>
<polyline points="277.7,656.4 279.7,658.5 282.6,659.6 285.5,660.0 288.5,660.6 291.3,661.7 293.5,663.7 296.2,665.0 297.9,667.5 299.1,670.3"/>
<polyline points="277.4,657.8 280.3,657.2 283.1,656.0 285.5,654.2 287.9,652.4 290.6,651.1 293.1,649.4"/>
<polyline points="285.5,654.2 286.7,656.4 287.3,658.8 288.1,661.2"/>
<polyline points="277.1,659.1 279.4,661.1 281.6,663.1 284.4,664.2 286.6,666.3 287.7,669.0"/>
<polyline points="276.8,660.5 279.8,660.9 282.3,662.6 285.0,663.7 287.8,665.0 289.8,667.2"/>
<polyline points="285.0,663.7 286.4,661.6 287.8,659.6 289.5,657.7"/>
<polyline points="277.0,661.9 280.0,661.6 282.7,660.3 285.7,660.2"/>
<polyline points="282.7,660.3 282.9,657.8 283.2,655.3 283.3,652.8"/>
<polyline points="277.2,663.2 280.2,663.4 282.9,662.1 285.5,660.6 287.6,658.6 289.6,656.3 290.6,653.5"/>
<polyline points="277.4,664.6 280.2,663.7 283.2,664.2 286.2,664.0 289.1,663.4 291.6,661.8"/>
<polyline points="277.6,666.0 280.5,666.1 283.2,667.4 285.0,669.9 286.5,672.5"/>
<polyline points="277.7,667.4 280.4,668.7 283.3,669.5 285.7,671.4 287.9,673.3 290.3,675.2 291.6,677.9 292.9,680.6 294.3,683.2"/>
<polyline points="277.9,668.8 280.9,669.3 283.8,669.8 286.8,670.1 289.8,669.9 292.6,671.0 295.3,672.2 298.3,672.7 301.3,673.1"/>
<polyline points="289.8,669.9 292.1,670.8 294.6,670.9 297.0,670.3"/>
<polyline points="278.1,670.1 281.1,670.1 284.0,669.3 286.7,667.9 288.7,665.7 291.5,664.7"/>
<polyline points="286.7,667.9 288.7,669.4 290.2,671.4 291.0,673.7"/>
<polyline points="278.3,671.5 281.3,671.5 284.2,670.8 287.2,670.3 290.1,669.6 292.9,668.6 295.9,668.3"/>
<polyline points="278.9,672.9 280.5,670.3 280.7,667.3 281.8,664.5 282.7,661.7 283.7,658.9 285.4,656.3 287.3,654.1 289.2,651.7 291.9,650.4 294.4,648.7"/>
<polyline points="279.4,674.2 282.4,673.9 284.9,672.2"/>
<polyline points="280.0,675.6 282.9,674.7 285.8,673.9"/>
<polyline points="280.6,676.9 283.3,675.8 285.8,674.0"/>
<polyline points="283.3,675.8 283.8,673.3 283.2,670.8 283.1,668.3"/>
<polyline points="281.2,678.3 284.2,678.3 287.1,678.7 289.6,680.3"/>
<polyline points="281.7,679.6 282.7,676.8 284.6,674.4 285.2,671.5 285.0,668.5 284.9,665.5"/>
<polyline points="282.3,681.0 284.1,683.4 286.7,685.0 289.3,686.4 292.2,687.3 294.9,688.5"/>
<polyline points="282.0,682.3 283.9,684.6 285.4,687.2"/>
<polyline points="283.9,684.6 286.3,683.9 288.8,683.4 291.0,682.3"/>
<polyline points="281.8,683.6 284.4,685.1 287.2,686.2 290.2,686.3"/>
<polyline points="287.2,686.2 288.2,688.5 289.0,690.8 290.5,692.8"/>
<polyline points="281.5,684.9 284.5,685.3 287.4,684.6 290.3,683.9"/>
<polyline points="281.2,686.2 284.1,687.1 287.1,686.7"/>
<polyline points="281.0,687.5 284.0,687.4 286.7,688.6"/>
<polyline points="280.7,688.8 283.5,689.7 286.5,690.5 288.9,692.2 291.4,693.9 293.6,695.9 295.8,698.0"/>
<polyline points="281.2,690.0 283.8,688.4 286.7,688.1"/>
<polyline points="281.7,691.3 283.9,689.1 285.9,686.9 287.2,684.2 288.8,681.7"/>
<polyline points="285.9,686.9 288.0,688.3 290.1,689.6 292.2,691.0"/>
<polyline points="282.3,692.5 284.0,690.0 284.4,687.1"/>
<polyline points="282.8,693.7 285.7,693.0 288.2,691.4 291.1,690.5 293.8,689.2 296.4,687.7"/>
<polyline points="291.1,690.5 290.4,688.1 290.1,685.6 290.0,683.1"/>
<polyline points="283.3,695.0 286.1,693.9 288.9,692.7 291.3,691.0 294.1,689.8 297.1,689.3 299.7,687.9 301.8,685.8 304.3,684.1 307.3,683.7"/>
<polyline points="283.8,696.2 286.3,694.5 287.8,691.9 289.5,689.4 292.1,688.0 294.8,686.6"/>
<polyline points="284.4,697.4 284.8,694.5 284.5,691.5 282.9,688.9 281.1,686.5 278.5,685.2 275.5,684.5"/>
<polyline points="284.9,698.7 287.5,697.3 290.4,696.3"/>
<polyline points="287.5,697.3 286.7,694.9 285.6,692.7 283.8,691.0"/>
<polyline points="285.4,699.9 288.4,699.5 291.3,699.0 294.2,698.0"/>
<polyline points="285.8,701.2 288.7,701.9 291.1,703.7 292.3,706.5"/>
<polyline points="286.2,702.4 287.8,699.9 288.4,697.0 287.8,694.0 286.4,691.4 284.1,689.5 281.6,687.7"/>
<polyline points="286.6,703.7 289.4,702.6 292.4,702.6"/>
<polyline points="287.0,704.9 289.6,703.5 292.4,702.4"/>
<polyline points="287.4,706.2 290.4,706.3 293.3,706.9"/>
<polyline points="290.4,706.3 292.2,708.0 294.3,709.4 296.5,710.5"/>
<polyline points="287.8,707.5 290.4,705.9 293.0,704.5 294.7,702.0 295.2,699.0 294.5,696.1"/>
<polyline points="288.2,708.7 291.2,708.2 293.8,706.8 296.3,705.1 298.0,702.6 300.0,700.4"/>
<polyline points="296.3,705.1 297.8,703.1 299.6,701.3 301.5,699.7"/>
<polyline points="288.6,710.0 290.2,707.5 292.8,705.8 295.2,704.1 297.6,702.2"/>
<polyline points="289.0,711.2 291.7,710.0 293.8,707.8 296.5,706.5 299.4,705.7 301.9,704.1 303.4,701.5 305.8,699.7 307.6,697.3 309.9,695.4 311.9,693.1"/>
<polyline points="289.4,712.5 291.2,710.1 293.6,708.3"/>
<polyline points="290.0,713.8 292.6,712.3 295.5,711.8"/>
<polyline points="290.5,715.2 292.7,713.2 295.4,711.7"/>
<polyline points="291.1,716.5 292.9,714.1 294.7,711.8 296.7,709.6 298.0,706.8 298.9,704.0 299.3,701.0"/>
<polyline points="296.7,709.6 299.0,710.7 301.2,711.8 303.4,713.1"/>
<polyline points="291.6,717.9 294.6,717.7 297.2,716.2 299.2,713.9 301.0,711.5 303.6,710.1 305.3,707.6 307.6,705.7 309.3,703.2"/>
<polyline points="301.0,711.5 301.5,709.1 301.7,706.6 302.1,704.1"/>
<polyline points="292.2,719.2 294.9,720.4 297.9,720.8 300.8,719.8 303.0,717.8"/>
<polyline points="292.7,720.6 295.3,719.0 297.3,716.7 299.3,714.5 302.0,713.2 304.3,711.3 307.2,710.6 310.1,710.0 313.0,709.2 315.1,707.1 317.0,704.7"/>
<polyline points="304.3,711.3 305.1,708.9 306.1,706.6 306.9,704.2"/>
<polyline points="293.3,721.9 295.0,719.4 295.5,716.4 295.4,713.4 296.3,710.6 297.9,708.0"/>
<polyline points="295.4,713.4 294.5,711.1 293.3,708.9 291.7,707.1"/>
<polyline points="293.6,723.3 296.5,724.1 299.4,724.6 302.4,724.9 305.4,725.3 308.0,726.8 310.8,727.8 313.8,728.1 316.7,728.8"/>
<polyline points="293.8,724.7 296.4,723.1 298.8,721.3 300.9,719.2 302.0,716.4 303.8,714.0 305.2,711.4 305.4,708.4 306.9,705.7"/>
<polyline points="302.0,716.4 301.7,713.9 302.2,711.4 302.9,709.0"/>
<polyline points="294.1,726.1 296.3,728.1 299.2,728.9 301.9,730.1 304.9,730.2 307.9,729.8"/>
<polyline points="294.4,727.5 297.1,728.6 299.2,730.8"/>
<polyline points="294.6,728.9 297.5,728.0 300.1,726.5 302.2,724.3"/>
<polyline points="294.9,730.3 297.7,731.4 300.7,731.3 303.7,731.6"/>
<polyline points="295.2,731.7 298.2,731.9 300.8,733.3"/>
<polyline points="295.4,733.1 298.1,731.8 300.7,730.2"/>
<polyline points="298.1,731.8 300.6,732.2 302.9,733.1 305.4,733.1"/>
<polyline points="295.7,734.5 297.5,732.1 299.1,729.5 300.0,726.7 301.3,724.0 301.4,721.0 300.8,718.1 299.1,715.6"/>
<polyline points="295.6,735.9 297.9,737.8 300.8,738.8"/>
<polyline points="297.9,737.8 300.3,737.2 302.3,735.6 303.9,733.7"/>
<polyline points="295.5,737.3 298.4,736.4 301.4,736.4"/>
<polyline points="298.4,736.4 300.5,735.1 302.8,734.1 305.3,733.6"/>
<polyline points="295.4,738.7 298.4,738.6 301.4,738.7 304.1,740.0 306.6,741.7 308.8,743.7 311.7,744.5 314.7,743.9 317.7,744.1 320.7,744.0"/>
<polyline points="295.3,740.1 297.2,742.5 299.7,744.1 301.7,746.3"/>
<polyline points="295.3,741.5 298.1,742.6 301.0,743.2 303.9,742.4"/>
<polyline points="295.2,742.9 297.2,745.1 298.2,747.9"/>
<polyline points="297.2,745.1 299.6,744.5 302.0,743.8 304.3,742.8"/>
<polyline points="295.1,744.3 297.8,743.0 299.9,740.8 301.9,738.6 303.3,735.9 305.3,733.7 307.0,731.3 309.4,729.4"/>
<polyline points="303.3,735.9 304.5,733.8 304.9,731.3 305.2,728.8"/>
<polyline points="295.0,745.7 297.9,746.5 300.9,746.1 303.4,744.5"/>
<polyline points="300.9,746.1 303.2,747.1 305.5,748.0 307.6,749.3"/>
<polyline points="294.9,747.1 296.3,744.5 297.2,741.6 298.9,739.1 300.0,736.3 301.5,733.7 303.9,731.9 306.7,730.9"/>
<polyline points="295.1,748.5 298.0,748.0 301.0,748.1 303.7,749.4 305.5,751.8 306.0,754.8 307.0,757.6 308.9,759.9 309.7,762.8 311.6,765.2 313.6,767.4"/>
<polyline points="295.2,749.9 298.2,749.2 301.0,748.4 303.9,747.4 306.0,745.2 306.9,742.4 307.9,739.6"/>
<polyline points="295.4,751.2 298.3,750.4 300.9,748.8 303.0,746.8"/>
<polyline points="295.6,752.6 298.5,752.3 301.5,752.8 304.3,753.9 307.0,755.2 309.0,757.5 309.9,760.3"/>
<polyline points="295.7,754.0 298.4,752.6 300.2,750.2"/>
<polyline points="295.9,755.4 298.8,754.7 301.8,754.2 304.7,753.5"/>
<polyline points="296.1,756.7 298.7,755.4 300.6,753.0 302.3,750.6 304.4,748.4 307.2,747.2 310.1,746.7 312.6,744.9 315.2,743.5 318.2,743.2"/>
<polyline points="307.2,747.2 309.2,748.7 311.4,749.9 313.9,750.0"/>
<polyline points="296.2,758.1 299.0,759.3 301.0,761.5"/>
<polyline points="296.4,759.5 299.2,758.4 302.1,757.6 305.0,757.2 307.8,755.9 309.8,753.8 311.9,751.6 314.3,749.8 316.7,747.9 319.1,746.2 322.1,745.6"/>
<polyline points="309.8,753.8 311.8,755.2 313.9,756.7 315.2,758.8"/>
<polyline points="297.0,760.7 299.6,759.2 301.8,757.1 303.1,754.4"/>
<polyline points="301.8,757.1 304.2,757.9 306.6,758.7 308.9,759.4"/>
<polyline points="297.6,761.9 300.4,760.8 302.6,758.8"/>
<polyline points="298.2,763.0 301.0,762.1 303.7,760.7"/>
<polyline points="298.8,764.2 300.9,762.0 302.7,759.7 305.3,758.1 307.0,755.6 308.1,752.9 308.4,749.9"/>
<polyline points="299.4,765.4 302.0,764.0 304.6,762.3 307.5,761.9 310.5,761.7 313.5,761.8"/>
<polyline points="300.0,766.5 302.7,765.2 304.7,763.0"/>
<polyline points="300.6,767.7 301.6,764.9 302.4,762.0 304.1,759.5 304.5,756.5 305.9,753.9"/>
<polyline points="301.2,768.9 302.6,766.3 303.1,763.3 302.2,760.4 302.6,757.5 302.9,754.5 303.0,751.5"/>
<polyline points="302.0,770.1 304.6,768.6 307.0,766.8 309.8,765.6"/>
<polyline points="307.0,766.8 307.4,764.4 308.6,762.2 310.3,760.3"/>
<polyline points="302.8,771.3 305.0,769.3 307.5,767.6 310.4,766.9 313.0,765.3 315.7,764.2 317.9,762.1 320.2,760.2 322.0,757.7"/>
<polyline points="303.6,772.5 304.8,769.7 306.0,767.0 308.1,764.8"/>
<polyline points="304.4,773.6 306.2,771.3 307.8,768.7 309.2,766.1 311.6,764.3 313.3,761.9"/>
<polyline points="305.1,774.8 308.1,775.5 311.0,776.0"/>
<polyline points="308.1,775.5 310.2,776.8 312.0,778.5 313.9,780.2"/>
<polyline points="305.9,776.0 308.9,775.6 311.9,775.3 314.9,775.0 317.8,774.5 320.7,773.7 323.3,772.1"/>
<polyline points="314.9,775.0 316.2,772.9 317.0,770.5 317.1,768.0"/>
<polyline points="306.7,777.2 309.4,776.0 311.7,774.0 313.5,771.6 314.0,768.7"/>
<polyline points="307.5,778.4 309.2,776.0 309.9,773.0 310.7,770.1 311.7,767.3 313.4,764.9"/>
<polyline points="308.4,779.3 310.3,777.0 310.8,774.0 312.1,771.3 312.2,768.3 312.2,765.3"/>
<polyline points="309.4,780.3 312.4,780.0 315.4,780.1 318.2,781.2 320.8,782.5 323.1,784.5"/>
<polyline points="310.3,781.2 313.3,780.8 316.3,780.9"/>
<polyline points="313.3,780.8 315.4,782.2 317.7,783.0 320.2,783.6"/>
<polyline points="311.3,782.2 310.7,779.2 311.4,776.3 313.2,773.9"/>
<polyline points="312.2,783.1 312.7,780.1 313.2,777.2"/>
<polyline points="312.7,780.1 315.2,780.0 317.6,780.5 319.7,781.8"/>
<polyline points="313.1,784.0 316.1,783.6 319.1,783.9 322.0,783.3 325.0,782.9 328.0,783.2 330.7,784.5 333.7,784.6 336.5,785.5"/>
<polyline points="314.1,785.0 315.4,782.3 315.7,779.3"/>
<polyline points="315.0,785.9 318.0,785.8 320.9,786.7 323.9,787.0 326.4,788.6 329.4,789.0 332.3,788.3"/>
<polyline points="323.9,787.0 324.7,784.7 325.3,782.3 326.7,780.1"/>
<polyline points="316.0,786.9 317.0,784.1 317.8,781.2 318.8,778.3 320.9,776.2 321.8,773.4 322.7,770.5"/>
<polyline points="318.8,778.3 318.2,775.9 317.6,773.4 316.3,771.3"/>
<polyline points="316.9,787.8 319.1,785.8 321.9,784.6"/>
<polyline points="317.8,788.8 320.0,786.6 322.7,785.4"/>
<polyline points="318.8,789.7 318.4,786.7 317.3,783.9 316.1,781.2 313.8,779.2 312.0,776.8 309.6,775.0"/>
<polyline points="316.1,781.2 314.6,779.2 312.6,777.7 310.4,776.5"/>
<polyline points="319.8,790.6 322.3,789.1 324.7,787.2 326.1,784.6 327.0,781.7 328.9,779.4"/>
<polyline points="320.7,791.6 320.3,788.6 319.3,785.8 317.6,783.3 316.8,780.4 316.0,777.5 314.8,774.8 313.6,772.0 313.4,769.0 313.5,766.0 313.3,763.0"/>
<polyline points="321.6,792.5 323.7,790.4 324.6,787.5 326.3,785.0 327.8,782.4"/>
<polyline points="322.6,793.5 322.1,790.5 322.4,787.6 323.9,784.9 324.1,781.9 323.1,779.1 322.5,776.2"/>
<polyline points="323.9,784.9 321.7,783.7 319.6,782.5 317.1,781.9"/>
<polyline points="323.5,794.4 325.4,792.1 328.0,790.5 329.9,788.2 331.7,785.9 333.2,783.2"/>
<polyline points="324.5,795.4 326.4,793.1 328.0,790.5 330.4,788.7 333.4,788.3 336.0,786.8 338.9,786.0 341.9,785.9 344.9,785.7 347.7,784.8"/>
<polyline points="336.0,786.8 337.7,785.0 339.6,783.4 341.3,781.6"/>
<polyline points="325.4,796.3 325.9,793.4 324.9,790.5"/>
<polyline points="326.4,797.3 327.9,794.7 328.4,791.8 329.0,788.8 328.4,785.9 327.3,783.1 325.8,780.5 325.3,777.5 323.5,775.1"/>
<polyline points="328.4,785.9 328.2,783.4 328.1,780.9 327.1,778.6"/>
<polyline points="327.3,798.2 327.1,795.3 327.4,792.3 328.5,789.5 328.5,786.5 329.0,783.5 328.4,780.6"/>
<polyline points="328.3,799.2 331.1,798.3 333.7,796.7 335.6,794.3 336.9,791.6 336.9,788.6 336.0,785.8"/>
<polyline points="329.2,800.1 331.7,798.5 334.6,797.5"/>
<polyline points="330.2,801.1 332.8,799.6 334.4,797.0"/>
<polyline points="332.8,799.6 333.5,797.2 333.9,794.7 333.8,792.2"/>
<polyline points="331.1,802.0 333.6,800.3 335.8,798.3 337.4,795.8 338.3,792.9 340.1,790.5"/>
<polyline points="332.0,802.9 334.2,800.8 335.3,798.0"/>
<polyline points="334.2,800.8 336.6,801.3 339.0,801.9 341.5,802.1"/>
<polyline points="333.0,803.9 335.8,802.9 338.8,802.8 341.8,803.1 344.7,802.5 347.6,801.8"/>
<polyline points="333.9,804.8 334.0,801.8 334.9,798.9 335.2,796.0 335.5,793.0 335.9,790.0 337.2,787.3 338.0,784.4 338.9,781.6 340.2,778.8"/>
<polyline points="334.9,805.8 335.9,803.0 336.1,800.0 336.4,797.0 337.1,794.1 338.4,791.4 340.1,788.9 342.5,787.1 345.4,786.4"/>
<polyline points="337.1,794.1 335.6,792.0 334.5,789.8 333.1,787.7"/>
<polyline points="335.8,806.7 338.6,805.5 340.5,803.2"/>
<polyline points="338.6,805.5 340.6,807.0 342.8,808.2 344.6,809.9"/>
<polyline points="337.0,807.5 338.3,804.8 340.7,803.0 342.0,800.3 344.5,798.5 346.8,796.6 349.2,794.8 351.0,792.4"/>
<polyline points="338.2,808.3 339.4,805.5 339.7,802.6 339.6,799.6 340.5,796.7 342.3,794.3 344.9,792.9 347.6,791.6"/>
<polyline points="339.4,809.1 341.6,807.0 344.2,805.6 347.1,804.8 350.0,804.0 352.9,804.5 355.9,804.8 358.9,805.3"/>
<polyline points="340.6,809.9 342.0,807.2 343.5,804.6 345.7,802.6 348.4,801.4 350.7,799.4 352.8,797.3 355.2,795.5"/>
<polyline points="341.7,810.6 344.5,809.5 346.8,807.5 348.1,804.8 348.1,801.8 348.9,798.9 349.6,796.0"/>
<polyline points="342.9,811.4 344.6,809.0 346.3,806.5"/>
<polyline points="344.1,812.2 346.9,811.0 349.1,809.1 351.5,807.2 353.4,804.9 356.1,803.6 358.4,801.7 361.0,800.2"/>
<polyline points="345.3,813.0 344.2,810.2 342.7,807.6 340.1,806.0 337.2,805.5 334.2,806.1 331.4,807.2"/>
<polyline points="346.5,813.6 349.2,812.3 351.5,810.5 353.9,808.7 356.5,807.2 358.2,804.7 360.3,802.5"/>
<polyline points="347.6,814.2 346.8,811.3 347.3,808.3"/>
<polyline points="346.8,811.3 348.5,809.4 349.4,807.1 351.0,805.1"/>
<polyline points="348.8,814.8 349.7,811.9 350.5,809.0 352.4,806.7"/>
<polyline points="350.0,815.4 349.7,812.4 350.8,809.6 350.5,806.6"/>
<polyline points="351.2,815.9 352.7,813.4 354.1,810.7 354.3,807.7"/>
<polyline points="354.1,810.7 356.5,811.0 358.9,811.7 361.2,812.8"/>
<polyline points="352.4,816.5 354.1,814.1 355.6,811.5"/>
<polyline points="353.5,817.1 353.9,814.1 355.3,811.5 356.6,808.8 356.7,805.8 355.6,803.0 355.6,800.0"/>
<polyline points="354.7,817.7 356.5,815.3 357.2,812.4"/>
<polyline points="355.8,818.8 358.7,818.6 361.7,818.3"/>
<polyline points="358.7,818.6 360.7,820.1 362.2,822.1 363.8,824.1"/>
<polyline points="356.8,819.8 358.9,817.7 360.7,815.2"/>
<polyline points="357.9,820.9 360.8,820.4 363.7,819.6 366.4,818.2 369.1,816.8 372.0,816.2 374.8,815.2"/>
<polyline points="358.9,821.9 361.7,820.8 364.7,821.0 367.6,821.4 370.4,822.7"/>
<polyline points="359.9,823.0 360.1,820.0 360.4,817.0 361.7,814.3 363.5,811.9 364.3,809.0 366.3,806.8"/>
<polyline points="361.0,824.0 362.4,821.3 363.6,818.6"/>
<polyline points="362.4,821.3 364.9,821.3 367.3,820.5 369.8,820.5"/>
<polyline points="362.0,825.0 364.9,824.4 367.8,825.2 370.8,824.8 373.4,823.4 375.8,821.6 378.5,820.3"/>
<polyline points="362.9,825.9 365.0,823.7 367.3,821.8 369.7,820.1 372.6,819.1"/>
<polyline points="363.9,826.9 365.1,824.2 366.9,821.7 369.2,819.9 372.1,818.9 375.1,819.0"/>
<polyline points="364.8,827.8 367.5,826.5 370.5,826.7 373.4,825.9 376.4,825.3 379.4,825.1"/>
<polyline points="373.4,825.9 374.8,823.8 376.6,822.0 377.7,819.8"/>
</g>
<g fill="none" stroke="#a3a3a3" stroke-width="0.7" stroke-linejoin="round">
<polyline points="282.3,756.3 284.8,756.4 287.2,757.2"/>
<polyline points="283.0,757.7 284.6,755.8 287.0,754.9"/>
<polyline points="283.6,759.0 286.1,758.5 288.6,758.4"/>
<polyline points="284.3,760.4 285.4,758.1 286.6,755.9"/>
<polyline points="285.0,761.7 287.4,761.2 289.9,761.5 291.9,763.0"/>
<polyline points="285.7,763.1 287.9,761.9 289.9,760.4"/>
<polyline points="286.3,764.4 288.5,763.2 291.0,763.0"/>
<polyline points="287.0,765.8 289.4,765.0 291.8,764.4"/>
<polyline points="287.7,767.4 289.6,765.8 291.9,764.7"/>
<polyline points="288.3,768.9 290.8,768.3 293.3,768.2"/>
<polyline points="289.0,770.5 291.3,769.4 293.7,768.9"/>
<polyline points="289.7,772.1 291.8,770.8 293.6,769.0"/>
<polyline points="290.4,773.7 292.3,772.0 294.3,770.6"/>
<polyline points="291.0,775.2 293.3,776.2 295.7,777.1"/>
<polyline points="291.7,776.8 293.7,775.3 295.8,773.9"/>
<polyline points="292.4,778.2 294.8,777.6 297.3,777.1 299.8,776.9"/>
<polyline points="293.1,779.6 295.2,778.3 297.6,777.4"/>
<polyline points="293.8,781.0 295.3,779.0 296.5,776.8"/>
<polyline points="294.5,782.4 296.9,781.8 299.4,781.9"/>
<polyline points="295.2,783.8 297.5,782.8 299.9,782.2"/>
<polyline points="295.9,785.2 297.2,783.1 298.6,781.0 300.6,779.5"/>
<polyline points="296.6,786.6 299.0,787.3 301.4,788.1"/>
<polyline points="297.3,788.0 299.7,788.6 302.1,789.4"/>
<polyline points="298.0,789.4 300.5,789.3 302.8,788.3"/>
<polyline points="298.8,790.8 301.3,790.9 303.7,790.1"/>
<polyline points="299.6,792.1 301.1,790.2 303.2,788.7 304.9,786.9"/>
<polyline points="300.4,793.5 302.7,792.7 304.7,791.2"/>
<polyline points="301.1,794.9 303.6,795.3 306.1,795.0 308.6,795.4"/>
<polyline points="301.9,796.3 304.3,795.5 306.8,795.0"/>
<polyline points="302.7,797.6 305.1,796.9 307.1,795.4"/>
<polyline points="303.5,799.0 305.1,797.1 306.5,795.0"/>
<polyline points="304.3,800.4 304.7,797.9 305.1,795.5"/>
<polyline points="305.4,801.6 307.6,800.6 309.9,799.6"/>
<polyline points="306.4,802.8 308.8,802.3 311.3,801.9"/>
<polyline points="307.5,804.1 309.4,802.4 311.7,801.6"/>
<polyline points="308.5,805.3 311.0,805.5 313.5,806.0"/>
<polyline points="309.6,806.5 311.9,805.5 313.6,803.7"/>
<polyline points="310.6,807.7 312.9,806.7 314.9,805.2"/>
<polyline points="311.7,809.0 313.2,807.0 314.1,804.6 316.0,803.0"/>
<polyline points="312.7,810.2 315.0,809.1 317.4,808.6"/>
<polyline points="313.8,811.4 315.8,809.9 317.4,807.9"/>
<polyline points="314.8,812.6 316.5,810.7 318.2,808.9"/>
<polyline points="315.9,813.9 316.9,811.6 318.8,809.9 320.2,807.9"/>
<polyline points="316.9,815.1 318.1,812.9 320.2,811.5"/>
<polyline points="318.0,816.3 320.3,815.4 322.7,814.9 324.9,813.7"/>
<polyline points="319.0,817.6 320.3,815.4 321.2,813.1"/>
<polyline points="320.1,818.8 321.2,816.6 321.9,814.2"/>
<polyline points="321.1,820.0 321.6,817.6 321.9,815.1"/>
<polyline points="322.2,821.3 322.4,818.8 323.4,816.5"/>
<polyline points="323.2,822.5 325.2,821.0 327.7,820.6 329.9,819.4"/>
<polyline points="324.4,823.7 326.9,823.9 329.4,824.1"/>
<polyline points="325.6,824.9 327.8,823.7 329.8,822.2"/>
<polyline points="326.8,826.0 329.1,825.0 330.7,823.1"/>
<polyline points="327.9,827.2 328.9,824.9 330.0,822.6"/>
<polyline points="329.1,828.4 330.5,826.3 332.7,825.0"/>
<polyline points="330.3,829.5 332.6,828.4 335.1,828.5"/>
<polyline points="331.5,830.7 333.8,829.6 336.3,829.6"/>
<polyline points="332.7,831.9 333.7,829.6 335.1,827.6"/>
<polyline points="334.1,832.8 336.3,831.5 338.8,831.5 341.0,832.5"/>
<polyline points="335.5,833.7 335.1,831.2 335.6,828.7"/>
<polyline points="336.9,834.5 337.5,832.1 337.4,829.6"/>
<polyline points="338.3,835.4 339.2,833.1 339.3,830.6"/>
<polyline points="339.7,836.3 339.2,833.8 339.5,831.4"/>
<polyline points="341.1,837.2 343.2,835.7 345.5,834.8 347.5,833.4"/>
<polyline points="342.5,838.0 343.4,835.7 345.1,833.9"/>
<polyline points="343.9,838.9 345.3,836.9 345.8,834.4 345.6,831.9"/>
<polyline points="345.3,839.8 346.0,837.4 346.1,834.9 346.0,832.4"/>
<polyline points="346.9,840.6 348.7,838.9 350.8,837.5"/>
<polyline points="348.5,841.4 349.0,839.0 348.7,836.5"/>
<polyline points="350.0,842.2 351.2,840.0 353.1,838.4"/>
</g>
<g fill="#f4f4f0" stroke="#a8a8a8" stroke-width="0.6">
<ellipse cx="355.1" cy="820.9" rx="2.3" ry="0.9"/>
<ellipse cx="280.7" cy="645.0" rx="1.1" ry="1.0"/>
<ellipse cx="270.7" cy="659.1" rx="1.2" ry="1.2"/>
<ellipse cx="344.2" cy="810.3" rx="1.0" ry="1.4"/>
<ellipse cx="288.4" cy="758.5" rx="1.7" ry="1.2"/>
<ellipse cx="290.4" cy="719.9" rx="2.4" ry="0.7"/>
<ellipse cx="277.6" cy="688.7" rx="1.6" ry="0.8"/>
<ellipse cx="276.4" cy="689.0" rx="2.3" ry="0.8"/>
<ellipse cx="290.7" cy="755.5" rx="1.3" ry="1.5"/>
<ellipse cx="295.2" cy="772.7" rx="1.8" ry="1.4"/>
<ellipse cx="283.9" cy="644.5" rx="2.0" ry="0.8"/>
<ellipse cx="270.1" cy="660.1" rx="1.4" ry="0.8"/>
<ellipse cx="338.7" cy="816.9" rx="2.1" ry="1.3"/>
<ellipse cx="314.4" cy="789.3" rx="1.4" ry="1.1"/>
<ellipse cx="352.5" cy="821.3" rx="2.0" ry="1.5"/>
<ellipse cx="280.6" cy="677.7" rx="1.2" ry="1.5"/>
<ellipse cx="286.5" cy="714.6" rx="2.1" ry="1.3"/>
<ellipse cx="300.0" cy="775.0" rx="2.2" ry="0.9"/>
<ellipse cx="284.6" cy="716.2" rx="2.2" ry="0.7"/>
<ellipse cx="289.5" cy="725.0" rx="2.4" ry="0.7"/>
<ellipse cx="341.3" cy="812.7" rx="1.7" ry="1.5"/>
<ellipse cx="323.4" cy="799.7" rx="1.5" ry="0.8"/>
<ellipse cx="289.3" cy="744.9" rx="2.3" ry="1.1"/>
<ellipse cx="267.9" cy="659.1" rx="1.7" ry="1.1"/>
<ellipse cx="293.6" cy="732.6" rx="2.0" ry="1.0"/>
<ellipse cx="289.9" cy="760.4" rx="1.4" ry="1.3"/>
<ellipse cx="299.1" cy="770.2" rx="1.8" ry="1.5"/>
<ellipse cx="279.6" cy="687.3" rx="1.0" ry="1.6"/>
<ellipse cx="290.6" cy="745.0" rx="2.3" ry="1.5"/>
<ellipse cx="283.9" cy="716.1" rx="2.5" ry="1.1"/>
<ellipse cx="294.8" cy="771.4" rx="2.0" ry="1.1"/>
<ellipse cx="299.2" cy="782.1" rx="1.9" ry="0.9"/>
<ellipse cx="351.0" cy="820.7" rx="1.5" ry="1.3"/>
<ellipse cx="279.4" cy="647.0" rx="1.4" ry="0.8"/>
<ellipse cx="292.3" cy="762.5" rx="1.1" ry="1.5"/>
<ellipse cx="315.2" cy="784.0" rx="1.8" ry="0.7"/>
<ellipse cx="275.4" cy="651.3" rx="1.6" ry="1.2"/>
<ellipse cx="330.1" cy="805.9" rx="2.3" ry="1.4"/>
<ellipse cx="286.4" cy="718.7" rx="1.1" ry="1.4"/>
<ellipse cx="332.0" cy="802.9" rx="1.2" ry="1.2"/>
</g>
<polyline points="286,494 320,508 356.6,523.6 400,538 440,549 468.9,556.2 527.3,565.9 597.4,572.7 640,574.5 723,571" fill="none" stroke="#9c9c9c" stroke-width="1"/>
<polyline points="468.9,556.2 439,700 437,721 447,743 460,762 470,775 480,790 490,810 497,825 502,836" fill="none" stroke="#9c9c9c" stroke-width="0.9"/>
<polyline points="597.4,572.7 585.5,857" fill="none" stroke="#9c9c9c" stroke-width="0.9"/>
<polyline points="696.8,492.5 719,857" fill="none" stroke="#9c9c9c" stroke-width="0.9"/>
<polyline points="839,716 822.5,746 832.5,830 834,857" fill="none" stroke="#9c9c9c" stroke-width="0.9"/>
<polyline points="389.9,492 390.2,497 389.2,502 389.5,508 391,512 394,512.5 396,514.5 399,514 402,515.5 405,515 408,516 411,515.5 414,516 417.5,517.5 417.8,522 418.5,527 418,532 419,537 419.3,543" fill="none" stroke="#9c9c9c" stroke-width="0.8"/>
<polygon points="415.5,570 416.5,566 418,564 419.5,564.5 420.5,567 422.5,569 424.5,570.5 425,573.5 423,576.5 419,577 416.5,576 415,573" fill="#fbfbf8" stroke="#808080" stroke-width="0.9"/>
<polygon points="431.0,645.4 453.0,647.0 457.7,654.1 464.1,654.1 468.8,649.3 475.1,649.3 478.2,639.9 484.5,632.0 490.8,627.3 495.6,625.7 495.6,646.2 494.0,655.6 494.8,668.2 490.8,674.5 481.4,680.8 475.9,687.1 475.1,693.4 471.9,695.8 468.8,690.3 459.3,688.7 443.6,688.7 440.4,684.0 438.8,674.5 434.1,671.4 430.2,668.2" fill="#a2d99a" stroke="none" stroke-width="0" />
<polygon points="459.3,680.8 470.4,677.7 475.1,680.8 475.1,693.4 471.9,695.8 468.8,690.3 459.3,688.7" fill="#fdf9c6" stroke="none" stroke-width="0" />
<polygon points="457.7,654.1 464.1,654.1 463.3,659.6 458.5,659.6" fill="#f8f8f3" stroke="none" stroke-width="0" />
<polygon points="415.2,644.6 431.0,645.4 430.2,668.2 426.2,669.8 421.5,665.1 405.8,664.3 405.0,661.1 416.8,655.6 416.0,649.3" fill="#1f9a4a" stroke="none" stroke-width="0" />
<polygon points="497.1,595.8 500.3,595.0 501.1,617.8 498.7,618.6 497.1,611.5" fill="#a2d99a" stroke="none" stroke-width="0" />
<polygon points="500.3,602.1 527.1,602.1 525.5,609.9 520.8,613.1 514.5,613.9 506.6,617.8 501.9,617.8 501.1,609.9" fill="#1f9a4a" stroke="none" stroke-width="0" />
<polygon points="516.0,682.4 527.1,679.3 541.3,680.8 547.6,687.1 547.6,700.1 523.9,700.1 516.0,693.4" fill="#a2d99a" stroke="none" stroke-width="0" />
<polyline points="413.6,644.6 412.8,632.0 413.6,621.0 421.5,617.8 431.0,618.6 437.3,622.5 442.0,628.8 446.7,635.1 449.9,639.9 456.2,639.9 462.5,643.0 468.8,644.6 471.9,647.7 475.1,649.3" fill="none" stroke="#8a8a8a" stroke-width="1.1" stroke-linejoin="round" />
<polyline points="495.6,625.7 498.7,632.0 503.4,633.6 505.0,627.3 503.4,621.0 501.1,617.8" fill="none" stroke="#8a8a8a" stroke-width="1" stroke-linejoin="round" />
<polyline points="501.1,617.8 495.6,613.1 487.7,613.9 483.0,618.6 486.1,624.1 490.8,626.5" fill="none" stroke="#8a8a8a" stroke-width="1" stroke-linejoin="round" />
<polyline points="500.3,594.2 492.4,595.8 487.7,602.1 488.5,608.4 494.0,613.1" fill="none" stroke="#8a8a8a" stroke-width="1" stroke-linejoin="round" />
<polyline points="494.0,668.2 500.3,668.2 506.6,671.4 511.3,677.7 516.0,682.4" fill="none" stroke="#8a8a8a" stroke-width="1" stroke-linejoin="round" />
<polyline points="527.1,679.3 528.6,671.4 536.5,666.7 542.8,668.2 546.0,674.5 547.6,680.8 550.7,687.1" fill="none" stroke="#8a8a8a" stroke-width="1" stroke-linejoin="round" />
<polygon points="345.3,679.4 354.7,677.0 359.5,685.7 367.3,684.1 372.1,681.0 378.4,681.0 383.1,687.3 383.1,693.6 376.8,699.9 368.9,701.4 364.2,703.0 357.9,707.7 353.2,704.6 348.4,699.9 345.3,690.4" fill="#a2d99a" stroke="none" stroke-width="0" />
<polygon points="354.7,692.8 364.2,693.6 363.4,697.5 356.3,697.0" fill="#f8f8f3" stroke="none" stroke-width="0" />
<polyline points="323.2,647.9 332.7,643.2 339.0,646.3 337.4,655.8 345.3,665.2 350.0,674.7 345.3,679.4 343.7,690.4 348.4,699.9 354.7,707.7 359.5,707.7" fill="none" stroke="#8a8a8a" stroke-width="1" stroke-linejoin="round" />
<polyline points="323.2,647.9 329.5,655.8 334.3,668.4 335.8,681.0 337.4,690.4" fill="none" stroke="#8a8a8a" stroke-width="0.8" stroke-linejoin="round" />
<polygon points="361.0,740.8 372.1,740.8 373.6,747.1 370.5,750.3 362.6,750.3" fill="#a2d99a" stroke="none" stroke-width="0" />
<polygon points="370.5,747.1 386.3,747.1 387.0,756.6 376.8,757.4 370.5,753.4" fill="#fdf9c6" stroke="none" stroke-width="0" />
<polygon points="385.5,745.6 397.3,747.1 397.3,760.1 386.3,760.1" fill="#a2d99a" stroke="none" stroke-width="0" />
<polyline points="345.3,740.8 354.7,740.8 361.0,740.8" fill="none" stroke="#8a8a8a" stroke-width="1" stroke-linejoin="round" />
<polyline points="345.3,740.8 348.4,750.3 354.7,756.6 359.5,760.1" fill="none" stroke="#8a8a8a" stroke-width="1" stroke-linejoin="round" />
<polyline points="372.1,714.1 370.5,723.5 373.6,733.0 383.1,736.1" fill="none" stroke="#8a8a8a" stroke-width="1" stroke-linejoin="round" />
<polygon points="373.8,713.2 377.7,712.7 376.4,735.1 373.8,730.7" fill="#a2d99a" stroke="none" stroke-width="0" />
<polygon points="386.5,707.5 390.4,704.8 398.3,705.7 402.7,711.0 401.8,716.7 402.3,724.6 401.8,730.7 403.6,735.1 402.7,738.2 390.4,739.0 383.4,737.3 377.3,734.2 374.6,726.3 373.8,717.5 377.7,713.2 380.8,708.8" fill="#1f9a4a" stroke="none" stroke-width="0" />
<polygon points="386.9,715.4 390.4,711.4 396.1,711.8 398.3,716.7 398.8,722.8 397.4,726.3 394.8,728.5 393.9,732.9 390.9,733.8 386.9,729.8 385.2,726.3 386.0,719.7" fill="#5053e6" stroke="none" stroke-width="0" />
<polygon points="400.0,790.5 409.5,788.9 429.9,790.5 431.5,801.5 426.8,806.2 411.0,807.8 400.0,804.7" fill="#a2d99a" stroke="none" stroke-width="0" />
<polygon points="399,790 402,788 402,805 399,804.7" fill="#a2d99a" stroke="none" stroke-width="0" />
<polygon points="404.7,815.7 418.9,812.5 436.2,815.7 445.7,822.0 447.3,839.3 439.4,842.5 422.1,837.7 406.3,833.0" fill="#a2d99a" stroke="none" stroke-width="0" />
<polyline points="400.0,785.8 409.5,784.2 431.5,785.8 441.0,790.5 447.3,801.5 448.8,814.1 447.3,822.0" fill="none" stroke="#8a8a8a" stroke-width="1" stroke-linejoin="round" />
<polyline points="450.4,788.9 453.6,798.4 455.1,811.0 452.0,817.3" fill="none" stroke="#8a8a8a" stroke-width="1" stroke-linejoin="round" />
<polyline points="466.2,811.0 469.3,817.3 467.7,825.1" fill="none" stroke="#8a8a8a" stroke-width="1" stroke-linejoin="round" />
<polyline points="500.8,788.9 504.0,801.5 502.4,814.1 500.8,826.7 502.4,836.2" fill="none" stroke="#8a8a8a" stroke-width="1" stroke-linejoin="round" />
<polyline points="318.5,778.4 323.2,781.5 326.4,787.8 323.2,791.0" fill="none" stroke="#8a8a8a" stroke-width="0.9" stroke-linejoin="round" />
<polyline points="367.3,786.2 372.1,789.4 373.6,795.7 370.5,797.3" fill="none" stroke="#8a8a8a" stroke-width="0.9" stroke-linejoin="round" />
<polyline points="383.1,783.1 392.6,781.5 398.9,791.0 402.0,803.6" fill="none" stroke="#8a8a8a" stroke-width="0.9" stroke-linejoin="round" />
<polyline points="361.0,803.6 367.3,802.0 372.1,809.9 376.8,816.2 386.3,819.3 392.6,822.5 405.0,824.1" fill="none" stroke="#8a8a8a" stroke-width="0.9" stroke-linejoin="round" />
<polyline points="466.2,780.8 472.5,790.3 478.8,800.1" fill="none" stroke="#8a8a8a" stroke-width="1" stroke-linejoin="round" />
<polygon points="345.0,741.7 351.7,740.0 360.0,743.4 363.4,740.0 373.4,741.7 380.1,745.0 388.4,748.4 400.1,748.4 408.4,751.7 413.4,758.4 420.1,761.7 426.8,763.4 433.4,768.4 431.8,775.1 423.4,775.1 418.4,778.4 410.1,775.1 403.4,776.7 396.7,778.4 391.7,780.1 385.1,770.1 383.4,763.4 380.1,766.7 376.7,763.4 363.4,758.4 356.7,760.1 351.7,755.1 346.7,748.4" fill="#fbfbf8" stroke="#8a8a8a" stroke-width="0.9" stroke-linejoin="round"/>
<polygon points="408.4,703.3 416.8,706.7 430.1,720.0 443.4,736.7 446.8,743.4 443.4,746.7 438.4,741.7 426.8,726.7 413.4,710.0 408.4,705.0" fill="none" stroke="#8a8a8a" stroke-width="0.9" stroke-linejoin="round"/>
<polyline points="436.8,700.0 440.1,720.0 456.8,743.4 463.5,755.1 476.8,776.7 486.8,793.4 496.8,803.4" fill="none" stroke="#8a8a8a" stroke-width="0.8" stroke-linejoin="round"/>
<polyline points="453.5,741.7 463.5,766.7 480.2,793.4 490.2,808.4" fill="none" stroke="#8a8a8a" stroke-width="0.8" stroke-linejoin="round"/>
<polygon points="468.5,780.1 475.1,780.1 480.2,790.1 486.8,803.4 483.5,806.8 476.8,800.1 471.8,790.1 466.8,783.4" fill="none" stroke="#8a8a8a" stroke-width="0.9" stroke-linejoin="round"/>
<polygon points="450.1,788.4 454.3,789.3 456.8,800.1 455.1,804.3 451.8,801.8 450.5,795.1" fill="none" stroke="#8a8a8a" stroke-width="0.9" stroke-linejoin="round"/>
<polygon points="368.4,786.8 375.0,785.9 378.4,791.8 377.5,797.6 371.7,796.8 367.5,792.6" fill="none" stroke="#8a8a8a" stroke-width="0.9" stroke-linejoin="round"/>
<polygon points="391.7,773.4 395.9,774.2 396.7,778.4 393.1,778.7" fill="none" stroke="#8a8a8a" stroke-width="0.8" stroke-linejoin="round"/>
<polygon points="390.1,763.4 398.4,761.7 400.9,766.7 396.7,770.1 390.9,768.4" fill="none" stroke="#8a8a8a" stroke-width="0.8" stroke-linejoin="round"/>
<polyline points="430.1,786.8 438.4,788.4 445.1,793.4 443.4,806.8 445.1,816.8 438.4,815.1 433.4,806.8" fill="none" stroke="#8a8a8a" stroke-width="0.9" stroke-linejoin="round"/>
<polyline points="380.1,790.1 388.4,793.4 393.4,800.1 391.7,806.8 396.7,816.8 401.7,826.8 403.4,840.0" fill="none" stroke="#8a8a8a" stroke-width="0.9" stroke-linejoin="round"/>
<polyline points="330.0,770.1 336.7,766.7 341.7,771.7 340.0,780.1 333.3,783.4" fill="none" stroke="#8a8a8a" stroke-width="0.8" stroke-linejoin="round"/>
<polygon points="406.7,778.4 416.8,775.9 426.8,778.4 427.6,785.1 408.4,785.9" fill="#a2d99a" stroke="none" stroke-width="0" />
<polygon points="361.7,740.9 370.0,740.9 371.7,748.4 365.9,750.1 362.5,746.7" fill="#a2d99a" stroke="none" stroke-width="0" />
<polygon points="372.5,744.7 385.1,746.7 385.9,755.1 382.1,758.7 377.0,755.1 373.7,750.1" fill="#fdf9c6" stroke="none" stroke-width="0" />
<polygon points="385.1,746.7 395.9,747.0 395.4,755.1 393.4,763.4 390.1,768.4 383.4,770.1 380.1,766.7 384.2,760.1 385.9,755.1" fill="#a2d99a" stroke="none" stroke-width="0" />
<polygon points="516.3,683.4 524.1,680.8 534.5,682.1 542.3,684.7 544.9,689.8 547.5,693.7 546.2,698.9 544.9,705.4 547.5,709.3 557.9,711.9 568.2,717.1 576,724.9 578.6,732.7 583.8,732.7 589,735.3 593,731.5 593.1,722.1 621.4,722.1 623,736.2 615.1,739.4 615.1,766.2 607.3,775.6 599.4,794.5 600.5,800 598,815 600.5,830 600.5,857.5 557.5,856 557.5,786 539,786 539,806 508.7,806.2 504,790.3 502.4,777.7 500.8,761.9 494.5,752.5 500.8,749.3 499.3,738.3 485.1,736.7 477.2,727.3 478.8,717.8 488.2,709.9 510.3,709.9 519.7,702.1 526,694.2 516.6,692.6" fill="#a2d99a" stroke="none" stroke-width="0" />
<polygon points="504,806.2 539,806 539,786 557.5,786 557.5,856 535,854 513.4,851.9 504,836.2" fill="#fdf9c6" stroke="none" stroke-width="0" />
<polygon points="538.6,774.5 550,772 565.4,778 565.4,800 557.5,800 557.5,786 539,786" fill="#fdf9c6" stroke="none" stroke-width="0" />
<polygon points="504,760.4 511.9,760.4 511.9,774.5 505.5,776" fill="#fdf9c6" stroke="none" stroke-width="0" />
<polygon points="545,782.4 551,782.4 551.3,792 547.5,795 545,790" fill="#dca053" stroke="none" stroke-width="0" />
<polygon points="502.5,826 506,826 506,830 502.5,830" fill="#dca053" stroke="none" stroke-width="0" />
<polygon points="518,818 526,816 527,826 519,826" fill="#a2d99a" stroke="none" stroke-width="0" />
<polygon points="532.3,725.7 541.8,725.7 544.9,739.9 543.4,768.2 537.1,774.5 532.3,773.0 533.9,749.3 532.3,736.7" fill="#1f9a4a" stroke="none" stroke-width="0" />
<polygon points="549.7,735.1 557.6,735.1 560.7,747.7 556.0,757.2 551.3,755.6 549.7,743.0" fill="#1f9a4a" stroke="none" stroke-width="0" />
<polygon points="521.3,768.2 527.6,766.7 529.2,777.7 524.5,780.8 519.7,777.7" fill="#1f9a4a" stroke="none" stroke-width="0" />
<polygon points="554.4,739.9 557.6,739.9 557.9,744.6 555.2,744.9" fill="#5053e6" stroke="none" stroke-width="0" />
<polygon points="535.5,754.1 539.4,754.1 539.4,758.8 535.8,758.8" fill="#5053e6" stroke="none" stroke-width="0" />
<polygon points="480.0,660.0 494.3,660.0 493.6,670.4 487.8,680.8 483.9,691.1 480.0,691.8" fill="#a2d99a" stroke="none" stroke-width="0" />
<polygon points="481.3,701.5 494.3,701.5 494.3,709.3 481.3,709.3" fill="#a2d99a" stroke="none" stroke-width="0" />
<polygon points="615.1,739.4 623,736.2 641.9,736.2 657.7,737.8 670.3,737.8 686,739.4 688,745.6 690,756 693,772 719,774 721,790 735,795 742,800 734.5,807.5 738.4,819 757.6,826.7 763.3,832.4 792.1,834.3 794,822.8 807.5,822.8 815.1,819 834.3,822.8 834.3,845.8 834,855.5 750,857.5 650,858 600.5,857.5 600.5,830 598,815 600.5,800 599.4,794.5 607.3,775.6 615.1,766.2" fill="#fdf9c6" stroke="none" stroke-width="0" />
<polygon points="589.9,739.4 612.0,739.4 613.6,752.0 607.3,763.0 597.8,764.6 589.9,759.9 588.4,747.3" fill="#fdf9c6" stroke="none" stroke-width="0" />
<polygon points="593.1,722.1 621.4,722.1 623.0,736.2 613.6,739.4 607.3,736.2 596.2,731.5" fill="#a2d99a" stroke="none" stroke-width="0" />
<polygon points="637.2,745.7 648.2,745.7 653.0,759.9 648.2,766.2 640.4,763.0" fill="#a2d99a" stroke="none" stroke-width="0" />
<polygon points="665.6,745.7 686.0,742.5 687.6,766.2 678.2,767.7 668.7,763.0 665.6,755.1" fill="#a2d99a" stroke="none" stroke-width="0" />
<polygon points="673.4,753.6 679.0,753.6 679.7,763.0 673.4,763.0" fill="#1f9a4a" stroke="none" stroke-width="0" />
<polygon points="610.4,804.0 619.9,804.0 621.4,813.4 613.6,815.0" fill="#a2d99a" stroke="none" stroke-width="0" />
<polygon points="603.6,847.2 627.3,844.1 649.3,845.6 668.2,851.9 671.4,857.4 600.5,857.4" fill="#f8f8f2" stroke="none" stroke-width="0" />
<polygon points="580.0,795.2 586.3,795.2 586.3,801.5 580.0,801.5" fill="#f8f8f2" stroke="none" stroke-width="0" />
<polygon points="598.9,818.8 606.8,818.8 606.8,833.0 598.9,833.0" fill="#a2d99a" stroke="none" stroke-width="0" />
<polygon points="719,774 745,772 748,794 742,800 735,795 721,790" fill="#f4f4ee" stroke="none" stroke-width="0" />
<polygon points="635.1,783.4 643.0,783.4 646.2,788.9 654.1,788.9 660.4,795.2 666.7,801.5 671.4,807.8 674.5,815.7 677.7,809.4 682.4,807.8 687.1,815.7 690.3,820.4 696.6,815.7 701.3,811.8 706.0,815.7 709.2,822.0 712.3,829.9 718.6,831.4 728.1,833.0 737.6,834.6 740.7,839.3 739.1,847.2 732.8,844.1 729.7,848.8 728.1,853.5 721.8,856.7 715.5,855.1 710.8,848.8 706.0,855.1 698.2,857.4 674.5,857.4 671.4,851.9 665.1,848.8 654.1,845.6 649.3,834.6 644.6,833.0 643.0,839.3 638.3,844.1 636.7,848.8 630.4,847.2 627.3,842.5 625.7,836.2 625.7,822.0 630.4,817.3 632.0,809.4 628.8,801.5 625.7,792.1 630.4,787.3" fill="#dca053" stroke="none" stroke-width="0" />
<polygon points="633.6,793.6 636.7,793.6 638.3,799.9 635.1,801.5" fill="#fdf9c6" stroke="none" stroke-width="0" />
<polygon points="666.7,820.4 671.4,817.3 674.5,823.6 669.8,826.7" fill="#fdf9c6" stroke="none" stroke-width="0" />
<polygon points="646.2,829.9 649.3,829.9 650.1,836.2 647.0,836.2" fill="#f8f8f2" stroke="none" stroke-width="0" />
<polygon points="809.4,838.2 815.1,838.2 817.1,847.8 811.3,849.7" fill="#dca053" stroke="none" stroke-width="0" />
<polygon points="749.9,767.2 763.3,759.5 772.9,765.2 776.8,776.8 772.9,784.4 778.7,780.6 786.3,778.7 794.0,780.6 799.8,782.5 801.7,790.2 797.9,795.9 799.8,807.5 794.0,815.1 786.3,819.0 794.0,822.8 792.1,834.3 780.6,834.3 763.3,832.4 757.6,826.6 740.3,819.0 736.5,813.2 740.3,807.5 748.0,799.8 749.9,792.1 751.8,780.6" fill="#a2d99a" stroke="none" stroke-width="0" />
<polygon points="767.2,799.8 772.9,801.7 780.6,811.3 782.5,819.0 778.7,821.3 772.9,815.1 769.1,807.5" fill="#bcdcf5" stroke="none" stroke-width="0" />
<polygon points="744.1,759.5 749.9,767.2 751.8,780.6 757.6,788.3 765.2,795.9 763.3,799.8 757.6,794.0 749.9,784.4 746.1,774.8" fill="#bcdcf5" stroke="none" stroke-width="0" />
<polygon points="757.6,726.9 765.2,726.9 780.6,738.4 790.2,753.7 795.9,769.1 801.7,782.5 807.5,795.9 808.4,811.3 803.6,813.2 799.8,803.6 794.0,790.2 788.3,778.7 782.5,776.8 776.8,765.2 769.1,757.6 761.4,749.9 755.6,738.4" fill="#bcdcf5" stroke="none" stroke-width="0" />
<g clip-path="url(#skclip)" stroke="#c9c6b0" stroke-width="0.7" opacity="0.9">
<line x1="586.0" y1="735" x2="589.0" y2="860"/>
<line x1="592.3" y1="735" x2="595.3" y2="860"/>
<line x1="598.6" y1="735" x2="601.6" y2="860"/>
<line x1="604.9" y1="735" x2="607.9" y2="860"/>
<line x1="611.2" y1="735" x2="614.2" y2="860"/>
<line x1="617.5" y1="735" x2="620.5" y2="860"/>
<line x1="623.8" y1="735" x2="626.8" y2="860"/>
<line x1="630.1" y1="735" x2="633.1" y2="860"/>
<line x1="636.4" y1="735" x2="639.4" y2="860"/>
<line x1="642.7" y1="735" x2="645.7" y2="860"/>
<line x1="649.0" y1="735" x2="652.0" y2="860"/>
<line x1="655.3" y1="735" x2="658.3" y2="860"/>
<line x1="661.6" y1="735" x2="664.6" y2="860"/>
<line x1="667.9" y1="735" x2="670.9" y2="860"/>
<line x1="674.2" y1="735" x2="677.2" y2="860"/>
<line x1="680.5" y1="735" x2="683.5" y2="860"/>
<line x1="686.8" y1="735" x2="689.8" y2="860"/>
<line x1="693.1" y1="735" x2="696.1" y2="860"/>
<line x1="699.4" y1="735" x2="702.4" y2="860"/>
<line x1="705.7" y1="735" x2="708.7" y2="860"/>
<line x1="712.0" y1="735" x2="715.0" y2="860"/>
<line x1="718.3" y1="735" x2="721.3" y2="860"/>
<line x1="724.6" y1="735" x2="727.6" y2="860"/>
<line x1="730.9" y1="735" x2="733.9" y2="860"/>
<line x1="737.2" y1="735" x2="740.2" y2="860"/>
<line x1="743.5" y1="735" x2="746.5" y2="860"/>
<line x1="749.8" y1="735" x2="752.8" y2="860"/>
<line x1="756.1" y1="735" x2="759.1" y2="860"/>
<line x1="762.4" y1="735" x2="765.4" y2="860"/>
<line x1="768.7" y1="735" x2="771.7" y2="860"/>
<line x1="775.0" y1="735" x2="778.0" y2="860"/>
<line x1="781.3" y1="735" x2="784.3" y2="860"/>
<line x1="787.6" y1="735" x2="790.6" y2="860"/>
<line x1="793.9" y1="735" x2="796.9" y2="860"/>
<line x1="800.2" y1="735" x2="803.2" y2="860"/>
<line x1="806.5" y1="735" x2="809.5" y2="860"/>
<line x1="812.8" y1="735" x2="815.8" y2="860"/>
<line x1="819.1" y1="735" x2="822.1" y2="860"/>
<line x1="825.4" y1="735" x2="828.4" y2="860"/>
<line x1="831.7" y1="735" x2="834.7" y2="860"/>
<line x1="585" y1="737.0" x2="840" y2="738.5"/>
<line x1="585" y1="743.3" x2="840" y2="744.8"/>
<line x1="585" y1="749.6" x2="840" y2="751.1"/>
<line x1="585" y1="755.9" x2="840" y2="757.4"/>
<line x1="585" y1="762.2" x2="840" y2="763.7"/>
<line x1="585" y1="768.5" x2="840" y2="770.0"/>
<line x1="585" y1="774.8" x2="840" y2="776.3"/>
<line x1="585" y1="781.1" x2="840" y2="782.6"/>
<line x1="585" y1="787.4" x2="840" y2="788.9"/>
<line x1="585" y1="793.7" x2="840" y2="795.2"/>
<line x1="585" y1="800.0" x2="840" y2="801.5"/>
<line x1="585" y1="806.3" x2="840" y2="807.8"/>
<line x1="585" y1="812.6" x2="840" y2="814.1"/>
<line x1="585" y1="818.9" x2="840" y2="820.4"/>
<line x1="585" y1="825.2" x2="840" y2="826.7"/>
<line x1="585" y1="831.5" x2="840" y2="833.0"/>
<line x1="585" y1="837.8" x2="840" y2="839.3"/>
<line x1="585" y1="844.1" x2="840" y2="845.6"/>
<line x1="585" y1="850.4" x2="840" y2="851.9"/>
<line x1="585" y1="856.7" x2="840" y2="858.2"/>
</g>
<g stroke="#8da889" stroke-width="0.7" fill="none" opacity="0.9" clip-path="url(#abclip)">
<polyline points="504.7,777.5 509.6,778.0 512.7,778.0 517.9,776.2 522.8,776.2 527.4,776.2 532.9,778.4 537.5,778.4"/>
<polyline points="494.9,847.8 501.2,846.4 507.1,848.7 513.2,848.2"/>
<polyline points="575.1,760.6 575.1,764.0 576.1,768.0 576.1,774.4 576.1,779.7 578.6,785.1"/>
<polyline points="589.5,689.9 595.2,689.9 602.0,692.3 605.4,693.2 611.8,693.2 615.3,693.1 622.2,693.1 626.9,693.1"/>
<polyline points="528.4,755.6 533.9,752.9 539.2,752.9 544.2,752.9 547.2,750.5 550.4,750.5 554.5,749.1 557.7,749.1"/>
<polyline points="520.0,708.5 520.1,713.4 520.1,719.8 522.8,725.3 523.6,729.4 523.6,733.3 523.6,738.4"/>
<polyline points="573.5,852.9 579.0,852.9 584.5,852.9 590.3,852.0 594.4,851.9 597.6,851.9 601.6,851.7"/>
<polyline points="550.2,715.2 556.6,715.2 560.0,717.0 565.7,714.8 569.6,714.8 573.9,715.9"/>
<polyline points="562.3,702.3 568.0,702.3 571.3,702.3 577.8,702.3 584.0,702.3 588.2,704.3"/>
<polyline points="497.9,732.4 497.9,738.6 497.9,743.3 497.9,748.1"/>
<polyline points="527.5,754.6 527.3,758.4 526.9,765.4 528.4,769.3 531.2,775.2"/>
<polyline points="517.6,723.7 524.5,723.7 527.7,726.1 532.7,726.1 538.1,723.2 541.5,723.2 547.2,723.2 550.4,723.2"/>
<polyline points="517.7,727.9 517.7,734.2 517.7,738.0 517.7,741.6 514.7,747.9 514.7,753.2 515.4,757.2"/>
<polyline points="527.9,765.4 527.9,771.8 527.9,775.3 525.4,781.7"/>
<polyline points="536.2,711.7 541.8,711.7 545.9,711.7 549.4,712.0 555.3,713.8 559.0,713.0 564.6,713.3"/>
<polyline points="575.1,790.9 580.7,790.9 585.3,790.9 588.4,790.9 594.2,790.9 598.1,790.9"/>
<polyline points="592.1,748.6 593.2,752.1 593.2,757.8 594.6,763.4 596.5,768.6 596.5,771.6"/>
<polyline points="480.5,700.6 484.3,700.6 487.4,700.6 493.7,703.3 497.9,700.9 502.9,700.9 508.2,698.5"/>
<polyline points="482.6,740.1 482.6,744.1 482.6,748.9 482.6,752.9"/>
<polyline points="544.6,849.3 551.5,848.8 558.3,848.2 564.4,849.3 570.1,849.3"/>
<polyline points="587.2,710.4 593.8,710.4 599.2,710.4 603.3,708.6 608.3,711.2 613.5,712.9 619.3,712.3"/>
<polyline points="548.1,730.4 552.2,730.4 555.8,730.4 560.8,730.4"/>
<polyline points="598.9,766.5 601.3,771.9 601.2,777.1 603.9,780.4 603.9,786.9 604.8,793.5 604.8,796.7"/>
<polyline points="505.3,717.2 510.7,717.2 517.3,717.2 521.6,716.8 527.8,716.8"/>
<polyline points="579.2,734.6 585.2,734.6 589.5,734.6 592.8,735.5 599.6,734.8 603.9,734.8 609.6,732.5 616.2,730.1"/>
<polyline points="521.8,816.3 521.8,822.0 521.8,825.4 521.8,831.1 521.8,836.8 522.8,842.6"/>
<polyline points="567.8,794.8 570.1,798.5 567.8,803.3 566.8,806.9 566.8,812.5"/>
<polyline points="555.9,762.8 561.8,762.8 567.8,763.1 572.3,763.1 576.9,763.1"/>
<polyline points="534.8,731.1 534.8,735.5 534.8,740.3 534.8,744.7 535.4,748.3 537.1,751.8 538.2,755.2 539.7,759.9"/>
<polyline points="491.1,788.3 491.1,793.5 491.1,797.3 491.1,800.4 490.4,807.2"/>
<polyline points="588.3,737.6 594.0,736.4 599.0,737.0 604.5,734.7 608.4,732.7 613.3,730.9 617.1,732.8 623.9,732.8"/>
<polyline points="594.9,836.6 600.4,836.6 605.8,836.6 611.0,836.6"/>
<polyline points="516.0,743.4 516.0,749.9 516.0,755.7 516.0,762.7"/>
<polyline points="582.7,759.3 582.7,763.6 582.7,766.9 582.7,771.4 582.2,776.6 582.2,781.5 582.2,787.6"/>
</g>
<polyline points="589,735.3 593,731.5 593.1,722.1 600,721 612,722 621.4,722.1 623,736.2 641.9,736.2 650,733 657.7,737.8 670.3,737.8 686,739.4 690,743 692,738 701,741 706,747 700,752 703,756 712,757 716,760" fill="none" stroke="#8a8a8a" stroke-width="1"/>
<polyline points="700.0,751.8 711.5,749.9 723.0,753.7 732.6,757.6 738.4,765.2 745.1,771.0 748.0,780.6 751.8,790.2 749.9,799.8" fill="none" stroke="#8a8a8a" stroke-width="0.9"/>
<polyline points="803.6,799.8 811.3,803.6 819.0,811.3 822.8,819.0 834.3,826.6 838.2,832.4" fill="none" stroke="#8a8a8a" stroke-width="0.9"/>
</g>
<g font-family="Liberation Sans, Arial, sans-serif" font-size="6.6" fill="#3a3a3a" text-anchor="middle">
<rect x="505.6" y="587.2" width="16.2" height="7.2" fill="#fff" opacity="0.8"/>
<rect x="496.5" y="594.3" width="32.7" height="7.2" fill="#fff" opacity="0.8"/>
<rect x="412.8" y="637.6" width="45.9" height="7.2" fill="#fff" opacity="0.8"/>
<rect x="449.5" y="663.6" width="22.8" height="7.2" fill="#fff" opacity="0.8"/>
<rect x="447.8" y="670.7" width="26.1" height="7.2" fill="#fff" opacity="0.8"/>
<rect x="299.1" y="651.2" width="26.1" height="7.2" fill="#fff" opacity="0.8"/>
<rect x="371.7" y="690.6" width="45.9" height="7.2" fill="#fff" opacity="0.8"/>
<rect x="371.7" y="738.7" width="45.9" height="7.2" fill="#fff" opacity="0.8"/>
<rect x="399.2" y="782.6" width="29.4" height="7.2" fill="#fff" opacity="0.8"/>
<rect x="411.1" y="805.4" width="26.1" height="7.2" fill="#fff" opacity="0.8"/>
<rect x="344.1" y="809.3" width="32.7" height="7.2" fill="#fff" opacity="0.8"/>
<rect x="336.9" y="829.4" width="29.4" height="7.2" fill="#fff" opacity="0.8"/>
<rect x="469.2" y="824.7" width="32.7" height="7.2" fill="#fff" opacity="0.8"/>
<rect x="517.4" y="824.7" width="36.0" height="7.2" fill="#fff" opacity="0.8"/>
<rect x="506.1" y="787.9" width="26.1" height="7.2" fill="#fff" opacity="0.8"/>
<rect x="519.3" y="724.8" width="29.4" height="7.2" fill="#fff" opacity="0.8"/>
<rect x="510.3" y="756.8" width="29.4" height="7.2" fill="#fff" opacity="0.8"/>
<rect x="593.1" y="714.8" width="39.3" height="7.2" fill="#fff" opacity="0.8"/>
<rect x="567.8" y="736.4" width="42.6" height="7.2" fill="#fff" opacity="0.8"/>
<rect x="545.0" y="765.4" width="36.0" height="7.2" fill="#fff" opacity="0.8"/>
<rect x="632.3" y="738.4" width="45.9" height="7.2" fill="#fff" opacity="0.8"/>
<rect x="624.0" y="767.1" width="32.7" height="7.2" fill="#fff" opacity="0.8"/>
<rect x="603.6" y="781.3" width="29.4" height="7.2" fill="#fff" opacity="0.8"/>
<rect x="666.7" y="776.2" width="26.1" height="7.2" fill="#fff" opacity="0.8"/>
<rect x="709.8" y="720.1" width="26.1" height="7.2" fill="#fff" opacity="0.8"/>
<rect x="707.6" y="765.1" width="36.0" height="7.2" fill="#fff" opacity="0.8"/>
<rect x="734.9" y="787.9" width="26.1" height="7.2" fill="#fff" opacity="0.8"/>
<rect x="598.0" y="813.9" width="45.9" height="7.2" fill="#fff" opacity="0.8"/>
<rect x="662.3" y="809.8" width="22.8" height="7.2" fill="#fff" opacity="0.8"/>
<rect x="674.1" y="830.5" width="26.1" height="7.2" fill="#fff" opacity="0.8"/>
<rect x="738.8" y="821.3" width="26.1" height="7.2" fill="#fff" opacity="0.8"/>
<rect x="784.1" y="816.1" width="29.4" height="7.2" fill="#fff" opacity="0.8"/>
<rect x="774.0" y="834.8" width="22.8" height="7.2" fill="#fff" opacity="0.8"/>
<text x="513.7" y="593.4">Fort</text>
<text x="512.9" y="600.5">Vermilion</text>
<polygon points="510.5,609.4 513.7,604.2 516.9,609.4" fill="#000"/>
<text x="435.7" y="643.8">Fort St. John</text>
<polygon points="433.3,651.9 436.5,646.7 439.7,651.9" fill="#000"/>
<text x="460.9" y="669.8">Grande</text>
<text x="460.9" y="676.9">Prairie</text>
<polygon points="457.7,685.8 460.9,680.6 464.1,685.8" fill="#000"/>
<text x="312.2" y="657.4">Terrace</text>
<polygon points="309.0,664.6 312.2,659.4 315.4,664.6" fill="#000"/>
<text x="394.6" y="696.8">Prince George</text>
<polygon points="391.4,705.1 394.6,699.9 397.8,705.1" fill="#000"/>
<text x="394.6" y="744.9">Williams Lake</text>
<polygon points="389.9,753.4 393.1,748.2 396.3,753.4" fill="#000"/>
<text x="413.9" y="788.8">Kamloops</text>
<polygon points="411.3,797.0 414.5,791.8 417.7,797.0" fill="#000"/>
<text x="424.2" y="811.6">Kelowna</text>
<polygon points="421.6,820.1 424.8,814.9 428.0,820.1" fill="#000"/>
<text x="360.5" y="815.5">Vancouver</text>
<polygon points="357.3,823.1 360.5,817.9 363.7,823.1" fill="#000"/>
<text x="351.6" y="835.6">Victoria</text>
<polygon points="348.4,843.8 351.6,838.6 354.8,843.8" fill="#000"/>
<text x="485.6" y="830.9">Cranbrook</text>
<polygon points="483.3,838.8 486.5,833.6 489.7,838.8" fill="#000"/>
<text x="535.4" y="830.9">Lethbridge</text>
<polygon points="532.8,838.8 536.0,833.6 539.2,838.8" fill="#000"/>
<text x="519.1" y="794.1">Calgary</text>
<polygon points="515.9,802.3 519.1,797.1 522.3,802.3" fill="#000"/>
<text x="534" y="731.0">Edmonton</text>
<polygon points="531.7,739.2 534.9,734.0 538.1,739.2" fill="#000"/>
<text x="525" y="763.0">Red Deer</text>
<polygon points="522.8,771.5 526.0,766.3 529.2,771.5" fill="#000"/>
<text x="612.8" y="721.0">Meadow Lake</text>
<polygon points="610.4,729.4 613.6,724.2 616.8,729.4" fill="#000"/>
<text x="589.1" y="742.6">Lloydminster</text>
<polygon points="585.9,749.9 589.1,744.7 592.3,749.9" fill="#000"/>
<text x="563" y="771.6">Coronation</text>
<polygon points="560.0,779.8 563.2,774.6 566.4,779.8" fill="#000"/>
<text x="655.3" y="744.6">Prince Albert</text>
<polygon points="652.1,753.0 655.3,747.8 658.5,753.0" fill="#000"/>
<text x="640.4" y="773.3">Saskatoon</text>
<polygon points="637.2,781.1 640.4,775.9 643.6,781.1" fill="#000"/>
<text x="618.3" y="787.5">Rosetown</text>
<polygon points="615.9,795.6 619.1,790.4 622.3,795.6" fill="#000"/>
<text x="679.7" y="782.4">Wynyard</text>
<polygon points="677.0,790.5 680.2,785.3 683.4,790.5" fill="#000"/>
<text x="722.8" y="726.3">The Pas</text>
<polygon points="720.2,734.3 723.4,729.1 726.6,734.3" fill="#000"/>
<text x="725.6" y="771.3">Swan River</text>
<polygon points="723.2,779.3 726.4,774.1 729.6,779.3" fill="#000"/>
<text x="747.9" y="794.1">Dauphin</text>
<polygon points="745.2,801.0 748.4,795.8 751.6,801.0" fill="#000"/>
<text x="621" y="820.1">Swift Current</text>
<polygon points="618.1,828.5 621.3,823.3 624.5,828.5" fill="#000"/>
<text x="673.7" y="816.0">Regina</text>
<polygon points="671.0,823.8 674.2,818.6 677.4,823.8" fill="#000"/>
<text x="687.1" y="836.7">Weyburn</text>
<polygon points="684.4,844.8 687.6,839.6 690.8,844.8" fill="#000"/>
<text x="751.8" y="827.5">Brandon</text>
<polygon points="749.0,835.0 752.2,829.8 755.4,835.0" fill="#000"/>
<text x="798.8" y="822.3">Winnipeg</text>
<polygon points="795.6,829.6 798.8,824.4 802.0,829.6" fill="#000"/>
<text x="785.4" y="841.0">Morden</text>
<polygon points="782.2,850.0 785.4,844.8 788.6,850.0" fill="#000"/>
</g>
<rect x="723.3" y="498.5" width="111.6" height="130.2" fill="#fff" stroke="#555" stroke-width="1"/>
<rect x="725.8" y="501.1" width="30" height="16" fill="#4f55e6" stroke="#b0b0b0" stroke-width="0.8"/>
<text x="761" y="511.6" font-family="Liberation Sans, Arial, sans-serif" font-size="7.3" fill="#222">Surplus</text>
<rect x="725.8" y="523.3" width="30" height="16" fill="#1f9a4a" stroke="#b0b0b0" stroke-width="0.8"/>
<text x="761" y="533.8" font-family="Liberation Sans, Arial, sans-serif" font-size="7.3" fill="#222">Optimal</text>
<rect x="725.8" y="544.7" width="30" height="16" fill="#a2d99a" stroke="#b0b0b0" stroke-width="0.8"/>
<text x="761" y="555.2" font-family="Liberation Sans, Arial, sans-serif" font-size="7.3" fill="#222">Adequate</text>
<rect x="725.8" y="566.9" width="30" height="16" fill="#fdfac6" stroke="#b0b0b0" stroke-width="0.8"/>
<text x="761" y="577.4" font-family="Liberation Sans, Arial, sans-serif" font-size="7.3" fill="#222">Short</text>
<rect x="725.8" y="588.8" width="30" height="16" fill="#d9a055" stroke="#b0b0b0" stroke-width="0.8"/>
<text x="761" y="599.3" font-family="Liberation Sans, Arial, sans-serif" font-size="7.3" fill="#222">Very Short</text>
<rect x="725.8" y="611.0" width="30" height="16" fill="#fdfdfd" stroke="#b0b0b0" stroke-width="0.8"/>
<text x="761" y="621.5" font-family="Liberation Sans, Arial, sans-serif" font-size="7.3" fill="#222">No Reports Received</text>
<rect x="238.6" y="451.2" width="6.8" height="12" fill="#e31b3b"/><rect x="259.5" y="451.2" width="6.8" height="12" fill="#e31b3b"/>
<path d="M252.4 452.3 l1.2 2.3 1.3-.6 -.4 3 1.7-1.6 .4 1 2-.4 -.7 2.1 .9 .5 -3.4 2.6 .3 1.2 -3 -.4 v2.2 h-.6 v-2.2 l-3 .4 .3-1.2 -3.4-2.6 .9-.5 -.7-2.1 2 .4 .4-1 1.7 1.6 -.4-3 1.3.6z" fill="#e31b3b"/>
<g font-family="Liberation Sans, Arial, sans-serif" font-size="7" fill="#222">
<text x="278.4" y="456.3">Agriculture and</text><text x="278.4" y="463.2">Agri-Food Canada</text>
<text x="348.3" y="456.3">Agriculture et</text><text x="348.3" y="463.2">Agroalimentaire Canada</text>
</g>
<text x="776.2" y="463.1" font-family="Liberation Serif, Times New Roman, serif" font-weight="bold" font-size="21" letter-spacing="-1.1" fill="#111">Canada</text>
<rect x="829.8" y="447.8" width="2.2" height="4.1" fill="#f40d0d"/><rect x="837.3" y="447.8" width="2.4" height="4.1" fill="#f40d0d"/><path d="M834.4 448.3 l1.6 1.3 -0.5 0.4 -1.1 1.1 -1.1-1.1 -0.5-0.4z" fill="#f40d0d"/><rect x="832.3" y="449.2" width="4.4" height="1.6" fill="#f40d0d"/>
<rect x="239.2" y="467.3" width="600.5" height="24.2" fill="#787878"/>
<text x="247" y="486.6" font-family="Liberation Sans, Arial, sans-serif" font-weight="bold" font-size="14.5" fill="#f2f2f2">Condition of Surface Soil Moisture</text>
<text x="830.8" y="482.9" text-anchor="end" font-family="Liberation Sans, Arial, sans-serif" font-size="9.7" fill="#e6e6e6">As of September 30, 2020</text>
<rect x="239" y="870.5" width="600.5" height="2" fill="#8c8c8c"/>
<g font-family="Liberation Sans, Arial, sans-serif" fill="#333">
<text x="238.7" y="868" font-size="6.3">©2019 Agriculture and Agroclimate Canada</text>
<text x="239" y="879.9" font-size="6.4">Data provided through the Agroclimate Impact Reporting Network  of volunteer reporters.</text>
<text x="239" y="887.3" font-size="6.4">Qualitative surveys  are performed during the last week of every month from March to October.</text>
<text x="239" y="895.2" font-size="6.4">Accuracy of the map is dependent on the density of reporters  in a given location.</text>
<text x="839" y="880.8" font-size="6.2" font-weight="bold" text-anchor="end" fill="#222">Created:  2020/10/02</text>
<text x="839" y="886.7" font-size="6.4" font-weight="bold" text-anchor="end" fill="#222">www.agr.gc.ca/air</text>
</g>
<rect x="235.6" y="442.6" width="608.4" height="461.8" fill="none" stroke="#7a7a7a" stroke-width="1.2"/></svg>
</body>
</html>
